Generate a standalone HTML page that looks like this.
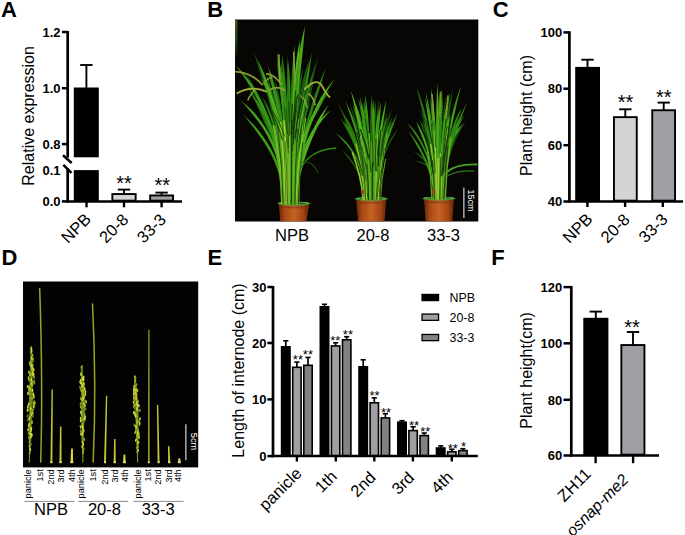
<!DOCTYPE html>
<html><head><meta charset="utf-8"><title>Figure</title>
<style>
html,body{margin:0;padding:0;background:#fff;}
body{width:685px;height:535px;overflow:hidden;font-family:"Liberation Sans", sans-serif;}
svg{display:block;font-family:"Liberation Sans", sans-serif;}
</style></head><body>
<svg width="685" height="535" viewBox="0 0 685 535">
<rect x="0" y="0" width="685" height="535" fill="#ffffff"/>
<defs><clipPath id="clipB"><rect x="235" y="19.5" width="243.3" height="202.0"/></clipPath><filter id="soft" x="-5%" y="-5%" width="110%" height="110%"><feGaussianBlur stdDeviation="0.45"/></filter><filter id="soft2" x="-5%" y="-5%" width="110%" height="110%"><feGaussianBlur stdDeviation="0.35"/></filter></defs>
<rect x="235" y="19.5" width="243.3" height="202.0" fill="#070605"/>
<g clip-path="url(#clipB)"><g filter="url(#soft)">
<defs><linearGradient id="lstrip" x1="0" x2="0" y1="0" y2="1"><stop offset="0" stop-color="#4c5a14"/><stop offset="0.55" stop-color="#1c4410"/><stop offset="1" stop-color="#070605"/></linearGradient></defs>
<rect x="235" y="19.5" width="2.4" height="40" fill="url(#lstrip)"/>
<defs><linearGradient id="pot1" x1="0" x2="1" y1="0" y2="0"><stop offset="0" stop-color="#5e240a"/><stop offset="0.2" stop-color="#a84a16"/><stop offset="0.5" stop-color="#c66222"/><stop offset="0.8" stop-color="#a44614"/><stop offset="1" stop-color="#5a220a"/></linearGradient></defs>
<path d="M278.59999999999997,203.8 L309.2,203.8 L308.79999999999995,206.3 L306.5,221.5 L280.2,221.5 L279.0,206.3 Z" fill="url(#pot1)"/>
<path d="M279.0,207.5 L308.79999999999995,207.5" stroke="#7a300e" stroke-width="1.6" stroke-opacity="0.55"/>
<ellipse cx="293.9" cy="203.5" rx="16.5" ry="2.0" fill="#3f9a38"/>
<ellipse cx="293.9" cy="203.0" rx="15.0" ry="1.0" fill="#6cbc48"/>
<ellipse cx="293.9" cy="203.20000000000002" rx="12.5" ry="0.7" fill="#1c3c18"/>
<defs><linearGradient id="pot2" x1="0" x2="1" y1="0" y2="0"><stop offset="0" stop-color="#5e240a"/><stop offset="0.2" stop-color="#a84a16"/><stop offset="0.5" stop-color="#c66222"/><stop offset="0.8" stop-color="#a44614"/><stop offset="1" stop-color="#5a220a"/></linearGradient></defs>
<path d="M355.9,199.1 L386.6,199.1 L386.2,201.6 L384.5,221.5 L358.1,221.5 L356.3,201.6 Z" fill="url(#pot2)"/>
<path d="M356.3,202.79999999999998 L386.2,202.79999999999998" stroke="#7a300e" stroke-width="1.6" stroke-opacity="0.55"/>
<ellipse cx="371.25" cy="198.79999999999998" rx="16.55000000000001" ry="2.0" fill="#3f9a38"/>
<ellipse cx="371.25" cy="198.29999999999998" rx="15.050000000000011" ry="1.0" fill="#6cbc48"/>
<ellipse cx="371.25" cy="198.5" rx="12.550000000000011" ry="0.7" fill="#1c3c18"/>
<defs><linearGradient id="pot3" x1="0" x2="1" y1="0" y2="0"><stop offset="0" stop-color="#5e240a"/><stop offset="0.2" stop-color="#a84a16"/><stop offset="0.5" stop-color="#c66222"/><stop offset="0.8" stop-color="#a44614"/><stop offset="1" stop-color="#5a220a"/></linearGradient></defs>
<path d="M423.8,198.7 L454.2,198.7 L453.79999999999995,201.2 L452.2,221.5 L425.6,221.5 L424.20000000000005,201.2 Z" fill="url(#pot3)"/>
<path d="M424.20000000000005,202.39999999999998 L453.79999999999995,202.39999999999998" stroke="#7a300e" stroke-width="1.6" stroke-opacity="0.55"/>
<ellipse cx="439.0" cy="198.39999999999998" rx="16.399999999999977" ry="2.0" fill="#3f9a38"/>
<ellipse cx="439.0" cy="197.89999999999998" rx="14.899999999999977" ry="1.0" fill="#6cbc48"/>
<ellipse cx="439.0" cy="198.1" rx="12.399999999999977" ry="0.7" fill="#1c3c18"/>
<path d="M291.5,190.9 L291.7,180.4 L292.0,170.1 L292.3,160.1 L292.4,150.3 L292.5,140.9 L292.6,131.6 L292.8,122.7 L293.0,114.0 L293.2,105.6 L293.4,97.4 L293.7,89.5 L293.6,81.9 L293.5,74.5 L293.3,67.4 L293.3,67.4 L292.4,74.5 L291.7,81.8 L291.2,89.4 L290.9,97.3 L290.7,105.5 L290.5,113.9 L290.3,122.6 L290.1,131.6 L290.0,140.8 L289.9,150.3 L289.8,160.1 L289.9,170.1 L290.0,180.4 L290.2,190.9Z" fill="#1a540b"/>
<path d="M292.3,189.8 L292.5,181.4 L292.7,173.0 L292.9,164.6 L293.0,156.1 L293.1,147.6 L293.2,139.1 L293.3,130.6 L293.5,122.0 L293.6,113.3 L293.8,104.7 L294.0,96.0 L294.0,87.2 L293.9,78.4 L293.7,69.6 L293.7,69.6 L293.1,78.4 L292.6,87.2 L292.2,95.9 L292.0,104.6 L291.8,113.3 L291.7,121.9 L291.5,130.5 L291.4,139.1 L291.3,147.6 L291.2,156.1 L291.1,164.6 L291.2,173.0 L291.3,181.4 L291.4,189.8Z" fill="#1c5a0c"/>
<path d="M279.9,171.8 L279.5,165.4 L278.9,159.1 L277.9,152.7 L276.5,146.3 L274.8,140.0 L272.8,133.6 L270.6,127.3 L268.0,121.0 L265.2,114.7 L262.1,108.4 L258.8,102.1 L254.9,96.0 L250.6,89.9 L246.0,84.0 L246.0,84.0 L249.7,90.5 L253.3,97.0 L256.6,103.3 L259.9,109.5 L263.0,115.7 L265.7,122.0 L268.2,128.2 L270.5,134.4 L272.4,140.7 L274.1,146.9 L275.5,153.2 L276.8,159.4 L277.9,165.6 L278.7,171.9Z" fill="#1a540b"/>
<path d="M283.3,161.0 L283.1,156.2 L282.8,151.5 L282.2,146.8 L281.3,142.1 L280.2,137.4 L278.9,132.7 L277.4,128.1 L275.7,123.5 L273.9,118.8 L271.8,114.2 L269.5,109.6 L266.9,105.2 L264.0,100.8 L260.9,96.4 L260.9,96.4 L263.4,101.1 L265.9,105.7 L268.1,110.4 L270.4,114.9 L272.4,119.4 L274.3,124.0 L276.0,128.6 L277.4,133.2 L278.7,137.8 L279.8,142.4 L280.7,147.0 L281.5,151.7 L282.1,156.3 L282.5,161.0Z" fill="#143f08"/>
<path d="M291.0,189.5 L291.3,181.1 L291.5,172.7 L291.7,164.6 L291.8,156.6 L291.9,148.8 L292.0,141.1 L292.1,133.6 L292.2,126.3 L292.3,119.1 L292.4,112.1 L292.6,105.3 L292.4,98.6 L292.2,92.0 L291.9,85.7 L291.9,85.7 L291.2,92.0 L290.7,98.5 L290.2,105.2 L290.1,112.1 L290.0,119.1 L289.9,126.2 L289.8,133.6 L289.7,141.1 L289.6,148.8 L289.5,156.6 L289.4,164.6 L289.5,172.7 L289.7,181.0 L289.9,189.5Z" fill="#20660e"/>
<path d="M287.7,196.7 L287.7,187.3 L287.6,178.1 L287.3,169.0 L286.8,160.0 L286.2,151.1 L285.5,142.4 L284.6,133.8 L283.6,125.4 L282.6,117.0 L281.4,108.8 L280.1,100.7 L278.4,92.8 L276.6,85.1 L274.5,77.5 L274.5,77.5 L275.7,85.3 L276.9,93.1 L278.0,101.1 L279.3,109.1 L280.5,117.3 L281.6,125.6 L282.5,134.0 L283.4,142.6 L284.1,151.3 L284.7,160.1 L285.3,169.1 L285.8,178.1 L286.3,187.4 L286.7,196.7Z" fill="#1c5a0c"/>
<path d="M285.2,163.5 L285.0,156.8 L284.8,150.1 L284.3,143.4 L283.6,136.7 L282.8,130.1 L281.8,123.6 L280.7,117.0 L279.5,110.5 L278.1,104.1 L276.6,97.7 L274.9,91.3 L272.9,85.0 L270.7,78.8 L268.3,72.6 L268.3,72.6 L270.0,79.0 L271.7,85.4 L273.2,91.7 L274.9,98.1 L276.4,104.5 L277.8,110.9 L279.0,117.3 L280.1,123.8 L281.1,130.4 L281.9,136.9 L282.6,143.5 L283.3,150.2 L283.9,156.8 L284.3,163.5Z" fill="#174e0a"/>
<path d="M284.0,169.2 L283.8,163.3 L283.4,157.3 L282.9,151.3 L282.0,145.3 L281.1,139.3 L280.0,133.3 L278.8,127.3 L277.5,121.3 L276.0,115.3 L274.4,109.2 L272.7,103.2 L270.6,97.2 L268.3,91.2 L265.7,85.3 L265.7,85.3 L267.3,91.6 L269.0,97.7 L270.5,103.8 L272.2,109.8 L273.8,115.8 L275.3,121.8 L276.6,127.8 L277.8,133.8 L278.9,139.7 L279.8,145.7 L280.6,151.6 L281.5,157.5 L282.2,163.4 L282.9,169.3Z" fill="#174e0a"/>
<path d="M292.1,187.4 L292.4,180.3 L292.8,173.2 L293.1,166.1 L293.4,159.1 L293.7,152.1 L294.0,145.2 L294.4,138.3 L294.8,131.5 L295.3,124.7 L295.9,118.0 L296.5,111.3 L296.8,104.6 L297.1,98.0 L297.4,91.3 L297.4,91.3 L296.1,97.9 L295.1,104.4 L294.2,111.1 L293.6,117.8 L293.0,124.6 L292.5,131.4 L292.1,138.2 L291.7,145.1 L291.4,152.0 L291.1,159.0 L290.8,166.0 L290.8,173.1 L290.8,180.2 L291.0,187.4Z" fill="#1c5a0c"/>
<path d="M295.7,200.3 L296.3,190.7 L297.1,181.1 L298.0,171.5 L298.9,162.0 L299.9,152.4 L301.2,142.8 L302.6,133.2 L304.2,123.7 L305.9,114.1 L307.9,104.6 L310.0,95.0 L311.9,85.4 L314.0,75.7 L316.0,66.0 L316.0,66.0 L312.7,75.4 L309.8,84.9 L307.2,94.4 L305.1,104.0 L303.1,113.6 L301.3,123.2 L299.8,132.8 L298.3,142.4 L297.1,152.0 L296.0,161.7 L295.1,171.3 L294.6,180.9 L294.3,190.6 L294.2,200.2Z" fill="#143f08"/>
<path d="M286.5,200.3 L286.5,190.6 L286.3,180.9 L285.9,171.3 L285.1,161.8 L284.2,152.4 L283.0,143.1 L281.6,133.8 L280.1,124.7 L278.3,115.6 L276.4,106.6 L274.3,97.7 L271.7,88.9 L268.8,80.3 L265.6,71.8 L265.6,71.8 L267.9,80.6 L270.0,89.4 L272.1,98.2 L274.2,107.1 L276.1,116.0 L277.9,125.1 L279.4,134.2 L280.8,143.4 L281.9,152.7 L282.9,162.0 L283.6,171.5 L284.4,181.0 L285.0,190.6 L285.4,200.3Z" fill="#1c5a0c"/>
<path d="M284.4,183.7 L284.0,178.3 L283.4,172.8 L282.5,167.3 L281.2,161.7 L279.7,156.0 L278.0,150.3 L276.1,144.5 L274.0,138.6 L271.6,132.6 L269.1,126.5 L266.3,120.4 L263.1,114.4 L259.5,108.3 L255.6,102.3 L255.6,102.3 L258.4,108.9 L261.1,115.3 L263.8,121.6 L266.5,127.7 L269.0,133.7 L271.3,139.6 L273.4,145.4 L275.3,151.1 L277.0,156.8 L278.4,162.4 L279.7,167.9 L281.0,173.3 L282.1,178.6 L283.0,183.9Z" fill="#1a540b"/>
<path d="M292.0,188.6 L292.3,176.6 L292.7,165.0 L293.1,153.8 L293.4,143.0 L293.8,132.6 L294.2,122.5 L294.7,112.9 L295.2,103.7 L295.8,94.8 L296.4,86.4 L297.1,78.3 L297.6,70.7 L298.1,63.4 L298.4,56.4 L298.4,56.4 L297.1,63.2 L295.9,70.5 L294.9,78.1 L294.2,86.2 L293.6,94.7 L293.0,103.5 L292.5,112.8 L292.0,122.4 L291.6,132.5 L291.2,142.9 L290.9,153.7 L290.8,164.9 L290.8,176.5 L290.9,188.5Z" fill="#1a540b"/>
<path d="M284.5,169.2 L284.3,163.0 L284.0,156.7 L283.4,150.3 L282.5,143.8 L281.4,137.3 L280.1,130.7 L278.6,124.0 L276.9,117.3 L275.1,110.5 L273.1,103.7 L270.9,96.7 L268.2,89.8 L265.3,82.9 L262.0,76.0 L262.0,76.0 L264.2,83.3 L266.3,90.5 L268.4,97.6 L270.5,104.4 L272.5,111.2 L274.4,118.0 L276.0,124.6 L277.5,131.2 L278.7,137.8 L279.8,144.2 L280.8,150.6 L281.7,156.9 L282.5,163.1 L283.2,169.3Z" fill="#174e0a"/>
<path d="M295.1,188.0 L295.5,177.0 L296.0,166.3 L296.6,156.0 L297.2,145.9 L297.9,136.0 L298.7,126.5 L299.7,117.3 L300.8,108.3 L302.0,99.6 L303.4,91.2 L304.9,83.0 L306.3,75.1 L307.6,67.5 L309.0,60.0 L309.0,60.0 L306.5,67.2 L304.3,74.7 L302.3,82.5 L300.8,90.7 L299.4,99.2 L298.1,107.9 L297.0,117.0 L296.1,126.3 L295.2,135.8 L294.5,145.7 L294.0,155.8 L293.8,166.3 L293.7,177.0 L293.8,187.9Z" fill="#1c5a0c"/>
<path d="M293.7,189.4 L294.0,179.7 L294.5,170.1 L295.0,160.7 L295.4,151.4 L295.8,142.4 L296.4,133.4 L297.1,124.7 L297.8,116.1 L298.6,107.7 L299.5,99.4 L300.5,91.3 L301.3,83.4 L302.1,75.5 L302.8,67.8 L302.8,67.8 L301.0,75.4 L299.5,83.1 L298.1,91.0 L297.1,99.1 L296.2,107.4 L295.3,115.9 L294.6,124.5 L293.9,133.3 L293.4,142.2 L292.9,151.3 L292.5,160.6 L292.3,170.0 L292.4,179.6 L292.4,189.4Z" fill="#20660e"/>
<path d="M295.2,198.4 L295.9,189.7 L296.7,181.1 L297.6,172.5 L298.5,164.0 L299.5,155.5 L300.6,147.1 L301.9,138.6 L303.4,130.3 L304.9,121.9 L306.6,113.7 L308.5,105.4 L310.2,97.2 L312.0,88.9 L313.8,80.6 L313.8,80.6 L311.0,88.6 L308.6,96.7 L306.3,104.9 L304.5,113.2 L302.8,121.5 L301.2,129.9 L299.8,138.3 L298.5,146.7 L297.3,155.2 L296.3,163.8 L295.4,172.3 L294.8,181.0 L294.4,189.6 L294.1,198.3Z" fill="#20660e"/>
<path d="M292.5,184.6 L292.7,175.7 L293.0,167.1 L293.4,158.8 L293.7,150.7 L294.0,142.9 L294.4,135.3 L294.8,127.9 L295.3,120.8 L295.9,114.0 L296.6,107.4 L297.3,101.0 L297.8,94.9 L298.3,89.0 L298.7,83.3 L298.7,83.3 L297.4,88.9 L296.2,94.7 L295.2,100.8 L294.5,107.2 L293.9,113.8 L293.3,120.7 L292.8,127.8 L292.3,135.2 L291.9,142.8 L291.6,150.6 L291.3,158.8 L291.3,167.1 L291.3,175.7 L291.4,184.6Z" fill="#1a540b"/>
<path d="M284.3,181.8 L283.9,172.6 L283.4,163.3 L282.5,154.0 L281.2,144.8 L279.7,135.5 L277.9,126.2 L275.9,116.9 L273.6,107.6 L271.1,98.3 L268.4,88.9 L265.4,79.6 L261.8,70.3 L257.9,61.1 L253.6,52.0 L253.6,52.0 L256.7,61.6 L259.6,71.1 L262.5,80.5 L265.5,89.8 L268.2,99.1 L270.7,108.3 L272.9,117.6 L274.9,126.8 L276.7,136.0 L278.2,145.2 L279.5,154.4 L280.8,163.6 L281.9,172.7 L282.7,181.9Z" fill="#1c5a0c"/>
<path d="M294.6,197.5 L295.3,186.9 L296.3,176.3 L297.4,165.9 L298.5,155.6 L299.7,145.4 L301.2,135.3 L302.8,125.3 L304.6,115.4 L306.6,105.6 L308.8,96.0 L311.1,86.4 L313.4,76.9 L315.7,67.4 L318.0,58.0 L318.0,58.0 L314.5,67.1 L311.3,76.3 L308.4,85.7 L306.0,95.3 L303.8,105.0 L301.8,114.9 L300.0,124.8 L298.4,134.9 L296.9,145.0 L295.7,155.3 L294.6,165.7 L293.9,176.2 L293.4,186.8 L293.2,197.5Z" fill="#1a540b"/>
<path d="M296.9,189.9 L297.6,182.0 L298.5,174.1 L299.6,166.1 L300.7,158.2 L302.1,150.3 L303.7,142.3 L305.5,134.3 L307.6,126.3 L309.9,118.3 L312.4,110.3 L315.1,102.3 L317.8,94.1 L320.6,85.9 L323.5,77.6 L323.5,77.6 L319.6,85.5 L316.0,93.4 L312.8,101.4 L310.0,109.5 L307.5,117.6 L305.2,125.7 L303.1,133.7 L301.3,141.8 L299.7,149.8 L298.3,157.8 L297.1,165.8 L296.4,173.8 L295.9,181.8 L295.6,189.8Z" fill="#1a540b"/>
<path d="M281.5,165.6 L281.4,160.9 L281.0,156.2 L280.4,151.5 L279.4,146.8 L278.3,142.1 L276.9,137.4 L275.3,132.7 L273.6,128.0 L271.6,123.2 L269.4,118.5 L267.0,113.8 L264.2,109.1 L261.2,104.5 L257.9,100.0 L257.9,100.0 L260.6,104.9 L263.1,109.8 L265.5,114.6 L267.9,119.2 L270.1,123.9 L272.0,128.6 L273.8,133.2 L275.3,137.9 L276.6,142.5 L277.8,147.2 L278.7,151.8 L279.6,156.4 L280.2,161.0 L280.7,165.6Z" fill="#1c5a0c"/>
<path d="M292.7,190.9 L293.0,182.2 L293.4,173.6 L293.8,165.0 L294.1,156.5 L294.5,148.0 L295.0,139.6 L295.5,131.3 L296.2,123.0 L296.8,114.8 L297.6,106.7 L298.4,98.6 L299.0,90.6 L299.6,82.6 L300.2,74.7 L300.2,74.7 L298.7,82.5 L297.4,90.4 L296.3,98.4 L295.5,106.5 L294.7,114.6 L294.0,122.8 L293.4,131.1 L292.9,139.5 L292.4,147.9 L292.0,156.4 L291.7,164.9 L291.6,173.5 L291.5,182.2 L291.6,190.9Z" fill="#174e0a"/>
<path d="M292.3,191.4 L292.6,182.1 L293.0,173.0 L293.4,163.9 L293.7,154.9 L294.1,146.0 L294.5,137.3 L295.0,128.6 L295.6,120.1 L296.3,111.6 L297.0,103.3 L297.7,95.1 L298.3,86.9 L298.9,78.9 L299.5,70.9 L299.5,70.9 L298.2,78.8 L297.0,86.8 L295.9,94.9 L295.2,103.1 L294.4,111.5 L293.8,119.9 L293.2,128.5 L292.7,137.2 L292.3,146.0 L291.9,154.8 L291.6,163.8 L291.4,172.9 L291.4,182.1 L291.4,191.4Z" fill="#2a7c10"/>
<path d="M296.1,184.5 L296.8,175.7 L297.5,166.9 L298.4,157.9 L299.2,148.8 L300.0,139.6 L301.0,130.4 L302.2,121.0 L303.4,111.5 L304.8,101.9 L306.3,92.2 L307.9,82.3 L309.3,72.4 L310.6,62.3 L312.0,52.0 L312.0,52.0 L309.4,62.0 L307.1,72.0 L305.0,81.9 L303.4,91.7 L302.0,101.4 L300.6,111.1 L299.3,120.6 L298.2,130.0 L297.2,139.4 L296.3,148.6 L295.6,157.7 L295.1,166.7 L294.8,175.6 L294.7,184.5Z" fill="#2e8812"/>
<path d="M287.0,193.1 L286.7,182.4 L286.3,172.0 L285.7,161.9 L284.9,152.1 L283.9,142.6 L282.7,133.4 L281.5,124.5 L280.0,115.9 L278.5,107.6 L276.8,99.7 L275.0,92.0 L272.8,84.7 L270.4,77.7 L267.8,71.1 L267.8,71.1 L269.6,77.9 L271.5,85.0 L273.2,92.4 L275.0,100.1 L276.7,108.0 L278.3,116.2 L279.7,124.8 L280.9,133.6 L282.1,142.8 L283.1,152.3 L283.9,162.0 L284.8,172.1 L285.5,182.5 L286.1,193.2Z" fill="#328e14"/>
<path d="M290.0,201.9 L290.1,192.4 L290.2,183.1 L290.2,174.0 L290.1,165.0 L289.9,156.2 L289.8,147.5 L289.6,139.0 L289.4,130.6 L289.1,122.4 L288.9,114.4 L288.6,106.5 L288.1,98.7 L287.5,91.1 L286.8,83.7 L286.8,83.7 L286.8,91.2 L286.9,98.8 L287.0,106.5 L287.2,114.4 L287.5,122.5 L287.7,130.7 L288.0,139.0 L288.1,147.5 L288.3,156.2 L288.5,165.0 L288.6,174.0 L288.8,183.1 L289.0,192.4 L289.2,201.9Z" fill="#2c8412"/>
<path d="M288.9,198.6 L289.0,186.6 L288.9,174.8 L288.8,163.4 L288.4,152.3 L288.0,141.6 L287.5,131.2 L287.0,121.2 L286.4,111.4 L285.8,102.0 L285.1,93.0 L284.4,84.3 L283.3,75.9 L282.1,67.9 L280.8,60.3 L280.8,60.3 L281.2,68.0 L281.7,76.1 L282.2,84.5 L283.0,93.2 L283.7,102.2 L284.3,111.6 L284.9,121.3 L285.4,131.3 L285.8,141.7 L286.3,152.4 L286.6,163.5 L287.1,174.9 L287.5,186.6 L287.9,198.7Z" fill="#2c8412"/>
<path d="M290.9,192.6 L291.1,181.0 L291.3,169.7 L291.5,158.7 L291.4,148.1 L291.3,137.8 L291.1,127.8 L291.0,118.2 L290.8,108.8 L290.6,99.9 L290.4,91.2 L290.2,82.9 L289.6,74.9 L288.9,67.3 L288.0,60.0 L288.0,60.0 L287.7,67.3 L287.5,75.0 L287.4,83.0 L287.6,91.3 L287.8,99.9 L288.0,108.9 L288.1,118.2 L288.3,127.8 L288.4,137.8 L288.5,148.1 L288.6,158.7 L288.9,169.7 L289.2,181.0 L289.5,192.6Z" fill="#328e14"/>
<path d="M292.8,193.3 L293.1,182.7 L293.5,172.2 L293.9,161.9 L294.2,151.8 L294.5,141.7 L294.8,131.9 L295.2,122.1 L295.7,112.6 L296.2,103.1 L296.7,93.8 L297.3,84.7 L297.6,75.7 L297.9,66.8 L298.0,58.0 L298.0,58.0 L296.6,66.7 L295.5,75.5 L294.5,84.5 L293.9,93.7 L293.3,103.0 L292.8,112.4 L292.4,122.0 L292.0,131.8 L291.6,141.6 L291.3,151.7 L291.1,161.9 L291.1,172.2 L291.2,182.7 L291.3,193.3Z" fill="#2c8412"/>
<path d="M280.7,160.9 L280.2,156.4 L279.6,151.7 L278.6,147.0 L277.3,142.3 L275.7,137.5 L273.9,132.6 L271.8,127.7 L269.5,122.7 L267.0,117.6 L264.3,112.5 L261.3,107.3 L257.9,102.2 L254.1,97.1 L250.0,92.0 L250.0,92.0 L253.2,97.7 L256.3,103.2 L259.2,108.5 L262.2,113.7 L264.9,118.7 L267.4,123.7 L269.6,128.7 L271.6,133.5 L273.4,138.3 L275.0,143.0 L276.3,147.6 L277.6,152.2 L278.6,156.6 L279.5,161.1Z" fill="#328e14"/>
<path d="M290.0,197.2 L290.1,186.9 L290.2,176.7 L290.3,166.4 L290.2,156.2 L290.0,146.0 L289.9,135.8 L289.7,125.6 L289.6,115.5 L289.4,105.3 L289.2,95.2 L288.9,85.1 L288.5,75.0 L287.9,64.9 L287.3,54.9 L287.3,54.9 L287.2,64.9 L287.3,75.0 L287.3,85.1 L287.6,95.2 L287.8,105.4 L288.0,115.5 L288.2,125.7 L288.3,135.8 L288.5,146.0 L288.6,156.2 L288.7,166.4 L288.9,176.7 L289.1,186.9 L289.2,197.2Z" fill="#2a7c10"/>
<path d="M289.2,203.4 L289.2,192.7 L289.1,182.1 L288.9,171.7 L288.4,161.5 L287.8,151.6 L287.2,141.8 L286.5,132.2 L285.7,122.8 L284.8,113.6 L283.9,104.6 L282.8,95.8 L281.4,87.3 L279.9,78.9 L278.1,70.8 L278.1,70.8 L278.9,79.1 L279.8,87.5 L280.7,96.1 L281.7,104.9 L282.7,113.8 L283.5,123.0 L284.3,132.4 L285.0,141.9 L285.7,151.7 L286.2,161.6 L286.7,171.8 L287.2,182.2 L287.7,192.7 L288.1,203.5Z" fill="#389616"/>
<path d="M284.5,181.5 L284.4,175.7 L284.1,169.9 L283.6,163.9 L282.8,158.0 L281.7,151.9 L280.4,145.9 L279.0,139.7 L277.3,133.5 L275.4,127.3 L273.3,120.9 L271.0,114.6 L268.3,108.2 L265.3,101.9 L262.0,95.5 L262.0,95.5 L264.6,102.2 L267.0,108.8 L269.3,115.2 L271.5,121.6 L273.6,127.8 L275.5,134.0 L277.1,140.2 L278.6,146.3 L279.9,152.3 L280.9,158.3 L281.8,164.2 L282.6,170.0 L283.2,175.8 L283.6,181.5Z" fill="#2c8412"/>
<path d="M292.0,200.2 L292.3,188.6 L292.5,177.5 L292.7,166.6 L292.8,156.2 L292.9,146.2 L293.0,136.5 L293.1,127.1 L293.2,118.2 L293.4,109.6 L293.5,101.4 L293.7,93.6 L293.6,86.1 L293.4,79.0 L293.1,72.2 L293.1,72.2 L292.4,79.0 L291.8,86.0 L291.3,93.5 L291.2,101.4 L291.0,109.6 L290.9,118.2 L290.7,127.1 L290.6,136.4 L290.5,146.1 L290.4,156.2 L290.4,166.6 L290.5,177.4 L290.6,188.6 L290.8,200.2Z" fill="#2c8412"/>
<path d="M280.0,170.1 L279.5,163.6 L278.7,157.0 L277.7,150.3 L276.2,143.7 L274.5,137.0 L272.5,130.3 L270.3,123.6 L267.9,116.8 L265.2,110.0 L262.2,103.1 L259.1,96.2 L255.4,89.5 L251.4,82.7 L247.0,76.0 L247.0,76.0 L250.4,83.2 L253.6,90.4 L256.7,97.4 L259.9,104.2 L262.8,111.0 L265.4,117.7 L267.8,124.4 L270.0,131.1 L272.0,137.7 L273.7,144.3 L275.1,150.9 L276.5,157.3 L277.7,163.8 L278.7,170.2Z" fill="#328e14"/>
<path d="M286.9,176.0 L286.9,168.6 L286.8,161.1 L286.5,153.5 L285.7,145.9 L284.9,138.2 L283.8,130.5 L282.6,122.6 L281.2,114.7 L279.7,106.7 L277.9,98.6 L276.0,90.5 L273.7,82.3 L271.0,74.2 L268.0,66.0 L268.0,66.0 L269.8,74.5 L271.5,82.9 L273.3,91.2 L275.1,99.2 L276.9,107.3 L278.4,115.2 L279.8,123.1 L281.0,130.9 L282.0,138.6 L282.9,146.2 L283.6,153.8 L284.4,161.2 L285.0,168.6 L285.5,176.0Z" fill="#389616"/>
<path d="M286.5,180.6 L286.4,173.8 L286.1,167.1 L285.6,160.3 L284.9,153.4 L284.1,146.6 L283.0,139.7 L281.8,132.8 L280.5,126.0 L279.0,119.0 L277.3,112.1 L275.5,105.1 L273.4,98.2 L271.0,91.3 L268.4,84.4 L268.4,84.4 L270.3,91.5 L272.2,98.5 L274.0,105.5 L275.8,112.5 L277.5,119.4 L279.0,126.3 L280.3,133.1 L281.5,140.0 L282.5,146.8 L283.4,153.6 L284.1,160.4 L284.8,167.2 L285.3,173.9 L285.7,180.6Z" fill="#2c8412"/>
<path d="M297.4,196.1 L298.4,186.6 L299.6,177.1 L300.9,167.8 L302.3,158.4 L303.8,149.2 L305.6,140.0 L307.6,130.8 L309.8,121.7 L312.2,112.7 L314.7,103.7 L317.6,94.8 L320.3,85.9 L323.1,77.0 L326.0,68.0 L326.0,68.0 L322.0,76.6 L318.4,85.2 L315.1,94.0 L312.3,103.0 L309.6,112.0 L307.2,121.1 L305.0,130.2 L303.1,139.5 L301.3,148.7 L299.7,158.0 L298.3,167.4 L297.4,176.9 L296.6,186.4 L296.1,196.0Z" fill="#2a7c10"/>
<path d="M293.7,175.8 L294.0,169.8 L294.4,163.8 L295.0,157.7 L295.5,151.5 L296.2,145.4 L297.0,139.1 L298.0,132.9 L299.1,126.6 L300.3,120.2 L301.6,113.9 L303.1,107.4 L304.5,100.9 L306.0,94.3 L307.5,87.7 L307.5,87.7 L305.3,94.1 L303.2,100.6 L301.4,107.0 L299.9,113.5 L298.6,119.9 L297.3,126.3 L296.3,132.6 L295.3,138.9 L294.5,145.2 L293.8,151.4 L293.2,157.5 L293.0,163.7 L292.8,169.8 L292.8,175.8Z" fill="#328e14"/>
<path d="M285.7,184.4 L285.6,177.2 L285.3,169.9 L284.8,162.6 L284.0,155.2 L283.1,147.7 L282.0,140.2 L280.8,132.6 L279.3,124.9 L277.8,117.2 L276.0,109.3 L274.1,101.4 L271.9,93.5 L269.4,85.6 L266.6,77.6 L266.6,77.6 L268.6,85.8 L270.5,93.9 L272.3,101.9 L274.2,109.8 L275.9,117.5 L277.5,125.3 L278.9,132.9 L280.1,140.5 L281.2,148.0 L282.2,155.4 L282.9,162.8 L283.7,170.0 L284.3,177.3 L284.8,184.4Z" fill="#2e8812"/>
<path d="M294.9,177.5 L295.5,170.6 L296.3,163.5 L297.2,156.4 L298.1,149.2 L299.1,141.8 L300.3,134.4 L301.6,126.9 L303.0,119.3 L304.6,111.6 L306.3,103.8 L308.1,95.9 L309.8,87.8 L311.6,79.6 L313.4,71.3 L313.4,71.3 L310.8,79.4 L308.4,87.4 L306.2,95.4 L304.3,103.3 L302.6,111.2 L301.1,118.9 L299.6,126.6 L298.4,134.1 L297.2,141.6 L296.2,148.9 L295.3,156.2 L294.7,163.4 L294.2,170.4 L293.9,177.4Z" fill="#328e14"/>
<path d="M291.0,199.1 L291.3,187.1 L291.7,175.2 L292.1,163.5 L292.3,151.9 L292.5,140.5 L292.8,129.2 L293.1,118.0 L293.4,107.0 L293.8,96.1 L294.2,85.4 L294.6,74.8 L294.7,64.3 L294.8,53.9 L294.7,43.7 L294.7,43.7 L293.5,53.9 L292.6,64.2 L291.8,74.6 L291.3,85.3 L290.9,96.0 L290.5,106.9 L290.2,118.0 L289.9,129.1 L289.7,140.4 L289.4,151.9 L289.2,163.5 L289.3,175.2 L289.4,187.1 L289.6,199.1Z" fill="#2a7c10"/>
<path d="M291.6,199.6 L291.9,190.3 L292.2,181.1 L292.5,171.8 L292.8,162.5 L293.1,153.1 L293.4,143.7 L293.8,134.3 L294.2,124.9 L294.7,115.4 L295.2,105.9 L295.8,96.4 L296.2,86.8 L296.6,77.2 L296.9,67.5 L296.9,67.5 L295.7,77.1 L294.6,86.7 L293.8,96.2 L293.2,105.8 L292.6,115.3 L292.2,124.8 L291.7,134.2 L291.3,143.6 L291.0,153.0 L290.7,162.4 L290.5,171.7 L290.5,181.0 L290.5,190.3 L290.6,199.6Z" fill="#328e14"/>
<path d="M300.7,160.9 L301.6,155.5 L302.7,150.2 L304.0,145.0 L305.3,139.8 L306.8,134.6 L308.6,129.5 L310.6,124.5 L312.8,119.5 L315.3,114.6 L318.0,109.7 L320.9,104.9 L323.8,100.0 L326.8,95.0 L330.0,90.0 L330.0,90.0 L325.9,94.3 L322.2,98.9 L318.7,103.5 L315.7,108.4 L313.0,113.4 L310.5,118.4 L308.2,123.5 L306.2,128.6 L304.4,133.8 L302.8,139.1 L301.4,144.4 L300.5,149.8 L299.8,155.2 L299.4,160.7Z" fill="#2c8412"/>
<path d="M289.8,199.9 L290.0,191.2 L290.1,182.4 L290.1,173.7 L289.9,164.8 L289.6,156.0 L289.3,147.1 L288.9,138.1 L288.5,129.2 L288.0,120.2 L287.5,111.1 L286.9,102.0 L286.0,93.0 L284.9,83.8 L283.6,74.7 L283.6,74.7 L283.8,83.9 L284.1,93.1 L284.5,102.2 L285.0,111.3 L285.6,120.3 L286.1,129.3 L286.5,138.2 L286.8,147.2 L287.2,156.0 L287.4,164.9 L287.7,173.7 L288.0,182.5 L288.3,191.2 L288.6,199.9Z" fill="#389616"/>
<path d="M287.9,189.2 L287.7,180.4 L287.5,171.8 L287.1,163.4 L286.5,155.2 L285.8,147.1 L285.0,139.3 L284.0,131.6 L283.0,124.2 L281.9,116.9 L280.7,109.8 L279.4,102.9 L277.7,96.2 L275.9,89.8 L273.8,83.6 L273.8,83.6 L274.8,90.1 L275.9,96.6 L277.0,103.4 L278.3,110.2 L279.5,117.3 L280.6,124.5 L281.6,131.9 L282.5,139.6 L283.3,147.4 L284.1,155.4 L284.7,163.6 L285.4,171.9 L286.1,180.5 L286.6,189.3Z" fill="#328e14"/>
<path d="M296.7,194.7 L297.8,188.2 L299.0,181.8 L300.4,175.3 L301.9,168.9 L303.6,162.4 L305.6,156.0 L307.8,149.6 L310.2,143.2 L312.9,136.8 L315.8,130.5 L318.9,124.1 L322.0,117.6 L325.2,111.1 L328.6,104.4 L328.6,104.4 L324.2,110.4 L320.1,116.6 L316.4,122.8 L313.2,129.3 L310.3,135.7 L307.6,142.2 L305.1,148.7 L302.9,155.2 L300.9,161.7 L299.1,168.2 L297.7,174.8 L296.6,181.4 L295.8,188.0 L295.3,194.6Z" fill="#56b422"/>
<path d="M283.8,176.3 L283.3,171.8 L282.7,167.2 L281.9,162.6 L280.8,158.0 L279.5,153.4 L278.1,148.8 L276.5,144.1 L274.7,139.5 L272.8,134.8 L270.7,130.1 L268.4,125.3 L265.8,120.6 L263.0,116.0 L259.9,111.4 L259.9,111.4 L262.3,116.4 L264.6,121.3 L266.8,126.1 L269.1,130.8 L271.1,135.5 L273.0,140.1 L274.8,144.8 L276.4,149.4 L277.8,153.9 L279.0,158.5 L280.1,163.0 L281.2,167.5 L282.1,172.0 L282.9,176.4Z" fill="#2c8412"/>
<path d="M293.4,203.6 L293.9,187.6 L294.5,172.2 L295.2,157.2 L295.7,142.8 L296.3,128.9 L297.1,115.5 L297.9,102.6 L298.8,90.2 L299.9,78.2 L301.0,66.8 L302.3,55.9 L303.3,45.5 L304.2,35.5 L305.0,26.0 L305.0,26.0 L302.7,35.3 L300.7,45.1 L298.9,55.5 L297.6,66.5 L296.5,77.9 L295.4,89.9 L294.5,102.3 L293.6,115.3 L292.9,128.7 L292.3,142.7 L291.7,157.1 L291.6,172.1 L291.6,187.6 L291.7,203.5Z" fill="#48a81c"/>
<path d="M280.7,175.0 L280.1,165.7 L279.1,156.6 L277.6,147.7 L275.7,139.1 L273.3,130.6 L270.6,122.4 L267.6,114.4 L264.2,106.5 L260.5,98.9 L256.4,91.5 L252.0,84.3 L246.9,77.6 L241.4,71.1 L235.5,65.0 L235.5,65.0 L240.5,71.9 L245.2,78.8 L249.6,85.9 L254.0,93.0 L258.0,100.2 L261.6,107.7 L265.0,115.4 L268.0,123.3 L270.6,131.5 L272.9,139.8 L274.8,148.3 L276.6,157.0 L278.2,166.0 L279.3,175.2Z" fill="#389616"/>
<path d="M294.1,193.9 L294.5,184.1 L295.1,174.6 L295.8,165.3 L296.6,156.3 L297.5,147.5 L298.6,138.9 L299.9,130.5 L301.4,122.4 L303.0,114.5 L304.8,106.8 L306.8,99.4 L308.7,92.1 L310.7,85.0 L312.9,78.0 L312.9,78.0 L310.0,84.7 L307.3,91.6 L304.9,98.8 L302.9,106.4 L301.1,114.1 L299.5,122.0 L298.0,130.2 L296.7,138.6 L295.6,147.3 L294.7,156.1 L293.9,165.2 L293.5,174.5 L293.2,184.1 L293.1,193.8Z" fill="#2a7c10"/>
<path d="M293.1,203.9 L293.7,193.6 L294.4,183.4 L295.2,173.4 L296.0,163.4 L296.9,153.6 L297.9,143.8 L299.0,134.2 L300.3,124.7 L301.6,115.3 L303.1,106.0 L304.7,96.8 L306.2,87.7 L307.7,78.7 L309.2,69.7 L309.2,69.7 L306.8,78.5 L304.6,87.4 L302.7,96.5 L301.1,105.7 L299.6,115.0 L298.2,124.4 L297.0,134.0 L295.8,143.6 L294.8,153.4 L293.9,163.2 L293.2,173.2 L292.6,183.3 L292.3,193.5 L292.0,203.8Z" fill="#2c8412"/>
<path d="M284.3,193.4 L284.0,185.2 L283.2,177.3 L282.0,169.6 L280.3,162.1 L278.1,154.8 L275.6,147.7 L272.6,140.9 L269.2,134.3 L265.5,127.8 L261.3,121.7 L256.8,115.7 L251.7,110.1 L246.1,104.9 L240.0,100.0 L240.0,100.0 L245.3,105.6 L250.3,111.4 L254.9,117.2 L259.4,123.1 L263.5,129.1 L267.1,135.4 L270.4,141.9 L273.3,148.6 L275.8,155.5 L277.9,162.7 L279.7,170.0 L281.2,177.6 L282.3,185.4 L283.1,193.4Z" fill="#48a81c"/>
<path d="M298.0,189.5 L298.9,180.0 L300.1,170.7 L301.6,161.8 L303.2,153.0 L305.1,144.6 L307.3,136.3 L309.8,128.3 L312.6,120.6 L315.7,113.1 L319.2,105.9 L322.9,98.9 L326.7,92.0 L330.7,85.2 L335.0,78.6 L335.0,78.6 L329.9,84.6 L325.1,90.9 L320.8,97.6 L317.0,104.7 L313.5,112.1 L310.3,119.7 L307.4,127.5 L304.9,135.6 L302.7,144.0 L300.7,152.6 L299.1,161.4 L298.0,170.5 L297.3,179.8 L296.8,189.4Z" fill="#48a81c"/>
<path d="M296.5,182.1 L297.4,175.2 L298.5,168.5 L299.7,162.0 L300.9,155.6 L302.3,149.5 L303.8,143.5 L305.6,137.8 L307.6,132.3 L309.8,126.9 L312.1,121.8 L314.7,116.8 L317.2,111.9 L319.7,107.1 L322.4,102.3 L322.4,102.3 L318.7,106.4 L315.3,110.8 L312.2,115.5 L309.6,120.5 L307.2,125.8 L304.9,131.2 L302.9,136.9 L301.1,142.8 L299.5,148.8 L298.1,155.0 L296.9,161.5 L296.0,168.1 L295.5,175.0 L295.1,182.0Z" fill="#48a81c"/>
<path d="M299.4,178.5 L300.0,172.7 L300.9,167.1 L302.1,161.7 L303.4,156.3 L305.0,151.1 L306.8,146.1 L309.0,141.2 L311.4,136.4 L314.1,131.8 L317.0,127.3 L320.3,123.0 L323.6,118.6 L327.2,114.3 L331.0,110.0 L331.0,110.0 L326.5,113.6 L322.4,117.5 L318.6,121.6 L315.2,126.0 L312.2,130.6 L309.4,135.4 L307.0,140.2 L304.8,145.3 L302.9,150.4 L301.3,155.7 L300.0,161.2 L299.1,166.8 L298.5,172.6 L298.3,178.5Z" fill="#48a81c"/>
<path d="M288.2,186.2 L288.1,176.8 L288.0,167.5 L287.7,158.2 L287.2,149.0 L286.7,139.7 L286.0,130.5 L285.2,121.3 L284.4,112.1 L283.5,102.9 L282.5,93.8 L281.4,84.6 L280.0,75.5 L278.4,66.5 L276.6,57.5 L276.6,57.5 L277.6,66.6 L278.5,75.7 L279.5,84.9 L280.6,94.0 L281.6,103.1 L282.5,112.3 L283.3,121.5 L284.1,130.6 L284.7,139.9 L285.3,149.1 L285.8,158.3 L286.3,167.6 L286.8,176.9 L287.2,186.2Z" fill="#3e9c16"/>
<path d="M289.0,183.3 L289.1,173.1 L289.1,163.2 L289.1,153.3 L288.8,143.6 L288.4,134.0 L288.1,124.6 L287.6,115.3 L287.1,106.1 L286.6,97.1 L286.0,88.2 L285.4,79.4 L284.4,70.8 L283.3,62.3 L282.0,54.0 L282.0,54.0 L282.2,62.4 L282.6,70.9 L282.9,79.6 L283.6,88.3 L284.1,97.2 L284.7,106.2 L285.1,115.4 L285.6,124.7 L286.0,134.1 L286.3,143.7 L286.6,153.4 L287.0,163.2 L287.4,173.2 L287.8,183.3Z" fill="#2c8412"/>
<path d="M283.4,191.6 L283.2,186.2 L282.7,180.8 L281.7,175.3 L280.2,169.8 L278.3,164.3 L276.0,158.8 L273.3,153.2 L270.3,147.6 L266.9,142.1 L263.1,136.4 L258.9,130.8 L254.2,125.3 L249.0,119.9 L243.3,114.6 L243.3,114.6 L248.1,120.6 L252.7,126.5 L257.0,132.3 L261.1,137.9 L264.8,143.4 L268.1,148.9 L271.1,154.3 L273.7,159.8 L275.9,165.2 L277.8,170.5 L279.3,175.9 L280.6,181.2 L281.6,186.4 L282.2,191.7Z" fill="#3e9c16"/>
<path d="M288.3,177.3 L288.4,167.6 L288.5,158.0 L288.4,148.5 L288.0,139.1 L287.4,129.8 L286.8,120.7 L286.1,111.7 L285.3,102.8 L284.4,94.0 L283.4,85.3 L282.3,76.7 L280.8,68.3 L279.0,60.1 L277.0,52.0 L277.0,52.0 L277.8,60.3 L278.6,68.7 L279.5,77.1 L280.6,85.7 L281.6,94.3 L282.5,103.0 L283.3,111.9 L284.0,120.9 L284.6,130.0 L285.1,139.2 L285.5,148.6 L286.0,158.0 L286.5,167.6 L286.9,177.3Z" fill="#389616"/>
<path d="M285.0,182.0 L284.7,172.8 L284.1,163.5 L283.3,154.4 L282.1,145.3 L280.7,136.4 L279.1,127.5 L277.3,118.7 L275.3,110.0 L273.1,101.4 L270.8,92.8 L268.2,84.4 L265.1,76.1 L261.7,68.0 L258.0,60.0 L258.0,60.0 L260.6,68.4 L263.1,76.8 L265.5,85.2 L268.1,93.6 L270.4,102.1 L272.6,110.7 L274.6,119.3 L276.4,128.0 L277.9,136.9 L279.3,145.8 L280.5,154.7 L281.7,163.8 L282.8,172.9 L283.6,182.1Z" fill="#44a41a"/>
<path d="M283.6,165.2 L283.5,157.4 L283.2,149.8 L282.7,142.5 L281.9,135.4 L280.8,128.5 L279.5,122.0 L278.1,115.6 L276.4,109.5 L274.5,103.7 L272.4,98.1 L270.1,92.8 L267.4,87.8 L264.5,83.1 L261.3,78.7 L261.3,78.7 L263.8,83.5 L266.3,88.4 L268.6,93.5 L270.8,98.7 L272.9,104.3 L274.8,110.0 L276.4,116.0 L277.9,122.3 L279.1,128.8 L280.2,135.6 L281.0,142.6 L281.8,149.9 L282.4,157.4 L282.8,165.2Z" fill="#56b422"/>
<path d="M290.5,189.8 L290.5,181.9 L290.5,174.1 L290.5,166.4 L290.1,158.8 L289.8,151.2 L289.4,143.8 L288.9,136.4 L288.4,129.1 L287.8,121.8 L287.2,114.7 L286.5,107.6 L285.5,100.7 L284.4,93.8 L283.0,87.0 L283.0,87.0 L283.3,93.9 L283.7,100.9 L284.1,107.9 L284.7,114.9 L285.4,122.0 L285.9,129.2 L286.4,136.5 L286.9,143.9 L287.3,151.4 L287.7,158.9 L288.0,166.5 L288.4,174.2 L288.9,182.0 L289.2,189.8Z" fill="#328e14"/>
<path d="M293.0,188.0 L293.4,174.5 L293.9,161.5 L294.3,148.9 L294.7,136.7 L295.0,125.0 L295.5,113.8 L296.0,103.0 L296.6,92.7 L297.2,82.8 L297.9,73.4 L298.7,64.4 L299.2,55.8 L299.7,47.7 L300.0,40.0 L300.0,40.0 L298.4,47.6 L297.1,55.6 L295.9,64.1 L295.1,73.1 L294.4,82.6 L293.8,92.5 L293.2,102.9 L292.7,113.7 L292.2,124.9 L291.8,136.6 L291.5,148.8 L291.4,161.4 L291.5,174.5 L291.6,188.0Z" fill="#56b422"/>
<path d="M293.1,184.5 L293.5,173.1 L293.9,162.1 L294.4,151.4 L294.7,141.1 L295.0,131.1 L295.4,121.5 L295.9,112.2 L296.4,103.2 L296.9,94.6 L297.5,86.3 L298.2,78.4 L298.6,70.8 L299.0,63.5 L299.2,56.6 L299.2,56.6 L297.9,63.4 L296.8,70.6 L295.8,78.2 L295.1,86.1 L294.5,94.4 L294.0,103.1 L293.5,112.0 L293.0,121.3 L292.6,131.0 L292.3,141.0 L292.0,151.3 L291.9,162.0 L291.9,173.1 L291.9,184.4Z" fill="#389616"/>
<path d="M295.4,183.2 L295.8,175.9 L296.3,168.8 L297.0,161.9 L297.6,155.3 L298.4,148.8 L299.3,142.7 L300.4,136.7 L301.6,131.0 L303.0,125.5 L304.5,120.2 L306.1,115.1 L307.7,110.2 L309.3,105.5 L311.0,100.9 L311.0,100.9 L308.5,105.2 L306.3,109.7 L304.2,114.5 L302.6,119.6 L301.1,125.0 L299.7,130.5 L298.5,136.3 L297.4,142.3 L296.4,148.6 L295.6,155.1 L295.0,161.7 L294.6,168.7 L294.4,175.8 L294.4,183.2Z" fill="#2a7c10"/>
<path d="M293.9,195.0 L294.3,187.5 L294.8,180.0 L295.4,172.6 L295.9,165.2 L296.5,157.9 L297.3,150.5 L298.2,143.3 L299.2,136.0 L300.3,128.9 L301.5,121.7 L302.8,114.6 L304.0,107.5 L305.3,100.4 L306.5,93.3 L306.5,93.3 L304.3,100.1 L302.3,107.1 L300.6,114.2 L299.2,121.3 L298.0,128.5 L296.9,135.7 L295.9,143.0 L295.0,150.3 L294.3,157.6 L293.6,165.0 L293.1,172.5 L292.8,179.9 L292.8,187.5 L292.8,195.0Z" fill="#56b422"/>
<path d="M292.1,195.7 L292.3,186.8 L292.5,178.0 L292.8,169.2 L292.9,160.4 L293.0,151.7 L293.2,143.0 L293.3,134.3 L293.5,125.7 L293.8,117.1 L294.0,108.5 L294.3,100.0 L294.3,91.5 L294.3,83.0 L294.2,74.6 L294.2,74.6 L293.5,83.0 L292.8,91.4 L292.3,99.9 L292.1,108.5 L291.8,117.0 L291.6,125.7 L291.4,134.3 L291.2,143.0 L291.1,151.7 L290.9,160.4 L290.8,169.2 L290.9,178.0 L291.0,186.8 L291.1,195.7Z" fill="#4eae1e"/>
<path d="M281.8,204.0 Q280.5,164.8 273.3,125.5" fill="none" stroke="#72bc26" stroke-width="1.4197936907648858" stroke-linecap="round" stroke-opacity="0.95"/>
<path d="M282.7,204.0 Q281.5,165.3 274.8,126.5" fill="none" stroke="#84c62c" stroke-width="1.0087284493274575" stroke-linecap="round" stroke-opacity="0.95"/>
<path d="M283.7,204.0 Q282.7,159.5 277.0,115.1" fill="none" stroke="#56a81c" stroke-width="1.472995359768942" stroke-linecap="round" stroke-opacity="0.95"/>
<path d="M285.1,204.0 Q284.5,163.2 280.7,122.5" fill="none" stroke="#a2d02c" stroke-width="1.5370188316922784" stroke-linecap="round" stroke-opacity="0.95"/>
<path d="M286.9,204.0 Q286.6,163.7 284.5,123.5" fill="none" stroke="#72bc26" stroke-width="1.6553780386676014" stroke-linecap="round" stroke-opacity="0.95"/>
<path d="M287.4,204.0 Q286.9,162.4 284.1,120.8" fill="none" stroke="#a2d02c" stroke-width="1.6957768729929632" stroke-linecap="round" stroke-opacity="0.95"/>
<path d="M288.9,204.0 Q288.7,169.2 287.3,134.5" fill="none" stroke="#72bc26" stroke-width="1.4070306574047518" stroke-linecap="round" stroke-opacity="0.95"/>
<path d="M290.0,204.0 Q289.9,163.4 289.6,122.7" fill="none" stroke="#84c62c" stroke-width="1.4223560182314507" stroke-linecap="round" stroke-opacity="0.95"/>
<path d="M291.6,204.0 Q291.7,159.7 292.4,115.4" fill="none" stroke="#4a9c18" stroke-width="1.1619685221353289" stroke-linecap="round" stroke-opacity="0.95"/>
<path d="M293.0,204.0 Q293.3,162.8 294.5,121.6" fill="none" stroke="#62b020" stroke-width="1.6649717006399278" stroke-linecap="round" stroke-opacity="0.95"/>
<path d="M294.1,204.0 Q294.7,161.6 298.3,119.2" fill="none" stroke="#6ab422" stroke-width="1.2407721024995617" stroke-linecap="round" stroke-opacity="0.95"/>
<path d="M295.0,204.0 Q295.4,168.1 297.4,132.2" fill="none" stroke="#4a9c18" stroke-width="1.5873775562553232" stroke-linecap="round" stroke-opacity="0.95"/>
<path d="M296.1,204.0 Q297.1,169.4 302.4,134.8" fill="none" stroke="#96cc30" stroke-width="1.1772485514026536" stroke-linecap="round" stroke-opacity="0.95"/>
<path d="M297.3,204.0 Q298.6,161.4 305.7,118.7" fill="none" stroke="#72bc26" stroke-width="1.2524965267463837" stroke-linecap="round" stroke-opacity="0.95"/>
<path d="M298.8,204.0 Q299.5,159.6 303.4,115.3" fill="none" stroke="#72bc26" stroke-width="1.03613226178492" stroke-linecap="round" stroke-opacity="0.95"/>
<path d="M293.2,144.0 Q294.2,127.1 296.5,110.2" fill="none" stroke="#123a0a" stroke-width="0.9554814939037015" stroke-linecap="round" stroke-opacity="0.8"/>
<path d="M284.6,136.2 Q280.9,123.4 272.3,110.6" fill="none" stroke="#0a2205" stroke-width="0.9000208307557698" stroke-linecap="round" stroke-opacity="0.8"/>
<path d="M297.1,141.6 Q299.6,116.2 305.4,90.9" fill="none" stroke="#0a2205" stroke-width="0.9054430076884493" stroke-linecap="round" stroke-opacity="0.8"/>
<path d="M292.4,129.2 Q293.6,112.9 296.4,96.7" fill="none" stroke="#0a2205" stroke-width="0.7636556601925297" stroke-linecap="round" stroke-opacity="0.8"/>
<path d="M289.7,135.3 Q289.5,118.5 288.8,101.7" fill="none" stroke="#0a2205" stroke-width="0.8300845273070382" stroke-linecap="round" stroke-opacity="0.8"/>
<path d="M293.1,134.0 Q294.5,114.5 297.6,95.1" fill="none" stroke="#0c2806" stroke-width="1.0216025164785123" stroke-linecap="round" stroke-opacity="0.8"/>
<path d="M282.5,140.0 Q277.8,122.0 267.0,104.0" fill="none" stroke="#123a0a" stroke-width="1.1531296951056802" stroke-linecap="round" stroke-opacity="0.8"/>
<path d="M299.3,138.5 Q302.5,117.2 309.7,95.9" fill="none" stroke="#0c2806" stroke-width="0.7873475460035921" stroke-linecap="round" stroke-opacity="0.8"/>
<path d="M291.3,134.6 Q291.6,119.3 292.5,104.0" fill="none" stroke="#0c2806" stroke-width="1.1436257296058598" stroke-linecap="round" stroke-opacity="0.8"/>
<path d="M294.8,137.4 Q296.8,118.8 301.4,100.1" fill="none" stroke="#123a0a" stroke-width="0.8351199237190301" stroke-linecap="round" stroke-opacity="0.8"/>
<path d="M294.9,139.9 Q297.1,117.9 302.4,95.9" fill="none" stroke="#0a2205" stroke-width="0.951697873805559" stroke-linecap="round" stroke-opacity="0.8"/>
<path d="M292.6,150.9 Q293.4,121.1 295.4,91.4" fill="none" stroke="#0c2806" stroke-width="0.8922803796818746" stroke-linecap="round" stroke-opacity="0.8"/>
<path d="M292.9,138.0 Q293.9,121.9 296.3,105.8" fill="none" stroke="#0c2806" stroke-width="0.7636235104212294" stroke-linecap="round" stroke-opacity="0.8"/>
<path d="M288.9,147.9 Q288.0,128.2 286.0,108.5" fill="none" stroke="#123a0a" stroke-width="0.7000893439096878" stroke-linecap="round" stroke-opacity="0.8"/>
<path d="M288.3,152.8 Q287.0,129.5 284.1,106.2" fill="none" stroke="#123a0a" stroke-width="0.8242326415445922" stroke-linecap="round" stroke-opacity="0.8"/>
<path d="M283.2,204.0 Q282.3,164.3 277.5,124.6" fill="none" stroke="#0f3008" stroke-width="0.8544452069010233" stroke-linecap="round" stroke-opacity="0.85"/>
<path d="M287.6,204.0 Q287.2,172.5 285.0,141.0" fill="none" stroke="#184a0e" stroke-width="0.8425016900580411" stroke-linecap="round" stroke-opacity="0.85"/>
<path d="M291.3,204.0 Q291.4,162.0 291.9,120.0" fill="none" stroke="#0f3008" stroke-width="1.2599600547462395" stroke-linecap="round" stroke-opacity="0.85"/>
<path d="M294.8,204.0 Q295.2,166.6 297.5,129.1" fill="none" stroke="#184a0e" stroke-width="1.0641265714030381" stroke-linecap="round" stroke-opacity="0.85"/>
<path d="M298.3,204.0 Q299.0,173.5 302.8,142.9" fill="none" stroke="#184a0e" stroke-width="1.062218341021018" stroke-linecap="round" stroke-opacity="0.85"/>
<path d="M301,168 Q310,150 335.8,148" fill="none" stroke="#2c8412" stroke-width="1.4" stroke-linecap="round" />
<path d="M303,162 Q312,160 318,172.6" fill="none" stroke="#1a540b" stroke-width="1.1" stroke-linecap="round" />
<path d="M262,84.5 Q252,73 236.2,71.7" fill="none" stroke="#5e8024" stroke-width="0.924" stroke-linecap="round" />
<path d="M262,84.5 Q252,73 236.2,71.7" fill="none" stroke="#94a636" stroke-width="1.87" stroke-linecap="round" stroke-dasharray="0.8 1.6" stroke-opacity="0.9"/>
<path d="M266,91.5 Q251,85 237,93.4" fill="none" stroke="#6c8a26" stroke-width="1.008" stroke-linecap="round" />
<path d="M266,91.5 Q251,85 237,93.4" fill="none" stroke="#a2b03c" stroke-width="2.04" stroke-linecap="round" stroke-dasharray="0.8 1.6" stroke-opacity="0.9"/>
<path d="M254,91 Q250,95 248,100" fill="none" stroke="#5e8024" stroke-width="0.84" stroke-linecap="round" />
<path d="M254,91 Q250,95 248,100" fill="none" stroke="#94a636" stroke-width="1.7" stroke-linecap="round" stroke-dasharray="0.8 1.6" stroke-opacity="0.9"/>
<path d="M281,84 Q274,74 266.5,74" fill="none" stroke="#5e8024" stroke-width="0.924" stroke-linecap="round" />
<path d="M281,84 Q274,74 266.5,74" fill="none" stroke="#94a636" stroke-width="1.87" stroke-linecap="round" stroke-dasharray="0.8 1.6" stroke-opacity="0.9"/>
<path d="M272,77 Q266,79 263.5,84" fill="none" stroke="#5e8024" stroke-width="0.756" stroke-linecap="round" />
<path d="M272,77 Q266,79 263.5,84" fill="none" stroke="#94a636" stroke-width="1.53" stroke-linecap="round" stroke-dasharray="0.8 1.6" stroke-opacity="0.9"/>
<path d="M284.5,90 Q276,85 269,90.5" fill="none" stroke="#5e8024" stroke-width="0.924" stroke-linecap="round" />
<path d="M284.5,90 Q276,85 269,90.5" fill="none" stroke="#94a636" stroke-width="1.87" stroke-linecap="round" stroke-dasharray="0.8 1.6" stroke-opacity="0.9"/>
<path d="M279.8,80 Q279.5,66 278.8,55" fill="none" stroke="#5e8024" stroke-width="0.84" stroke-linecap="round" />
<path d="M279.8,80 Q279.5,66 278.8,55" fill="none" stroke="#94a636" stroke-width="1.7" stroke-linecap="round" stroke-dasharray="0.8 1.6" stroke-opacity="0.9"/>
<path d="M294.8,84 Q294.3,66 293.7,52.6" fill="none" stroke="#5e8024" stroke-width="0.84" stroke-linecap="round" />
<path d="M294.8,84 Q294.3,66 293.7,52.6" fill="none" stroke="#94a636" stroke-width="1.7" stroke-linecap="round" stroke-dasharray="0.8 1.6" stroke-opacity="0.9"/>
<path d="M305,89 Q317,77 322,86 T329.4,96.8" fill="none" stroke="#6c8a26" stroke-width="1.008" stroke-linecap="round" />
<path d="M305,89 Q317,77 322,86 T329.4,96.8" fill="none" stroke="#a2b03c" stroke-width="2.04" stroke-linecap="round" stroke-dasharray="0.8 1.6" stroke-opacity="0.9"/>
<path d="M308.5,94 Q313,96 315,104.8" fill="none" stroke="#5e8024" stroke-width="0.924" stroke-linecap="round" />
<path d="M308.5,94 Q313,96 315,104.8" fill="none" stroke="#94a636" stroke-width="1.87" stroke-linecap="round" stroke-dasharray="0.8 1.6" stroke-opacity="0.9"/>
<path d="M301,96 Q306,100 307,108" fill="none" stroke="#5e8024" stroke-width="0.756" stroke-linecap="round" />
<path d="M301,96 Q306,100 307,108" fill="none" stroke="#94a636" stroke-width="1.53" stroke-linecap="round" stroke-dasharray="0.8 1.6" stroke-opacity="0.9"/>
<path d="M370.9,196.9 L370.9,190.1 L371.0,183.4 L370.9,176.9 L370.6,170.5 L370.2,164.3 L369.9,158.3 L369.4,152.4 L369.0,146.7 L368.5,141.2 L367.9,135.8 L367.3,130.6 L366.4,125.5 L365.3,120.7 L364.1,116.0 L364.1,116.0 L364.3,120.8 L364.6,125.8 L364.9,130.8 L365.5,136.0 L366.1,141.4 L366.6,146.9 L367.1,152.6 L367.5,158.5 L367.9,164.5 L368.2,170.7 L368.5,177.0 L368.9,183.5 L369.3,190.1 L369.7,196.9Z" fill="#174e0a"/>
<path d="M374.7,197.5 L375.2,191.5 L375.9,185.5 L376.6,179.5 L377.2,173.3 L378.0,167.1 L378.8,160.7 L379.8,154.3 L380.8,147.8 L382.0,141.2 L383.2,134.6 L384.6,127.8 L385.8,120.9 L387.0,114.0 L388.2,106.9 L388.2,106.9 L386.2,113.8 L384.3,120.6 L382.7,127.4 L381.3,134.2 L380.1,140.9 L378.9,147.5 L377.9,154.0 L376.9,160.5 L376.1,166.8 L375.3,173.1 L374.6,179.3 L374.2,185.4 L373.9,191.5 L373.7,197.4Z" fill="#143f08"/>
<path d="M375.3,195.0 L375.8,189.0 L376.3,183.0 L377.0,177.0 L377.6,171.0 L378.4,165.1 L379.3,159.2 L380.3,153.3 L381.4,147.5 L382.6,141.6 L384.0,135.8 L385.5,130.0 L386.8,124.2 L388.2,118.4 L389.7,112.6 L389.7,112.6 L387.5,118.2 L385.5,123.8 L383.6,129.6 L382.2,135.4 L380.8,141.2 L379.6,147.1 L378.4,153.0 L377.4,158.9 L376.6,164.8 L375.8,170.8 L375.1,176.8 L374.7,182.8 L374.5,188.9 L374.4,195.0Z" fill="#143f08"/>
<path d="M373.7,191.2 L373.9,185.0 L374.1,179.0 L374.3,173.2 L374.4,167.4 L374.5,161.8 L374.6,156.4 L374.7,151.1 L374.8,145.9 L374.9,140.8 L375.1,135.9 L375.2,131.1 L375.2,126.5 L375.1,122.0 L374.9,117.6 L374.9,117.6 L374.3,122.0 L373.9,126.4 L373.5,131.1 L373.3,135.9 L373.2,140.8 L373.1,145.8 L372.9,151.0 L372.8,156.3 L372.7,161.8 L372.7,167.4 L372.6,173.1 L372.7,179.0 L372.8,185.0 L372.9,191.2Z" fill="#174e0a"/>
<path d="M372.8,196.2 L373.1,187.9 L373.4,179.9 L373.7,172.1 L373.8,164.6 L374.0,157.2 L374.2,150.0 L374.4,143.1 L374.7,136.4 L375.0,129.9 L375.3,123.6 L375.6,117.5 L375.7,111.6 L375.7,106.0 L375.7,100.5 L375.7,100.5 L374.7,105.9 L374.0,111.5 L373.3,117.4 L373.0,123.5 L372.7,129.8 L372.4,136.3 L372.1,143.0 L371.9,150.0 L371.7,157.1 L371.5,164.5 L371.4,172.1 L371.4,179.9 L371.5,187.9 L371.6,196.2Z" fill="#20660e"/>
<path d="M369.8,194.7 L369.9,188.3 L369.9,181.9 L369.8,175.4 L369.5,168.8 L369.1,162.2 L368.6,155.5 L368.1,148.7 L367.4,141.9 L366.7,135.0 L366.0,128.1 L365.1,121.1 L363.9,114.1 L362.5,107.0 L361.0,99.9 L361.0,99.9 L361.5,107.2 L362.1,114.3 L362.7,121.4 L363.5,128.4 L364.3,135.3 L365.0,142.1 L365.6,148.9 L366.2,155.7 L366.7,162.3 L367.1,168.9 L367.4,175.5 L367.8,182.0 L368.2,188.4 L368.6,194.7Z" fill="#1c5a0c"/>
<path d="M376.0,194.4 L376.7,188.7 L377.5,183.0 L378.3,177.4 L379.2,171.8 L380.1,166.4 L381.2,161.0 L382.4,155.6 L383.7,150.4 L385.1,145.2 L386.6,140.1 L388.3,135.1 L389.8,130.0 L391.4,125.0 L393.0,120.0 L393.0,120.0 L390.5,124.6 L388.2,129.4 L386.1,134.3 L384.4,139.4 L382.9,144.6 L381.4,149.8 L380.1,155.1 L378.9,160.5 L377.8,165.9 L376.9,171.5 L376.0,177.1 L375.5,182.7 L375.1,188.5 L374.9,194.3Z" fill="#20660e"/>
<path d="M370.0,194.1 L369.9,187.1 L369.7,180.3 L369.4,173.8 L368.8,167.4 L368.2,161.2 L367.4,155.3 L366.5,149.5 L365.6,144.0 L364.6,138.7 L363.5,133.5 L362.3,128.6 L360.7,124.0 L359.0,119.6 L357.0,115.5 L357.0,115.5 L358.0,119.9 L359.0,124.5 L360.0,129.2 L361.1,134.1 L362.2,139.1 L363.3,144.4 L364.2,149.9 L365.0,155.6 L365.8,161.5 L366.4,167.6 L367.0,174.0 L367.7,180.5 L368.3,187.2 L368.9,194.2Z" fill="#143f08"/>
<path d="M374.7,192.2 L375.0,183.7 L375.4,175.6 L375.7,167.6 L376.0,160.0 L376.2,152.6 L376.5,145.5 L376.9,138.7 L377.2,132.2 L377.7,125.9 L378.1,119.9 L378.6,114.1 L378.8,108.7 L379.0,103.4 L379.1,98.4 L379.1,98.4 L378.1,103.3 L377.2,108.5 L376.4,114.0 L375.9,119.7 L375.5,125.7 L375.1,132.0 L374.7,138.6 L374.4,145.4 L374.1,152.6 L373.8,159.9 L373.6,167.6 L373.5,175.5 L373.6,183.7 L373.6,192.2Z" fill="#143f08"/>
<path d="M364.0,191.5 L363.7,185.3 L363.2,179.1 L362.4,172.8 L361.3,166.6 L360.0,160.3 L358.4,154.0 L356.7,147.7 L354.8,141.3 L352.6,134.9 L350.3,128.5 L347.7,122.0 L344.7,115.7 L341.5,109.3 L337.9,103.0 L337.9,103.0 L340.6,109.7 L343.3,116.3 L345.8,122.8 L348.3,129.2 L350.7,135.6 L352.8,141.9 L354.7,148.2 L356.4,154.5 L358.0,160.8 L359.3,167.0 L360.4,173.2 L361.4,179.3 L362.3,185.4 L363.0,191.5Z" fill="#1c5a0c"/>
<path d="M365.2,194.2 L364.8,190.6 L364.2,187.1 L363.4,183.6 L362.4,180.2 L361.1,176.9 L359.7,173.6 L358.1,170.4 L356.4,167.2 L354.5,164.1 L352.4,161.1 L350.1,158.1 L347.6,155.3 L344.8,152.6 L341.8,150.0 L341.8,150.0 L344.3,153.1 L346.6,156.1 L348.9,159.1 L351.1,162.0 L353.1,165.0 L355.0,168.1 L356.7,171.2 L358.2,174.3 L359.6,177.5 L360.8,180.8 L361.9,184.1 L362.9,187.4 L363.7,190.8 L364.4,194.3Z" fill="#1a540b"/>
<path d="M368.5,192.4 L368.5,185.6 L368.3,178.7 L368.0,172.0 L367.4,165.3 L366.6,158.6 L365.6,152.1 L364.6,145.5 L363.3,139.1 L361.9,132.7 L360.4,126.3 L358.7,120.0 L356.7,113.8 L354.4,107.7 L351.9,101.8 L351.9,101.8 L353.7,108.0 L355.4,114.2 L357.0,120.5 L358.7,126.7 L360.2,133.1 L361.6,139.4 L362.8,145.9 L363.9,152.3 L364.8,158.9 L365.6,165.5 L366.2,172.1 L366.8,178.8 L367.3,185.6 L367.6,192.4Z" fill="#174e0a"/>
<path d="M363.8,182.6 L363.6,177.0 L363.3,171.5 L362.8,166.1 L362.0,161.0 L361.0,156.1 L359.8,151.3 L358.5,146.7 L356.9,142.3 L355.2,138.1 L353.3,134.0 L351.3,130.1 L348.8,126.6 L346.2,123.3 L343.3,120.2 L343.3,120.2 L345.5,123.8 L347.6,127.4 L349.6,131.1 L351.6,134.9 L353.5,138.8 L355.1,143.0 L356.6,147.3 L358.0,151.8 L359.1,156.5 L360.1,161.4 L360.9,166.4 L361.7,171.6 L362.3,177.0 L362.8,182.6Z" fill="#20660e"/>
<path d="M363.8,172.3 L363.7,167.5 L363.4,162.8 L363.0,158.0 L362.4,153.2 L361.7,148.4 L360.9,143.6 L360.0,138.8 L359.0,133.9 L357.9,129.0 L356.7,124.1 L355.4,119.2 L353.9,114.3 L352.1,109.5 L350.2,104.6 L350.2,104.6 L351.5,109.7 L352.7,114.7 L353.9,119.6 L355.2,124.5 L356.4,129.4 L357.5,134.2 L358.5,139.1 L359.4,143.9 L360.2,148.7 L360.9,153.4 L361.5,158.2 L362.1,162.9 L362.6,167.6 L363.1,172.3Z" fill="#1c5a0c"/>
<path d="M378.8,188.4 L379.2,183.2 L379.8,178.2 L380.6,173.3 L381.4,168.6 L382.4,164.0 L383.6,159.5 L385.0,155.1 L386.6,150.9 L388.3,146.9 L390.2,142.9 L392.3,139.1 L394.4,135.4 L396.6,131.6 L399.0,128.0 L399.0,128.0 L396.1,131.2 L393.4,134.7 L390.9,138.3 L388.7,142.2 L386.8,146.2 L385.0,150.3 L383.5,154.6 L382.1,159.0 L380.9,163.6 L379.8,168.3 L379.0,173.1 L378.4,178.0 L378.1,183.1 L377.9,188.3Z" fill="#1a540b"/>
<path d="M378.8,177.9 L379.2,173.0 L379.7,168.1 L380.3,163.2 L380.9,158.3 L381.5,153.3 L382.3,148.4 L383.3,143.4 L384.3,138.5 L385.4,133.5 L386.7,128.5 L388.1,123.4 L389.4,118.4 L390.7,113.2 L392.0,108.0 L392.0,108.0 L389.9,112.9 L387.9,117.9 L386.2,122.9 L384.8,128.0 L383.6,133.0 L382.4,138.0 L381.4,143.1 L380.4,148.1 L379.6,153.1 L378.9,158.0 L378.4,163.0 L378.1,168.0 L377.9,172.9 L377.8,177.8Z" fill="#174e0a"/>
<path d="M369.6,188.3 L369.7,181.0 L369.8,173.8 L369.7,166.8 L369.5,160.0 L369.2,153.5 L368.9,147.1 L368.5,140.9 L368.1,135.0 L367.6,129.2 L367.0,123.7 L366.4,118.3 L365.6,113.2 L364.6,108.3 L363.4,103.6 L363.4,103.6 L363.8,108.4 L364.2,113.4 L364.6,118.5 L365.2,123.9 L365.8,129.4 L366.2,135.1 L366.7,141.1 L367.1,147.2 L367.4,153.6 L367.7,160.1 L367.9,166.9 L368.2,173.8 L368.5,181.0 L368.7,188.4Z" fill="#2e8812"/>
<path d="M368.0,183.0 L368.0,178.0 L367.8,173.0 L367.6,168.2 L367.1,163.5 L366.5,158.8 L365.9,154.2 L365.1,149.7 L364.3,145.3 L363.4,141.0 L362.4,136.7 L361.3,132.6 L359.9,128.6 L358.3,124.7 L356.5,121.0 L356.5,121.0 L357.4,125.0 L358.3,129.1 L359.2,133.2 L360.3,137.3 L361.2,141.5 L362.2,145.8 L363.0,150.1 L363.7,154.6 L364.4,159.1 L364.9,163.7 L365.4,168.4 L366.0,173.2 L366.5,178.0 L366.9,183.0Z" fill="#2a7c10"/>
<path d="M370.4,198.4 L370.4,189.2 L370.3,180.4 L370.0,171.9 L369.6,163.6 L369.0,155.7 L368.3,148.1 L367.5,140.7 L366.5,133.7 L365.5,126.9 L364.4,120.5 L363.2,114.3 L361.7,108.6 L359.9,103.1 L358.0,98.0 L358.0,98.0 L359.1,103.3 L360.1,108.9 L361.2,114.8 L362.4,120.9 L363.5,127.3 L364.5,134.0 L365.4,141.0 L366.2,148.3 L366.9,155.9 L367.5,163.8 L368.0,172.0 L368.5,180.5 L369.0,189.3 L369.4,198.4Z" fill="#2a7c10"/>
<path d="M362.2,178.6 L361.9,174.9 L361.4,171.2 L360.7,167.6 L359.6,164.0 L358.2,160.5 L356.7,157.1 L354.9,153.8 L352.9,150.5 L350.6,147.3 L348.2,144.2 L345.5,141.1 L342.4,138.3 L339.1,135.5 L335.5,133.0 L335.5,133.0 L338.6,136.1 L341.5,139.2 L344.2,142.3 L346.8,145.3 L349.2,148.4 L351.4,151.5 L353.4,154.7 L355.1,157.9 L356.6,161.2 L357.9,164.6 L359.0,168.0 L359.9,171.5 L360.7,175.0 L361.3,178.7Z" fill="#328e14"/>
<path d="M362.9,173.8 L362.8,170.2 L362.5,166.5 L362.0,162.8 L361.3,159.1 L360.3,155.4 L359.3,151.7 L358.0,148.0 L356.6,144.3 L355.1,140.5 L353.4,136.7 L351.6,133.0 L349.4,129.3 L346.9,125.6 L344.3,122.0 L344.3,122.0 L346.2,126.0 L348.1,130.0 L349.9,133.8 L351.7,137.5 L353.4,141.2 L354.9,144.9 L356.3,148.6 L357.5,152.3 L358.5,155.9 L359.4,159.6 L360.2,163.2 L360.9,166.7 L361.5,170.3 L362.0,173.9Z" fill="#328e14"/>
<path d="M368.5,188.4 L368.4,181.2 L368.1,174.1 L367.7,167.3 L367.0,160.6 L366.2,154.2 L365.3,148.0 L364.3,142.0 L363.1,136.2 L361.9,130.6 L360.5,125.2 L359.0,120.0 L357.2,115.1 L355.2,110.4 L353.0,106.0 L353.0,106.0 L354.4,110.7 L355.8,115.5 L357.2,120.5 L358.6,125.7 L360.0,131.0 L361.2,136.5 L362.4,142.3 L363.4,148.3 L364.3,154.4 L365.1,160.8 L365.8,167.4 L366.5,174.2 L367.1,181.2 L367.6,188.5Z" fill="#389616"/>
<path d="M366.8,198.1 L366.8,190.7 L366.5,183.4 L366.0,176.1 L365.2,168.9 L364.2,161.7 L363.0,154.6 L361.5,147.6 L359.9,140.6 L358.1,133.6 L356.0,126.7 L353.8,119.8 L351.2,113.1 L348.2,106.5 L345.0,100.0 L345.0,100.0 L347.4,106.8 L349.7,113.7 L351.9,120.5 L354.1,127.3 L356.1,134.2 L357.9,141.1 L359.5,148.0 L360.9,155.0 L362.1,162.1 L363.2,169.2 L364.0,176.3 L364.7,183.5 L365.3,190.8 L365.8,198.1Z" fill="#389616"/>
<path d="M375.0,192.1 L375.3,186.0 L375.7,179.9 L376.1,174.1 L376.5,168.4 L377.0,162.9 L377.5,157.6 L378.1,152.4 L378.8,147.5 L379.5,142.6 L380.4,138.0 L381.3,133.5 L382.0,129.2 L382.8,125.0 L383.6,120.9 L383.6,120.9 L382.0,124.8 L380.6,128.8 L379.4,133.1 L378.5,137.6 L377.6,142.3 L376.9,147.2 L376.2,152.2 L375.6,157.4 L375.0,162.8 L374.6,168.3 L374.2,174.0 L374.1,179.9 L374.0,185.9 L374.0,192.1Z" fill="#328e14"/>
<path d="M376.8,194.8 L377.4,189.2 L378.1,183.5 L379.0,177.8 L379.9,172.1 L380.9,166.4 L382.2,160.6 L383.6,154.8 L385.2,149.0 L387.0,143.2 L388.9,137.4 L391.0,131.5 L393.1,125.5 L395.3,119.5 L397.5,113.4 L397.5,113.4 L394.4,119.2 L391.6,125.0 L389.1,130.8 L387.0,136.7 L385.0,142.6 L383.2,148.4 L381.6,154.3 L380.2,160.1 L378.9,165.9 L377.8,171.7 L376.9,177.5 L376.4,183.3 L376.0,189.1 L375.8,194.8Z" fill="#389616"/>
<path d="M367.9,179.1 L367.9,173.7 L367.8,168.4 L367.7,163.3 L367.3,158.4 L366.8,153.7 L366.3,149.2 L365.8,144.8 L365.2,140.6 L364.5,136.5 L363.7,132.6 L362.9,128.9 L361.8,125.5 L360.5,122.2 L359.1,119.2 L359.1,119.2 L359.7,122.5 L360.3,125.9 L361.0,129.4 L361.8,133.0 L362.5,136.9 L363.2,140.9 L363.8,145.0 L364.4,149.4 L364.9,153.9 L365.3,158.6 L365.7,163.5 L366.1,168.5 L366.6,173.7 L366.9,179.1Z" fill="#328e14"/>
<path d="M369.2,182.4 L369.3,175.8 L369.2,169.4 L369.1,163.1 L368.8,156.9 L368.4,150.8 L368.0,144.9 L367.5,139.1 L367.0,133.4 L366.4,127.8 L365.7,122.3 L365.0,116.9 L364.0,111.7 L362.8,106.7 L361.5,101.8 L361.5,101.8 L361.8,106.9 L362.2,112.0 L362.6,117.3 L363.3,122.6 L363.9,128.0 L364.5,133.6 L365.1,139.3 L365.5,145.1 L366.0,151.0 L366.4,157.1 L366.7,163.2 L367.1,169.5 L367.6,175.9 L368.0,182.4Z" fill="#2e8812"/>
<path d="M372.6,191.8 L372.7,185.2 L372.9,178.5 L373.0,171.7 L373.0,164.9 L372.9,158.1 L372.9,151.2 L372.9,144.3 L372.8,137.3 L372.8,130.3 L372.8,123.3 L372.7,116.2 L372.5,109.0 L372.1,101.9 L371.7,94.6 L371.7,94.6 L371.3,101.9 L371.1,109.0 L370.9,116.2 L371.0,123.3 L371.0,130.3 L371.0,137.3 L371.1,144.3 L371.1,151.2 L371.1,158.1 L371.2,164.9 L371.2,171.7 L371.3,178.5 L371.5,185.2 L371.7,191.9Z" fill="#328e14"/>
<path d="M368.3,184.1 L368.2,177.2 L368.0,170.4 L367.7,163.8 L367.2,157.4 L366.5,151.2 L365.8,145.2 L364.9,139.3 L364.0,133.7 L363.0,128.2 L361.9,122.9 L360.7,117.8 L359.2,112.9 L357.5,108.3 L355.5,103.9 L355.5,103.9 L356.5,108.6 L357.5,113.4 L358.5,118.3 L359.7,123.4 L360.8,128.6 L361.8,134.0 L362.7,139.7 L363.5,145.5 L364.3,151.4 L364.9,157.6 L365.5,164.0 L366.1,170.5 L366.7,177.3 L367.1,184.2Z" fill="#328e14"/>
<path d="M365.4,193.5 L365.3,187.3 L364.9,181.2 L364.3,175.3 L363.3,169.4 L362.1,163.7 L360.6,158.0 L358.9,152.5 L357.0,147.2 L354.9,141.9 L352.5,136.8 L349.9,131.8 L346.9,127.0 L343.6,122.4 L340.0,118.0 L340.0,118.0 L342.9,122.8 L345.7,127.7 L348.3,132.6 L350.9,137.6 L353.2,142.6 L355.4,147.8 L357.2,153.1 L358.9,158.5 L360.3,164.1 L361.5,169.7 L362.5,175.5 L363.4,181.4 L364.1,187.4 L364.5,193.6Z" fill="#2e8812"/>
<path d="M374.7,197.3 L375.0,191.5 L375.3,185.7 L375.6,180.1 L375.7,174.4 L375.9,168.8 L376.2,163.3 L376.5,157.9 L376.8,152.5 L377.2,147.1 L377.6,141.8 L378.0,136.6 L378.2,131.4 L378.3,126.3 L378.4,121.1 L378.4,121.1 L377.3,126.1 L376.4,131.2 L375.6,136.4 L375.1,141.6 L374.7,146.9 L374.4,152.3 L374.0,157.7 L373.8,163.2 L373.5,168.7 L373.3,174.3 L373.1,180.0 L373.2,185.7 L373.3,191.5 L373.5,197.3Z" fill="#328e14"/>
<path d="M362.9,178.9 L362.9,173.9 L362.7,169.0 L362.3,164.1 L361.6,159.2 L360.6,154.4 L359.5,149.6 L358.3,144.9 L356.8,140.2 L355.2,135.5 L353.4,130.9 L351.4,126.4 L349.0,122.0 L346.3,117.7 L343.3,113.5 L343.3,113.5 L345.4,118.2 L347.3,122.8 L349.2,127.4 L351.1,131.9 L352.9,136.4 L354.5,141.0 L355.9,145.6 L357.2,150.2 L358.3,154.9 L359.2,159.6 L359.9,164.4 L360.6,169.2 L361.2,174.0 L361.7,178.9Z" fill="#2a7c10"/>
<path d="M374.2,191.2 L374.4,184.5 L374.7,177.8 L375.0,171.3 L375.2,165.0 L375.5,158.8 L375.8,152.7 L376.1,146.8 L376.5,141.1 L376.9,135.5 L377.4,130.0 L377.9,124.7 L378.2,119.5 L378.5,114.5 L378.7,109.5 L378.7,109.5 L377.8,114.4 L376.9,119.4 L376.2,124.5 L375.7,129.9 L375.2,135.3 L374.8,141.0 L374.4,146.7 L374.1,152.6 L373.8,158.7 L373.5,164.9 L373.3,171.3 L373.3,177.8 L373.3,184.4 L373.3,191.2Z" fill="#48a81c"/>
<path d="M372.7,196.8 L372.9,190.5 L373.1,184.3 L373.3,178.3 L373.4,172.3 L373.5,166.4 L373.7,160.7 L373.8,155.0 L374.0,149.5 L374.2,144.0 L374.5,138.6 L374.7,133.4 L374.8,128.2 L374.8,123.1 L374.8,118.1 L374.8,118.1 L374.1,123.1 L373.5,128.1 L373.1,133.3 L372.8,138.6 L372.6,143.9 L372.4,149.4 L372.2,155.0 L372.0,160.6 L371.9,166.4 L371.7,172.3 L371.6,178.2 L371.7,184.3 L371.8,190.5 L371.9,196.8Z" fill="#2c8412"/>
<path d="M371.4,199.1 L371.5,191.2 L371.6,183.4 L371.5,175.7 L371.2,168.2 L370.9,160.7 L370.5,153.4 L370.0,146.2 L369.5,139.2 L369.0,132.2 L368.4,125.4 L367.7,118.7 L366.7,112.2 L365.5,105.8 L364.1,99.6 L364.1,99.6 L364.4,105.9 L364.8,112.4 L365.2,119.0 L365.9,125.7 L366.5,132.5 L367.1,139.4 L367.6,146.4 L368.0,153.6 L368.4,160.9 L368.8,168.3 L369.0,175.8 L369.4,183.4 L369.8,191.2 L370.2,199.1Z" fill="#2a7c10"/>
<path d="M375.3,188.8 L375.7,181.8 L376.1,174.9 L376.5,168.1 L376.7,161.5 L377.1,154.9 L377.4,148.5 L377.9,142.2 L378.3,136.1 L378.8,130.0 L379.4,124.1 L380.0,118.4 L380.4,112.7 L380.7,107.1 L381.0,101.6 L381.0,101.6 L379.8,107.0 L378.7,112.5 L377.8,118.1 L377.2,123.9 L376.6,129.8 L376.1,135.9 L375.7,142.1 L375.2,148.4 L374.9,154.8 L374.5,161.3 L374.2,168.0 L374.2,174.8 L374.2,181.7 L374.2,188.8Z" fill="#3e9c16"/>
<path d="M371.9,198.9 L372.0,191.3 L372.2,183.8 L372.3,176.5 L372.3,169.2 L372.2,162.1 L372.2,155.1 L372.2,148.3 L372.1,141.5 L372.1,134.9 L372.0,128.4 L371.9,122.0 L371.7,115.7 L371.3,109.6 L370.9,103.6 L370.9,103.6 L370.6,109.6 L370.4,115.7 L370.2,122.0 L370.3,128.4 L370.3,134.9 L370.4,141.5 L370.4,148.3 L370.5,155.2 L370.5,162.1 L370.5,169.2 L370.6,176.5 L370.7,183.8 L370.9,191.3 L371.0,198.9Z" fill="#2c8412"/>
<path d="M370.1,191.9 L370.3,184.9 L370.4,177.8 L370.4,170.8 L370.2,163.7 L370.0,156.7 L369.8,149.7 L369.5,142.6 L369.2,135.6 L368.8,128.6 L368.4,121.6 L368.0,114.6 L367.2,107.7 L366.3,100.7 L365.3,93.8 L365.3,93.8 L365.4,100.8 L365.5,107.8 L365.8,114.8 L366.2,121.8 L366.6,128.8 L367.0,135.7 L367.3,142.7 L367.6,149.7 L367.8,156.8 L368.0,163.8 L368.2,170.8 L368.5,177.8 L368.7,184.9 L369.0,191.9Z" fill="#3e9c16"/>
<path d="M376.6,181.9 L377.1,176.4 L377.6,170.9 L378.1,165.3 L378.6,159.6 L379.1,154.0 L379.7,148.2 L380.4,142.4 L381.2,136.6 L382.0,130.7 L382.9,124.8 L383.9,118.8 L384.7,112.7 L385.5,106.5 L386.3,100.3 L386.3,100.3 L384.6,106.3 L383.1,112.4 L381.7,118.4 L380.7,124.4 L379.8,130.4 L379.0,136.3 L378.2,142.1 L377.5,148.0 L376.9,153.7 L376.4,159.5 L375.9,165.1 L375.7,170.8 L375.6,176.3 L375.5,181.9Z" fill="#44a41a"/>
<path d="M370.5,187.7 L370.4,183.1 L370.3,178.5 L370.1,173.8 L369.7,169.1 L369.3,164.3 L368.8,159.4 L368.3,154.4 L367.7,149.4 L367.0,144.3 L366.3,139.2 L365.6,133.9 L364.5,128.7 L363.4,123.3 L362.1,118.0 L362.1,118.0 L362.7,123.5 L363.3,128.9 L363.9,134.2 L364.7,139.4 L365.4,144.5 L366.1,149.6 L366.7,154.6 L367.2,159.6 L367.7,164.4 L368.1,169.2 L368.5,173.9 L368.9,178.6 L369.3,183.2 L369.6,187.7Z" fill="#44a41a"/>
<path d="M366.8,179.6 L366.8,173.5 L366.7,167.4 L366.4,161.3 L365.8,155.1 L365.1,148.9 L364.2,142.6 L363.2,136.3 L362.0,129.9 L360.7,123.5 L359.3,117.0 L357.7,110.5 L355.7,104.0 L353.5,97.5 L351.0,91.0 L351.0,91.0 L352.5,97.8 L354.1,104.5 L355.5,111.1 L357.1,117.5 L358.5,124.0 L359.8,130.3 L361.0,136.7 L362.0,143.0 L362.9,149.2 L363.6,155.4 L364.2,161.5 L364.8,167.6 L365.3,173.6 L365.7,179.6Z" fill="#56b422"/>
<path d="M370.5,193.6 L370.5,186.6 L370.3,179.6 L370.1,172.6 L369.7,165.6 L369.1,158.6 L368.5,151.6 L367.8,144.7 L367.1,137.7 L366.2,130.8 L365.3,123.9 L364.3,117.0 L363.0,110.1 L361.5,103.3 L359.8,96.5 L359.8,96.5 L360.6,103.4 L361.5,110.4 L362.3,117.3 L363.3,124.2 L364.2,131.1 L365.1,138.0 L365.8,144.9 L366.5,151.8 L367.1,158.8 L367.7,165.7 L368.1,172.7 L368.6,179.7 L369.1,186.6 L369.5,193.6Z" fill="#3e9c16"/>
<path d="M376.3,194.3 L376.7,187.5 L377.2,180.9 L377.7,174.6 L378.2,168.4 L378.9,162.4 L379.5,156.6 L380.3,150.9 L381.2,145.5 L382.1,140.2 L383.2,135.2 L384.3,130.3 L385.3,125.6 L386.4,121.0 L387.4,116.6 L387.4,116.6 L385.6,120.8 L384.1,125.2 L382.6,129.9 L381.5,134.8 L380.4,139.9 L379.5,145.2 L378.6,150.7 L377.8,156.3 L377.1,162.2 L376.5,168.2 L376.0,174.4 L375.7,180.9 L375.5,187.5 L375.4,194.2Z" fill="#2e8812"/>
<path d="M372.7,189.2 L372.9,182.7 L373.1,176.3 L373.4,169.9 L373.5,163.7 L373.6,157.5 L373.8,151.4 L374.0,145.4 L374.2,139.5 L374.5,133.6 L374.7,127.9 L375.0,122.2 L375.2,116.6 L375.2,111.1 L375.2,105.6 L375.2,105.6 L374.5,111.0 L373.8,116.5 L373.3,122.1 L373.0,127.8 L372.7,133.5 L372.4,139.4 L372.2,145.3 L372.0,151.3 L371.9,157.4 L371.7,163.6 L371.6,169.9 L371.6,176.2 L371.7,182.7 L371.9,189.2Z" fill="#2a7c10"/>
<path d="M374.9,181.8 L375.2,176.5 L375.6,171.3 L376.0,166.2 L376.4,161.3 L376.8,156.5 L377.3,151.8 L377.9,147.3 L378.5,142.9 L379.2,138.6 L380.0,134.5 L380.8,130.5 L381.5,126.6 L382.3,122.8 L383.0,119.0 L383.0,119.0 L381.6,122.6 L380.4,126.3 L379.3,130.1 L378.5,134.2 L377.7,138.4 L377.0,142.7 L376.3,147.1 L375.8,151.6 L375.3,156.3 L374.8,161.2 L374.5,166.1 L374.3,171.2 L374.2,176.4 L374.2,181.8Z" fill="#48a81c"/>
<path d="M370.8,194.6 L371.0,189.4 L371.1,184.2 L371.2,178.9 L371.0,173.6 L370.9,168.2 L370.7,162.7 L370.4,157.2 L370.2,151.6 L369.9,146.0 L369.6,140.3 L369.2,134.6 L368.6,128.8 L367.8,122.9 L366.9,117.1 L366.9,117.1 L366.9,123.0 L366.9,128.9 L367.1,134.7 L367.4,140.4 L367.7,146.1 L368.0,151.7 L368.3,157.3 L368.5,162.8 L368.7,168.2 L368.9,173.6 L369.0,178.9 L369.3,184.2 L369.5,189.4 L369.8,194.6Z" fill="#328e14"/>
<path d="M373.6,193.1 L373.8,185.2 L374.0,177.4 L374.1,169.9 L374.1,162.5 L374.2,155.3 L374.2,148.3 L374.2,141.5 L374.2,134.9 L374.2,128.4 L374.2,122.2 L374.2,116.1 L374.0,110.2 L373.7,104.5 L373.2,99.0 L373.2,99.0 L372.7,104.5 L372.3,110.2 L372.0,116.1 L372.0,122.1 L372.0,128.4 L372.0,134.8 L372.0,141.5 L371.9,148.3 L371.9,155.3 L371.9,162.5 L371.9,169.9 L372.1,177.4 L372.3,185.2 L372.5,193.1Z" fill="#3e9c16"/>
<path d="M377.9,178.6 L378.4,173.8 L379.1,169.0 L379.8,164.3 L380.5,159.6 L381.3,155.1 L382.3,150.6 L383.3,146.1 L384.4,141.8 L385.7,137.5 L387.0,133.3 L388.5,129.2 L389.8,125.1 L391.2,121.0 L392.6,116.9 L392.6,116.9 L390.5,120.7 L388.5,124.6 L386.7,128.6 L385.3,132.7 L383.9,137.0 L382.6,141.3 L381.5,145.7 L380.5,150.2 L379.5,154.7 L378.7,159.3 L378.0,164.0 L377.5,168.8 L377.2,173.6 L376.9,178.6Z" fill="#2c8412"/>
<path d="M363.1,199.5 Q361.5,176.1 352.4,152.7" fill="none" stroke="#96cc30" stroke-width="1.6950682258232748" stroke-linecap="round" stroke-opacity="0.95"/>
<path d="M364.5,199.5 Q363.2,171.7 356.0,143.8" fill="none" stroke="#96cc30" stroke-width="1.2630178480844854" stroke-linecap="round" stroke-opacity="0.95"/>
<path d="M365.5,199.5 Q364.8,167.9 360.6,136.4" fill="none" stroke="#72bc26" stroke-width="1.3095971395152293" stroke-linecap="round" stroke-opacity="0.95"/>
<path d="M366.7,199.5 Q366.2,176.9 363.8,154.3" fill="none" stroke="#96cc30" stroke-width="1.2170507091840095" stroke-linecap="round" stroke-opacity="0.95"/>
<path d="M368.5,199.5 Q367.9,178.8 364.3,158.1" fill="none" stroke="#4a9c18" stroke-width="1.513127142945332" stroke-linecap="round" stroke-opacity="0.95"/>
<path d="M369.6,199.5 Q369.4,169.1 367.9,138.6" fill="none" stroke="#6ab422" stroke-width="1.2923808757876947" stroke-linecap="round" stroke-opacity="0.95"/>
<path d="M370.6,199.5 Q370.4,166.5 369.4,133.4" fill="none" stroke="#62b020" stroke-width="1.0156026656782262" stroke-linecap="round" stroke-opacity="0.95"/>
<path d="M371.6,199.5 Q371.5,171.1 371.3,142.6" fill="none" stroke="#4a9c18" stroke-width="1.3738791775478516" stroke-linecap="round" stroke-opacity="0.95"/>
<path d="M373.1,199.5 Q373.2,170.3 373.9,141.0" fill="none" stroke="#4a9c18" stroke-width="1.4367506912345451" stroke-linecap="round" stroke-opacity="0.95"/>
<path d="M374.4,199.5 Q374.9,167.8 377.6,136.0" fill="none" stroke="#56a81c" stroke-width="1.4952308312395153" stroke-linecap="round" stroke-opacity="0.95"/>
<path d="M375.7,199.5 Q376.0,166.7 378.0,133.9" fill="none" stroke="#96cc30" stroke-width="1.2813670237965835" stroke-linecap="round" stroke-opacity="0.95"/>
<path d="M376.8,199.5 Q377.5,165.9 381.7,132.3" fill="none" stroke="#4a9c18" stroke-width="1.4163069855565045" stroke-linecap="round" stroke-opacity="0.95"/>
<path d="M378.3,199.5 Q379.2,174.8 384.1,150.1" fill="none" stroke="#a2d02c" stroke-width="1.1739479125706063" stroke-linecap="round" stroke-opacity="0.95"/>
<path d="M379.8,199.5 Q380.9,166.4 387.1,133.3" fill="none" stroke="#6ab422" stroke-width="1.129960518079759" stroke-linecap="round" stroke-opacity="0.95"/>
<path d="M380.5,199.5 Q381.2,179.4 385.5,159.4" fill="none" stroke="#56a81c" stroke-width="1.0995865813584982" stroke-linecap="round" stroke-opacity="0.95"/>
<path d="M366.3,168.2 Q363.4,150.2 356.6,132.1" fill="none" stroke="#0a2205" stroke-width="0.7873197373322248" stroke-linecap="round" stroke-opacity="0.8"/>
<path d="M368.4,159.0 Q366.6,147.8 362.3,136.6" fill="none" stroke="#123a0a" stroke-width="1.0576993068248268" stroke-linecap="round" stroke-opacity="0.8"/>
<path d="M362.7,175.3 Q358.1,153.2 347.3,131.0" fill="none" stroke="#0a2205" stroke-width="1.0277656303811342" stroke-linecap="round" stroke-opacity="0.8"/>
<path d="M365.9,179.9 Q363.2,156.2 357.1,132.6" fill="none" stroke="#0c2806" stroke-width="0.8677580285492312" stroke-linecap="round" stroke-opacity="0.8"/>
<path d="M376.6,170.9 Q377.3,151.9 378.9,133.0" fill="none" stroke="#123a0a" stroke-width="1.0179329691595873" stroke-linecap="round" stroke-opacity="0.8"/>
<path d="M375.3,170.6 Q375.5,154.5 376.0,138.5" fill="none" stroke="#123a0a" stroke-width="1.0210015927574436" stroke-linecap="round" stroke-opacity="0.8"/>
<path d="M380.7,156.5 Q383.0,137.6 388.5,118.8" fill="none" stroke="#123a0a" stroke-width="1.1523512618098755" stroke-linecap="round" stroke-opacity="0.8"/>
<path d="M378.3,156.1 Q378.5,148.0 378.9,139.9" fill="none" stroke="#0c2806" stroke-width="1.1400823987599729" stroke-linecap="round" stroke-opacity="0.8"/>
<path d="M368.7,157.2 Q366.2,143.3 360.4,129.5" fill="none" stroke="#0a2205" stroke-width="1.190830338244275" stroke-linecap="round" stroke-opacity="0.8"/>
<path d="M378.3,166.1 Q379.0,148.0 380.7,129.9" fill="none" stroke="#0c2806" stroke-width="1.1287613780294237" stroke-linecap="round" stroke-opacity="0.8"/>
<path d="M370.8,171.7 Q369.2,145.4 365.6,119.1" fill="none" stroke="#0c2806" stroke-width="0.8957815275438952" stroke-linecap="round" stroke-opacity="0.8"/>
<path d="M373.5,167.0 Q372.7,139.7 370.7,112.4" fill="none" stroke="#0c2806" stroke-width="0.7533391893728418" stroke-linecap="round" stroke-opacity="0.8"/>
<path d="M365.6,199.5 Q365.0,177.4 361.8,155.3" fill="none" stroke="#123c0a" stroke-width="0.8154349321188384" stroke-linecap="round" stroke-opacity="0.85"/>
<path d="M368.6,199.5 Q368.3,181.9 366.8,164.3" fill="none" stroke="#123c0a" stroke-width="1.168392631585483" stroke-linecap="round" stroke-opacity="0.85"/>
<path d="M372.3,199.5 Q372.3,181.1 372.5,162.7" fill="none" stroke="#0f3008" stroke-width="1.2456401082283388" stroke-linecap="round" stroke-opacity="0.85"/>
<path d="M376.1,199.5 Q376.7,185.3 380.4,171.0" fill="none" stroke="#184a0e" stroke-width="0.8535579444713048" stroke-linecap="round" stroke-opacity="0.85"/>
<path d="M380.0,199.5 Q380.6,173.9 384.1,148.4" fill="none" stroke="#0f3008" stroke-width="0.8437348590234677" stroke-linecap="round" stroke-opacity="0.85"/>
<path d="M437.2,189.5 L437.2,183.0 L437.2,176.4 L437.0,169.9 L436.6,163.4 L436.1,157.0 L435.5,150.6 L434.9,144.2 L434.1,137.9 L433.3,131.6 L432.4,125.3 L431.5,119.0 L430.2,112.9 L428.7,106.8 L427.0,100.7 L427.0,100.7 L427.8,106.9 L428.5,113.1 L429.3,119.4 L430.3,125.6 L431.2,131.8 L432.0,138.1 L432.7,144.4 L433.4,150.8 L433.9,157.2 L434.4,163.6 L434.9,170.0 L435.3,176.5 L435.8,183.0 L436.1,189.5Z" fill="#143f08"/>
<path d="M434.9,174.5 L434.8,169.2 L434.4,164.0 L434.0,158.8 L433.3,153.8 L432.5,148.9 L431.6,144.0 L430.6,139.3 L429.5,134.7 L428.2,130.1 L426.9,125.7 L425.4,121.3 L423.7,117.1 L421.7,113.1 L419.6,109.2 L419.6,109.2 L421.1,113.3 L422.5,117.6 L423.9,121.8 L425.4,126.2 L426.7,130.6 L427.9,135.1 L429.1,139.7 L430.1,144.3 L431.0,149.1 L431.7,154.0 L432.4,159.0 L433.1,164.1 L433.7,169.3 L434.1,174.5Z" fill="#20660e"/>
<path d="M445.4,185.3 L445.9,179.8 L446.5,174.5 L447.3,169.3 L448.2,164.3 L449.2,159.4 L450.4,154.6 L451.8,150.0 L453.4,145.5 L455.1,141.2 L457.1,137.0 L459.2,132.9 L461.4,128.9 L463.6,124.9 L466.0,121.0 L466.0,121.0 L462.9,124.4 L460.1,128.1 L457.5,132.0 L455.4,136.1 L453.4,140.4 L451.6,144.8 L450.0,149.4 L448.5,154.1 L447.3,159.0 L446.3,163.9 L445.4,169.0 L444.9,174.3 L444.6,179.7 L444.5,185.2Z" fill="#174e0a"/>
<path d="M436.7,181.4 L436.7,176.2 L436.5,171.1 L436.2,166.1 L435.7,161.3 L435.0,156.7 L434.3,152.2 L433.4,147.8 L432.5,143.7 L431.4,139.6 L430.3,135.8 L429.0,132.1 L427.4,128.6 L425.6,125.4 L423.6,122.4 L423.6,122.4 L424.7,125.8 L425.9,129.2 L427.0,132.8 L428.2,136.4 L429.4,140.2 L430.4,144.2 L431.4,148.3 L432.2,152.6 L432.9,157.0 L433.6,161.6 L434.1,166.3 L434.7,171.2 L435.2,176.3 L435.6,181.5Z" fill="#1c5a0c"/>
<path d="M438.7,192.9 L438.9,186.3 L439.0,179.8 L439.0,173.2 L439.0,166.8 L438.9,160.3 L438.8,154.0 L438.6,147.6 L438.5,141.3 L438.4,135.0 L438.2,128.8 L438.0,122.6 L437.6,116.5 L437.1,110.4 L436.5,104.3 L436.5,104.3 L436.3,110.4 L436.2,116.5 L436.1,122.7 L436.3,128.9 L436.5,135.1 L436.6,141.3 L436.8,147.6 L436.9,154.0 L437.0,160.4 L437.1,166.8 L437.2,173.3 L437.4,179.8 L437.6,186.3 L437.8,192.9Z" fill="#143f08"/>
<path d="M440.7,184.9 L441.0,177.7 L441.4,170.6 L441.8,163.6 L442.1,156.7 L442.4,150.0 L442.8,143.3 L443.3,136.7 L443.7,130.3 L444.3,124.0 L444.8,117.7 L445.4,111.6 L445.9,105.6 L446.2,99.7 L446.5,93.8 L446.5,93.8 L445.2,99.5 L444.2,105.4 L443.2,111.4 L442.6,117.5 L442.0,123.8 L441.5,130.1 L441.0,136.6 L440.6,143.2 L440.2,149.8 L439.9,156.6 L439.6,163.5 L439.5,170.5 L439.5,177.6 L439.6,184.9Z" fill="#143f08"/>
<path d="M433.3,171.2 L433.2,166.7 L433.0,162.3 L432.6,158.0 L432.0,153.9 L431.3,149.9 L430.5,146.0 L429.5,142.3 L428.5,138.6 L427.3,135.2 L426.1,131.8 L424.7,128.6 L423.0,125.6 L421.2,122.8 L419.1,120.3 L419.1,120.3 L420.3,123.3 L421.5,126.4 L422.6,129.5 L423.9,132.7 L425.2,135.9 L426.3,139.3 L427.3,142.9 L428.2,146.5 L429.0,150.3 L429.7,154.2 L430.3,158.3 L431.0,162.5 L431.6,166.8 L432.1,171.3Z" fill="#1a540b"/>
<path d="M432.3,171.3 L432.2,170.3 L431.9,169.3 L431.4,168.4 L430.7,167.4 L429.8,166.6 L428.8,165.7 L427.6,164.9 L426.3,164.1 L424.8,163.4 L423.2,162.6 L421.4,161.9 L419.4,161.3 L417.3,160.9 L415.0,160.5 L415.0,160.5 L417.1,161.5 L419.1,162.4 L420.9,163.3 L422.6,164.0 L424.1,164.7 L425.5,165.4 L426.8,166.2 L427.9,166.9 L428.8,167.7 L429.6,168.4 L430.2,169.2 L430.8,169.9 L431.3,170.7 L431.6,171.4Z" fill="#174e0a"/>
<path d="M441.3,197.3 L441.9,192.3 L442.7,187.3 L443.5,182.3 L444.4,177.3 L445.4,172.3 L446.6,167.4 L447.9,162.5 L449.3,157.6 L451.0,152.7 L452.8,147.8 L454.7,143.0 L456.5,138.1 L458.5,133.1 L460.4,128.1 L460.4,128.1 L457.6,132.7 L455.0,137.4 L452.6,142.1 L450.7,147.0 L448.9,152.0 L447.2,156.9 L445.7,161.9 L444.4,166.8 L443.2,171.9 L442.2,176.9 L441.3,181.9 L440.8,187.0 L440.4,192.1 L440.2,197.2Z" fill="#143f08"/>
<path d="M441.2,184.7 L441.6,180.4 L442.2,176.1 L442.8,171.8 L443.3,167.4 L444.0,162.9 L444.8,158.4 L445.6,153.8 L446.6,149.2 L447.7,144.6 L448.8,139.8 L450.1,135.1 L451.2,130.2 L452.4,125.3 L453.6,120.2 L453.6,120.2 L451.7,125.0 L450.0,129.8 L448.4,134.6 L447.1,139.4 L446.0,144.2 L444.9,148.9 L443.9,153.5 L443.1,158.1 L442.3,162.6 L441.6,167.1 L441.1,171.6 L440.7,176.0 L440.5,180.3 L440.3,184.6Z" fill="#20660e"/>
<path d="M443.4,184.2 L444.0,177.6 L444.6,171.2 L445.4,165.0 L446.3,158.9 L447.3,153.1 L448.5,147.4 L449.8,141.9 L451.3,136.6 L453.0,131.4 L454.8,126.5 L456.8,121.7 L458.8,117.0 L460.8,112.5 L463.0,108.0 L463.0,108.0 L460.1,112.1 L457.5,116.4 L455.1,120.9 L453.0,125.8 L451.2,130.8 L449.5,136.0 L447.9,141.4 L446.6,147.0 L445.4,152.7 L444.4,158.6 L443.5,164.8 L443.0,171.1 L442.6,177.5 L442.5,184.2Z" fill="#143f08"/>
<path d="M438.0,190.7 L438.2,184.2 L438.3,177.7 L438.5,171.3 L438.5,165.0 L438.5,158.7 L438.5,152.5 L438.6,146.4 L438.6,140.3 L438.6,134.3 L438.7,128.4 L438.7,122.5 L438.6,116.7 L438.3,111.0 L438.0,105.3 L438.0,105.3 L437.6,111.0 L437.2,116.7 L437.0,122.5 L436.9,128.4 L436.9,134.3 L436.8,140.3 L436.8,146.4 L436.8,152.5 L436.7,158.7 L436.7,165.0 L436.7,171.3 L436.8,177.7 L437.0,184.2 L437.1,190.7Z" fill="#1c5a0c"/>
<path d="M441.7,194.3 L442.1,188.4 L442.5,182.4 L443.0,176.4 L443.4,170.3 L443.8,164.3 L444.3,158.2 L444.9,152.1 L445.6,145.9 L446.3,139.7 L447.1,133.5 L448.0,127.3 L448.7,121.0 L449.4,114.6 L450.0,108.2 L450.0,108.2 L448.5,114.5 L447.2,120.7 L446.0,127.0 L445.1,133.2 L444.3,139.5 L443.6,145.7 L443.0,151.9 L442.4,158.0 L441.8,164.1 L441.4,170.2 L441.0,176.3 L440.8,182.3 L440.7,188.3 L440.7,194.3Z" fill="#20660e"/>
<path d="M433.6,176.7 L433.4,170.0 L433.1,163.4 L432.6,156.8 L431.9,150.2 L431.0,143.7 L430.0,137.2 L428.9,130.7 L427.6,124.3 L426.2,118.0 L424.7,111.6 L423.1,105.3 L421.1,99.1 L418.9,93.0 L416.4,87.0 L416.4,87.0 L417.9,93.3 L419.5,99.6 L421.0,105.9 L422.6,112.2 L424.1,118.5 L425.5,124.8 L426.7,131.1 L427.8,137.6 L428.8,144.0 L429.7,150.5 L430.4,157.0 L431.2,163.5 L431.9,170.1 L432.5,176.7Z" fill="#20660e"/>
<path d="M433.0,177.1 L432.8,174.9 L432.5,172.8 L432.1,170.7 L431.3,168.7 L430.3,166.7 L429.2,164.7 L427.9,162.8 L426.5,161.0 L424.8,159.1 L423.0,157.4 L421.1,155.6 L418.9,154.1 L416.4,152.7 L413.8,151.4 L413.8,151.4 L416.0,153.3 L418.1,155.1 L420.0,156.9 L421.9,158.6 L423.6,160.3 L425.2,162.0 L426.6,163.8 L427.8,165.6 L428.9,167.4 L429.8,169.3 L430.5,171.2 L431.2,173.1 L431.7,175.1 L432.1,177.2Z" fill="#1c5a0c"/>
<path d="M441.3,192.9 L441.7,185.6 L442.2,178.3 L442.8,171.0 L443.3,163.6 L443.9,156.2 L444.6,148.8 L445.5,141.4 L446.4,134.0 L447.4,126.5 L448.5,119.0 L449.8,111.4 L450.9,103.9 L451.9,96.2 L453.0,88.5 L453.0,88.5 L451.0,96.0 L449.2,103.5 L447.6,111.1 L446.4,118.6 L445.2,126.2 L444.2,133.7 L443.3,141.1 L442.4,148.6 L441.7,156.0 L441.1,163.5 L440.6,170.8 L440.3,178.2 L440.2,185.6 L440.2,192.9Z" fill="#1c5a0c"/>
<path d="M438.5,191.5 L438.7,184.4 L438.8,177.4 L438.9,170.6 L438.9,163.8 L438.9,157.2 L438.9,150.6 L438.8,144.1 L438.8,137.8 L438.7,131.5 L438.7,125.3 L438.6,119.2 L438.4,113.2 L438.0,107.4 L437.5,101.6 L437.5,101.6 L437.2,107.4 L437.0,113.3 L436.8,119.2 L436.9,125.3 L436.9,131.5 L437.0,137.8 L437.0,144.1 L437.0,150.6 L437.1,157.2 L437.1,163.8 L437.1,170.6 L437.3,177.5 L437.4,184.4 L437.6,191.5Z" fill="#20660e"/>
<path d="M440.2,186.2 L440.5,180.1 L440.8,174.1 L441.2,168.2 L441.6,162.5 L442.1,156.9 L442.7,151.4 L443.3,146.1 L444.1,140.9 L444.9,135.8 L445.8,130.9 L446.8,126.1 L447.8,121.4 L448.7,116.8 L449.7,112.4 L449.7,112.4 L448.1,116.7 L446.6,121.2 L445.3,125.8 L444.3,130.6 L443.4,135.6 L442.6,140.7 L441.8,145.9 L441.1,151.2 L440.6,156.7 L440.1,162.4 L439.7,168.1 L439.5,174.0 L439.5,180.1 L439.5,186.2Z" fill="#20660e"/>
<path d="M438.8,194.1 L439.0,187.4 L439.3,180.8 L439.6,174.1 L439.8,167.4 L440.0,160.7 L440.3,154.0 L440.6,147.3 L440.9,140.6 L441.3,133.8 L441.6,127.1 L442.0,120.3 L442.3,113.5 L442.5,106.7 L442.6,99.8 L442.6,99.8 L441.7,106.6 L440.9,113.4 L440.3,120.2 L439.8,126.9 L439.5,133.7 L439.1,140.5 L438.8,147.2 L438.5,153.9 L438.3,160.7 L438.0,167.4 L437.8,174.1 L437.8,180.7 L437.8,187.4 L437.9,194.1Z" fill="#2e8812"/>
<path d="M441.5,196.0 L441.8,188.8 L442.2,181.8 L442.6,175.0 L443.0,168.5 L443.4,162.3 L444.0,156.2 L444.6,150.5 L445.3,144.9 L446.1,139.6 L447.0,134.6 L448.0,129.7 L448.9,125.1 L449.7,120.7 L450.5,116.4 L450.5,116.4 L448.7,120.4 L447.2,124.7 L445.8,129.3 L444.8,134.1 L443.9,139.2 L443.1,144.6 L442.4,150.2 L441.7,156.0 L441.2,162.1 L440.7,168.4 L440.4,174.9 L440.2,181.7 L440.3,188.7 L440.4,196.0Z" fill="#2e8812"/>
<path d="M439.4,190.7 L439.6,184.8 L439.7,179.0 L439.9,173.3 L439.9,167.6 L439.9,162.0 L439.9,156.4 L439.9,150.9 L439.9,145.4 L439.9,140.0 L439.9,134.7 L439.9,129.3 L439.6,124.1 L439.3,118.9 L438.8,113.8 L438.8,113.8 L438.4,118.9 L438.0,124.1 L437.8,129.3 L437.8,134.7 L437.8,140.0 L437.8,145.4 L437.8,150.9 L437.8,156.4 L437.8,162.0 L437.8,167.6 L437.8,173.3 L438.0,179.0 L438.2,184.8 L438.4,190.7Z" fill="#2a7c10"/>
<path d="M439.0,188.9 L439.3,181.2 L439.6,173.7 L439.9,166.5 L440.0,159.5 L440.2,152.6 L440.4,146.0 L440.6,139.7 L440.8,133.5 L441.1,127.5 L441.4,121.8 L441.7,116.3 L441.8,110.9 L441.8,105.8 L441.7,100.9 L441.7,100.9 L440.8,105.7 L440.0,110.8 L439.4,116.1 L439.0,121.7 L438.7,127.4 L438.4,133.4 L438.2,139.6 L438.0,146.0 L437.8,152.6 L437.6,159.4 L437.5,166.5 L437.6,173.7 L437.7,181.2 L437.9,188.9Z" fill="#389616"/>
<path d="M431.5,173.6 L431.2,169.8 L430.7,166.0 L430.0,162.3 L428.9,158.5 L427.7,154.8 L426.3,151.1 L424.6,147.4 L422.8,143.8 L420.8,140.1 L418.6,136.4 L416.2,132.8 L413.4,129.3 L410.5,125.9 L407.2,122.6 L407.2,122.6 L409.8,126.4 L412.4,130.1 L414.7,133.8 L417.1,137.4 L419.3,141.0 L421.2,144.6 L423.0,148.2 L424.6,151.8 L426.0,155.4 L427.2,159.1 L428.3,162.7 L429.2,166.3 L430.0,170.0 L430.7,173.7Z" fill="#328e14"/>
<path d="M437.9,189.2 L438.0,183.1 L438.2,177.0 L438.3,170.8 L438.3,164.6 L438.2,158.4 L438.2,152.1 L438.2,145.8 L438.1,139.5 L438.1,133.1 L438.1,126.7 L438.0,120.3 L437.8,113.8 L437.5,107.3 L437.0,100.8 L437.0,100.8 L436.7,107.3 L436.4,113.8 L436.3,120.3 L436.3,126.7 L436.3,133.1 L436.4,139.5 L436.4,145.8 L436.4,152.1 L436.4,158.4 L436.5,164.6 L436.5,170.8 L436.6,177.0 L436.8,183.1 L437.0,189.2Z" fill="#2e8812"/>
<path d="M439.4,197.2 L439.6,190.6 L439.7,184.0 L439.9,177.4 L439.9,170.7 L439.9,164.0 L439.9,157.3 L439.9,150.5 L439.9,143.7 L440.0,136.9 L440.0,130.0 L440.0,123.1 L439.9,116.2 L439.6,109.2 L439.3,102.2 L439.3,102.2 L438.9,109.2 L438.6,116.2 L438.4,123.1 L438.3,130.0 L438.3,136.9 L438.3,143.7 L438.3,150.5 L438.2,157.3 L438.2,164.0 L438.2,170.7 L438.2,177.4 L438.3,184.0 L438.4,190.6 L438.6,197.2Z" fill="#2e8812"/>
<path d="M444.1,180.2 L444.6,174.7 L445.3,169.3 L446.1,164.1 L446.9,159.1 L448.0,154.1 L449.2,149.3 L450.6,144.7 L452.2,140.1 L453.9,135.7 L455.9,131.5 L458.0,127.4 L460.1,123.3 L462.3,119.2 L464.7,115.2 L464.7,115.2 L461.6,118.7 L458.7,122.4 L456.1,126.3 L453.9,130.5 L451.9,134.9 L450.1,139.4 L448.5,144.0 L447.1,148.7 L445.9,153.6 L444.8,158.7 L444.0,163.8 L443.4,169.1 L443.2,174.6 L443.1,180.2Z" fill="#2c8412"/>
<path d="M439.1,197.7 L439.3,190.4 L439.5,183.0 L439.7,175.5 L439.7,168.0 L439.7,160.3 L439.8,152.7 L439.8,144.9 L439.9,137.1 L440.0,129.2 L440.0,121.3 L440.1,113.3 L440.0,105.2 L439.8,97.0 L439.4,88.8 L439.4,88.8 L438.9,97.0 L438.5,105.1 L438.2,113.2 L438.1,121.3 L438.0,129.2 L437.9,137.1 L437.9,144.9 L437.8,152.7 L437.8,160.3 L437.7,167.9 L437.7,175.5 L437.8,183.0 L438.0,190.4 L438.1,197.7Z" fill="#2c8412"/>
<path d="M444.0,179.4 L444.6,174.9 L445.3,170.4 L446.1,165.9 L446.9,161.3 L447.8,156.7 L448.9,152.0 L450.2,147.4 L451.6,142.7 L453.2,137.9 L454.9,133.2 L456.7,128.4 L458.5,123.4 L460.3,118.4 L462.2,113.2 L462.2,113.2 L459.3,117.9 L456.8,122.7 L454.5,127.4 L452.6,132.3 L450.8,137.1 L449.3,141.9 L447.8,146.7 L446.6,151.4 L445.4,156.2 L444.5,160.8 L443.7,165.5 L443.2,170.1 L442.9,174.8 L442.8,179.3Z" fill="#328e14"/>
<path d="M435.6,198.8 L435.2,193.5 L434.5,188.3 L433.7,183.1 L432.5,178.0 L431.1,173.0 L429.5,168.1 L427.7,163.2 L425.7,158.4 L423.4,153.7 L421.0,149.1 L418.4,144.5 L415.3,140.1 L412.1,135.8 L408.5,131.7 L408.5,131.7 L411.4,136.3 L414.2,140.8 L416.8,145.4 L419.4,149.9 L421.8,154.5 L424.0,159.2 L426.0,163.9 L427.8,168.7 L429.4,173.5 L430.8,178.5 L431.9,183.5 L433.0,188.5 L434.0,193.6 L434.7,198.9Z" fill="#389616"/>
<path d="M442.9,190.7 L443.4,183.8 L444.1,176.9 L444.9,169.8 L445.7,162.7 L446.6,155.5 L447.7,148.2 L448.9,140.7 L450.3,133.2 L451.9,125.7 L453.6,118.0 L455.5,110.2 L457.2,102.3 L459.1,94.2 L460.9,86.0 L460.9,86.0 L458.0,93.9 L455.5,101.8 L453.2,109.6 L451.3,117.4 L449.6,125.2 L448.0,132.8 L446.6,140.3 L445.3,147.8 L444.2,155.2 L443.3,162.4 L442.5,169.6 L442.1,176.7 L441.8,183.7 L441.7,190.7Z" fill="#389616"/>
<path d="M438.2,197.7 L438.3,189.0 L438.4,180.5 L438.3,172.3 L438.1,164.3 L437.8,156.7 L437.4,149.3 L436.9,142.2 L436.4,135.3 L435.8,128.8 L435.2,122.5 L434.4,116.5 L433.4,110.9 L432.2,105.5 L430.9,100.4 L430.9,100.4 L431.4,105.6 L431.9,111.1 L432.4,116.8 L433.1,122.8 L433.8,129.0 L434.4,135.5 L434.9,142.3 L435.3,149.4 L435.7,156.7 L436.0,164.4 L436.3,172.3 L436.6,180.5 L436.9,189.0 L437.2,197.7Z" fill="#2c8412"/>
<path d="M445.4,178.4 L445.8,172.9 L446.5,167.5 L447.2,162.2 L447.9,157.0 L448.7,151.8 L449.7,146.7 L450.8,141.7 L452.0,136.7 L453.4,131.9 L454.9,127.1 L456.6,122.4 L458.1,117.7 L459.8,113.0 L461.4,108.3 L461.4,108.3 L458.9,112.6 L456.7,117.1 L454.6,121.7 L452.9,126.4 L451.4,131.3 L450.0,136.2 L448.8,141.2 L447.6,146.3 L446.6,151.4 L445.8,156.6 L445.1,161.9 L444.7,167.3 L444.4,172.8 L444.3,178.3Z" fill="#2c8412"/>
<path d="M436.3,183.6 L436.4,176.6 L436.4,169.7 L436.3,162.9 L436.1,156.3 L435.8,149.8 L435.5,143.5 L435.1,137.3 L434.7,131.3 L434.2,125.4 L433.7,119.6 L433.2,114.0 L432.4,108.6 L431.5,103.3 L430.4,98.2 L430.4,98.2 L430.7,103.4 L431.1,108.7 L431.4,114.2 L432.0,119.8 L432.5,125.5 L432.9,131.4 L433.3,137.4 L433.7,143.6 L434.0,149.9 L434.3,156.4 L434.6,163.0 L434.9,169.7 L435.2,176.6 L435.5,183.6Z" fill="#389616"/>
<path d="M435.2,177.6 L435.1,173.3 L435.0,169.0 L434.7,164.7 L434.2,160.5 L433.6,156.4 L432.9,152.3 L432.2,148.2 L431.3,144.2 L430.4,140.2 L429.3,136.3 L428.2,132.4 L426.8,128.7 L425.1,125.0 L423.3,121.5 L423.3,121.5 L424.2,125.4 L425.1,129.2 L426.0,133.1 L427.1,136.9 L428.2,140.8 L429.1,144.7 L429.9,148.7 L430.7,152.7 L431.4,156.7 L432.0,160.8 L432.5,165.0 L433.1,169.1 L433.6,173.4 L434.1,177.6Z" fill="#389616"/>
<path d="M433.8,173.4 L433.8,167.8 L433.6,162.2 L433.3,156.6 L432.7,151.2 L432.1,145.7 L431.3,140.4 L430.4,135.1 L429.4,129.9 L428.2,124.7 L427.0,119.6 L425.6,114.5 L424.0,109.6 L422.1,104.7 L420.0,100.0 L420.0,100.0 L421.3,105.0 L422.6,110.0 L423.8,115.0 L425.1,120.0 L426.4,125.1 L427.5,130.2 L428.5,135.4 L429.4,140.7 L430.2,146.0 L430.8,151.4 L431.4,156.8 L432.0,162.3 L432.5,167.8 L432.8,173.4Z" fill="#2a7c10"/>
<path d="M439.3,188.4 L439.5,181.2 L439.7,174.1 L440.0,167.1 L440.1,160.2 L440.3,153.4 L440.6,146.7 L440.8,140.1 L441.1,133.6 L441.4,127.1 L441.8,120.8 L442.1,114.5 L442.3,108.3 L442.5,102.3 L442.6,96.2 L442.6,96.2 L441.7,102.2 L441.0,108.3 L440.4,114.4 L440.0,120.7 L439.7,127.0 L439.4,133.5 L439.1,140.0 L438.8,146.6 L438.6,153.4 L438.4,160.2 L438.3,167.1 L438.3,174.1 L438.3,181.2 L438.4,188.4Z" fill="#2a7c10"/>
<path d="M441.6,192.1 L442.0,186.4 L442.6,180.7 L443.2,175.0 L443.7,169.2 L444.4,163.5 L445.2,157.7 L446.1,151.9 L447.1,146.2 L448.2,140.3 L449.4,134.5 L450.7,128.7 L451.9,122.8 L453.1,116.9 L454.3,110.9 L454.3,110.9 L452.3,116.6 L450.6,122.5 L448.9,128.3 L447.6,134.2 L446.4,140.0 L445.3,145.8 L444.3,151.7 L443.4,157.5 L442.7,163.3 L442.0,169.0 L441.4,174.8 L441.0,180.6 L440.8,186.3 L440.7,192.1Z" fill="#56b422"/>
<path d="M438.5,195.8 L438.8,188.4 L439.0,180.9 L439.1,173.4 L439.1,165.7 L439.0,157.9 L439.0,150.0 L439.0,142.0 L438.9,134.0 L438.9,125.8 L438.8,117.5 L438.7,109.1 L438.4,100.6 L437.9,92.0 L437.3,83.3 L437.3,83.3 L436.9,92.0 L436.6,100.6 L436.4,109.1 L436.4,117.5 L436.5,125.8 L436.5,134.0 L436.6,142.1 L436.6,150.0 L436.7,157.9 L436.7,165.7 L436.7,173.4 L436.9,180.9 L437.1,188.4 L437.4,195.8Z" fill="#48a81c"/>
<path d="M438.2,197.0 L438.1,189.8 L438.0,182.5 L437.7,175.2 L437.1,167.8 L436.5,160.4 L435.8,152.9 L434.9,145.3 L434.0,137.7 L433.0,130.0 L431.9,122.3 L430.7,114.5 L429.2,106.7 L427.4,98.9 L425.5,91.0 L425.5,91.0 L426.5,99.0 L427.5,107.0 L428.5,114.9 L429.7,122.6 L430.8,130.3 L431.8,138.0 L432.7,145.6 L433.6,153.1 L434.3,160.6 L434.9,168.0 L435.5,175.4 L436.1,182.6 L436.6,189.9 L437.1,197.1Z" fill="#328e14"/>
<path d="M443.3,183.7 L443.7,178.4 L444.3,173.2 L445.1,168.2 L445.9,163.4 L446.8,158.7 L448.0,154.3 L449.3,150.0 L450.8,145.8 L452.5,141.9 L454.4,138.1 L456.5,134.5 L458.5,130.9 L460.6,127.3 L462.9,123.9 L462.9,123.9 L459.8,126.7 L457.0,129.8 L454.4,133.2 L452.3,136.9 L450.3,140.8 L448.6,144.9 L447.0,149.2 L445.6,153.6 L444.4,158.2 L443.5,162.9 L442.7,167.9 L442.2,173.0 L442.0,178.3 L442.0,183.7Z" fill="#48a81c"/>
<path d="M433.5,175.9 L433.3,172.2 L433.0,168.4 L432.5,164.6 L431.8,160.8 L430.9,157.0 L429.8,153.1 L428.7,149.2 L427.4,145.3 L426.0,141.3 L424.5,137.3 L422.8,133.3 L420.8,129.3 L418.6,125.3 L416.1,121.4 L416.1,121.4 L417.7,125.8 L419.3,130.0 L420.8,134.1 L422.4,138.1 L423.9,142.1 L425.3,146.0 L426.6,149.9 L427.7,153.7 L428.7,157.5 L429.6,161.3 L430.4,165.0 L431.1,168.7 L431.8,172.4 L432.4,176.0Z" fill="#44a41a"/>
<path d="M439.9,191.5 L440.1,182.5 L440.4,173.7 L440.7,165.2 L440.8,157.0 L441.0,149.1 L441.1,141.4 L441.3,134.0 L441.5,126.9 L441.7,120.1 L442.0,113.5 L442.2,107.2 L442.2,101.2 L442.2,95.5 L442.0,90.0 L442.0,90.0 L441.2,95.4 L440.5,101.1 L440.0,107.1 L439.7,113.4 L439.5,120.0 L439.3,126.9 L439.1,134.0 L438.9,141.4 L438.7,149.0 L438.6,157.0 L438.5,165.2 L438.5,173.7 L438.6,182.5 L438.8,191.5Z" fill="#2e8812"/>
<path d="M440.7,198.2 L441.0,191.2 L441.4,184.3 L441.8,177.7 L442.1,171.2 L442.5,164.9 L443.0,158.8 L443.5,152.9 L444.2,147.2 L444.9,141.7 L445.7,136.4 L446.5,131.2 L447.2,126.2 L447.9,121.4 L448.5,116.7 L448.5,116.7 L446.9,121.1 L445.5,125.9 L444.3,130.8 L443.5,136.0 L442.7,141.4 L441.9,146.9 L441.3,152.7 L440.8,158.6 L440.3,164.8 L439.9,171.1 L439.5,177.6 L439.5,184.3 L439.5,191.2 L439.6,198.2Z" fill="#3e9c16"/>
<path d="M440.7,198.4 L440.9,191.7 L441.3,185.0 L441.6,178.3 L441.9,171.6 L442.2,164.9 L442.6,158.1 L443.1,151.3 L443.6,144.4 L444.2,137.5 L444.8,130.6 L445.5,123.7 L446.1,116.7 L446.6,109.7 L447.1,102.7 L447.1,102.7 L445.8,109.6 L444.7,116.6 L443.8,123.5 L443.1,130.5 L442.4,137.4 L441.9,144.3 L441.3,151.1 L440.9,158.0 L440.5,164.8 L440.1,171.5 L439.8,178.3 L439.7,185.0 L439.7,191.7 L439.8,198.3Z" fill="#44a41a"/>
<path d="M440.6,185.4 L440.9,178.5 L441.3,171.7 L441.6,165.2 L441.9,158.8 L442.3,152.6 L442.7,146.6 L443.1,140.8 L443.6,135.2 L444.1,129.7 L444.7,124.5 L445.3,119.4 L445.8,114.5 L446.3,109.8 L446.7,105.2 L446.7,105.2 L445.6,109.6 L444.6,114.3 L443.8,119.2 L443.2,124.3 L442.6,129.6 L442.1,135.0 L441.6,140.7 L441.1,146.5 L440.7,152.5 L440.4,158.7 L440.1,165.1 L440.0,171.7 L439.9,178.5 L439.9,185.4Z" fill="#48a81c"/>
<path d="M442.1,198.1 L442.8,191.7 L443.7,185.2 L444.8,178.7 L445.9,172.1 L447.2,165.4 L448.8,158.7 L450.5,151.9 L452.4,145.0 L454.6,138.0 L456.9,130.9 L459.5,123.8 L462.0,116.5 L464.6,109.1 L467.4,101.6 L467.4,101.6 L463.8,108.8 L460.5,116.0 L457.5,123.1 L455.0,130.3 L452.6,137.4 L450.4,144.4 L448.5,151.3 L446.7,158.2 L445.2,165.0 L443.9,171.7 L442.7,178.4 L441.9,185.0 L441.4,191.6 L441.0,198.0Z" fill="#2e8812"/>
<path d="M438.1,198.1 L438.2,190.3 L438.2,182.5 L438.1,174.6 L437.8,166.8 L437.4,159.0 L437.0,151.1 L436.6,143.2 L436.1,135.4 L435.6,127.5 L435.0,119.6 L434.3,111.7 L433.4,103.8 L432.3,95.9 L431.0,88.0 L431.0,88.0 L431.3,96.0 L431.7,103.9 L432.1,111.9 L432.8,119.8 L433.3,127.6 L433.9,135.5 L434.4,143.4 L434.8,151.2 L435.2,159.1 L435.6,166.9 L435.9,174.7 L436.3,182.5 L436.7,190.3 L437.0,198.1Z" fill="#44a41a"/>
<path d="M436.2,187.6 L436.1,181.4 L436.0,175.5 L435.6,169.7 L435.0,164.1 L434.3,158.7 L433.5,153.5 L432.5,148.5 L431.4,143.8 L430.2,139.2 L428.8,134.8 L427.4,130.6 L425.6,126.8 L423.5,123.1 L421.3,119.8 L421.3,119.8 L422.7,123.6 L424.1,127.4 L425.4,131.4 L426.8,135.5 L428.1,139.8 L429.3,144.3 L430.4,149.0 L431.3,153.9 L432.2,159.0 L432.9,164.3 L433.5,169.9 L434.1,175.6 L434.7,181.5 L435.1,187.7Z" fill="#328e14"/>
<path d="M441.1,191.0 L441.5,183.0 L441.9,175.2 L442.3,167.5 L442.7,160.0 L443.2,152.6 L443.7,145.3 L444.3,138.2 L445.0,131.2 L445.8,124.4 L446.7,117.7 L447.6,111.1 L448.4,104.6 L449.2,98.2 L450.0,92.0 L450.0,92.0 L448.4,98.1 L447.0,104.4 L445.8,110.8 L444.8,117.4 L444.0,124.2 L443.2,131.0 L442.5,138.0 L441.9,145.2 L441.3,152.5 L440.8,159.9 L440.5,167.5 L440.3,175.2 L440.2,183.0 L440.2,190.9Z" fill="#3e9c16"/>
<path d="M437.2,196.6 L437.1,189.2 L436.9,181.9 L436.5,174.5 L436.0,167.3 L435.3,160.1 L434.6,152.9 L433.8,145.8 L432.9,138.7 L432.0,131.7 L430.9,124.7 L429.8,117.8 L428.3,111.0 L426.8,104.2 L425.0,97.5 L425.0,97.5 L426.1,104.4 L427.1,111.2 L428.1,118.1 L429.3,125.0 L430.3,131.9 L431.3,138.9 L432.2,146.0 L433.0,153.1 L433.7,160.2 L434.3,167.4 L434.9,174.6 L435.5,181.9 L436.0,189.3 L436.4,196.7Z" fill="#56b422"/>
<path d="M440.1,190.0 L440.6,184.8 L441.1,179.6 L441.7,174.3 L442.2,169.0 L442.8,163.7 L443.4,158.3 L444.1,152.9 L444.9,147.4 L445.8,142.0 L446.7,136.4 L447.7,130.9 L448.6,125.3 L449.4,119.6 L450.2,113.8 L450.2,113.8 L448.5,119.4 L447.0,124.9 L445.7,130.5 L444.6,136.1 L443.7,141.6 L442.8,147.1 L442.0,152.6 L441.3,158.0 L440.7,163.4 L440.1,168.8 L439.6,174.2 L439.3,179.5 L439.2,184.8 L439.1,190.0Z" fill="#4eae1e"/>
<path d="M437.3,195.9 L437.5,190.0 L437.5,184.0 L437.5,178.0 L437.4,172.1 L437.2,166.2 L437.0,160.2 L436.8,154.3 L436.5,148.4 L436.2,142.5 L435.8,136.6 L435.4,130.8 L434.8,124.9 L434.1,119.1 L433.3,113.3 L433.3,113.3 L433.4,119.1 L433.6,125.0 L433.9,130.9 L434.3,136.7 L434.6,142.6 L434.9,148.5 L435.2,154.4 L435.5,160.3 L435.7,166.2 L435.8,172.1 L436.0,178.1 L436.2,184.0 L436.4,190.0 L436.6,195.9Z" fill="#2a7c10"/>
<path d="M431.9,199.0 Q431.3,175.5 427.7,152.0" fill="none" stroke="#62b020" stroke-width="1.2561115796999347" stroke-linecap="round" stroke-opacity="0.95"/>
<path d="M433.6,199.0 Q433.2,174.9 430.6,150.8" fill="none" stroke="#72bc26" stroke-width="1.2052003148200825" stroke-linecap="round" stroke-opacity="0.95"/>
<path d="M434.7,199.0 Q434.1,172.0 430.8,144.9" fill="none" stroke="#96cc30" stroke-width="1.6394647983835697" stroke-linecap="round" stroke-opacity="0.95"/>
<path d="M435.6,199.0 Q435.4,165.0 434.0,131.0" fill="none" stroke="#72bc26" stroke-width="1.2722640821169602" stroke-linecap="round" stroke-opacity="0.95"/>
<path d="M437.1,199.0 Q436.8,173.5 435.3,148.0" fill="none" stroke="#a2d02c" stroke-width="1.4262637409705319" stroke-linecap="round" stroke-opacity="0.95"/>
<path d="M438.4,199.0 Q438.3,178.7 438.2,158.5" fill="none" stroke="#a2d02c" stroke-width="1.4738156215587943" stroke-linecap="round" stroke-opacity="0.95"/>
<path d="M439.5,199.0 Q439.6,176.5 440.3,153.9" fill="none" stroke="#84c62c" stroke-width="1.4407947172320932" stroke-linecap="round" stroke-opacity="0.95"/>
<path d="M441.0,199.0 Q441.4,170.3 443.8,141.6" fill="none" stroke="#96cc30" stroke-width="1.5492369467641325" stroke-linecap="round" stroke-opacity="0.95"/>
<path d="M442.4,199.0 Q442.7,168.9 444.5,138.8" fill="none" stroke="#4a9c18" stroke-width="1.6086907485431143" stroke-linecap="round" stroke-opacity="0.95"/>
<path d="M443.8,199.0 Q444.3,164.7 447.0,130.5" fill="none" stroke="#96cc30" stroke-width="1.4092677660285926" stroke-linecap="round" stroke-opacity="0.95"/>
<path d="M445.2,199.0 Q446.1,168.2 450.7,137.4" fill="none" stroke="#6ab422" stroke-width="1.4212474572659417" stroke-linecap="round" stroke-opacity="0.95"/>
<path d="M444.0,172.2 Q446.4,142.7 452.0,113.2" fill="none" stroke="#123a0a" stroke-width="0.8340115048829466" stroke-linecap="round" stroke-opacity="0.8"/>
<path d="M433.7,175.6 Q431.2,154.1 425.1,132.5" fill="none" stroke="#123a0a" stroke-width="1.1166154903943455" stroke-linecap="round" stroke-opacity="0.8"/>
<path d="M442.8,174.0 Q445.2,146.4 450.7,118.7" fill="none" stroke="#0a2205" stroke-width="1.0423193982878518" stroke-linecap="round" stroke-opacity="0.8"/>
<path d="M444.2,158.4 Q446.3,143.1 451.2,127.8" fill="none" stroke="#123a0a" stroke-width="0.8002152740496775" stroke-linecap="round" stroke-opacity="0.8"/>
<path d="M442.0,176.0 Q443.5,151.1 447.0,126.3" fill="none" stroke="#0a2205" stroke-width="0.8977479586948562" stroke-linecap="round" stroke-opacity="0.8"/>
<path d="M441.4,175.8 Q443.0,142.9 446.9,110.0" fill="none" stroke="#123a0a" stroke-width="0.9298587282767963" stroke-linecap="round" stroke-opacity="0.8"/>
<path d="M432.8,172.2 Q429.6,145.8 422.2,119.5" fill="none" stroke="#0a2205" stroke-width="0.9605198059116642" stroke-linecap="round" stroke-opacity="0.8"/>
<path d="M435.2,173.0 Q433.9,148.2 431.0,123.5" fill="none" stroke="#0c2806" stroke-width="0.7945757113869996" stroke-linecap="round" stroke-opacity="0.8"/>
<path d="M434.2,153.4 Q432.0,137.2 426.8,121.0" fill="none" stroke="#0a2205" stroke-width="0.8794452756736102" stroke-linecap="round" stroke-opacity="0.8"/>
<path d="M442.4,173.7 Q444.1,154.4 448.0,135.0" fill="none" stroke="#123a0a" stroke-width="0.8870202081887864" stroke-linecap="round" stroke-opacity="0.8"/>
<path d="M433.0,167.0 Q430.0,142.1 422.9,117.1" fill="none" stroke="#0a2205" stroke-width="0.7151793932353021" stroke-linecap="round" stroke-opacity="0.8"/>
<path d="M434.5,199.0 Q434.2,180.1 432.3,161.2" fill="none" stroke="#123c0a" stroke-width="1.2952023210777737" stroke-linecap="round" stroke-opacity="0.85"/>
<path d="M439.8,199.0 Q440.0,178.3 440.9,157.6" fill="none" stroke="#184a0e" stroke-width="1.2627476661622181" stroke-linecap="round" stroke-opacity="0.85"/>
<path d="M443.9,199.0 Q444.5,172.5 448.0,145.9" fill="none" stroke="#0f3008" stroke-width="1.2094153702584014" stroke-linecap="round" stroke-opacity="0.85"/>
<path d="M447,172 Q456,164 476.6,164.5" fill="none" stroke="#44a226" stroke-width="1.8" stroke-linecap="round" />
<path d="M447,176 Q458,170 474,171" fill="none" stroke="#2e7a1c" stroke-width="1.2" stroke-linecap="round" />
<path d="M434,120 Q433,104 432,94" fill="none" stroke="#5e8024" stroke-width="0.756" stroke-linecap="round" />
<path d="M434,120 Q433,104 432,94" fill="none" stroke="#94a636" stroke-width="1.53" stroke-linecap="round" stroke-dasharray="0.8 1.6" stroke-opacity="0.9"/>
<path d="M446,118 Q447,104 448,96" fill="none" stroke="#5e8024" stroke-width="0.756" stroke-linecap="round" />
<path d="M446,118 Q447,104 448,96" fill="none" stroke="#94a636" stroke-width="1.53" stroke-linecap="round" stroke-dasharray="0.8 1.6" stroke-opacity="0.9"/>
<path d="M440,116 Q440,100 441,92" fill="none" stroke="#5e8024" stroke-width="0.672" stroke-linecap="round" />
<path d="M440,116 Q440,100 441,92" fill="none" stroke="#94a636" stroke-width="1.36" stroke-linecap="round" stroke-dasharray="0.8 1.6" stroke-opacity="0.9"/>
<rect x="362" y="189.5" width="1.6" height="4.5" fill="#b82a20"/><rect x="432" y="189.5" width="1.6" height="4.5" fill="#b82a20"/>
</g>
<line x1="463.9" y1="187.6" x2="463.9" y2="218" stroke="#fff" stroke-width="1"/>
<text transform="translate(467.6,189.6) rotate(90)" font-size="9" fill="#fff">15cm</text>
</g>
<defs><clipPath id="clipD"><rect x="23" y="281.5" width="175.2" height="185.89999999999998"/></clipPath></defs>
<rect x="23" y="281.5" width="175.2" height="185.89999999999998" fill="#030303"/>
<g clip-path="url(#clipD)"><g filter="url(#soft2)">
<path d="M39.7,288.6 Q43,385 40.7,462" fill="none" stroke="#9aa424" stroke-width="1.5" stroke-linecap="round"/>
<path d="M51.55,389.6 L52.85,389.6 L52.34,462.6 L50.46,462.6 Z" fill="#c8c834"/>
<rect x="50.32" y="461.40000000000003" width="2.16" height="1.8" fill="#e4dc90"/>
<path d="M59.98,426.6 L61.42,426.6 L61.54,462.6 L59.46,462.6 Z" fill="#c8c834"/>
<rect x="59.30" y="461.40000000000003" width="2.40" height="1.8" fill="#e4dc90"/>
<path d="M71.10,448.5 L72.90,448.5 L73.10,462.6 L70.50,462.6 Z" fill="#d8d444"/>
<rect x="70.30" y="461.40000000000003" width="3.00" height="1.8" fill="#e4dc90"/>
<path d="M92.5,304 Q96.6,385 93.2,462" fill="none" stroke="#9aa424" stroke-width="1.5" stroke-linecap="round"/>
<path d="M105.95,395.8 L107.25,395.8 L105.94,462.6 L104.06,462.6 Z" fill="#c8c834"/>
<rect x="103.92" y="461.40000000000003" width="2.16" height="1.8" fill="#e4dc90"/>
<path d="M114.08,439 L115.52,439 L115.74,462.6 L113.66,462.6 Z" fill="#c8c834"/>
<rect x="113.50" y="461.40000000000003" width="2.40" height="1.8" fill="#e4dc90"/>
<path d="M123.50,454.4 L125.30,454.4 L125.70,462.6 L123.10,462.6 Z" fill="#d8d444"/>
<rect x="122.90" y="461.40000000000003" width="3.00" height="1.8" fill="#e4dc90"/>
<path d="M148.32,329.7 L149.48,329.7 L149.63,462.6 L147.97,462.6 Z" fill="#9aa424"/>
<rect x="147.84" y="461.40000000000003" width="1.92" height="1.8" fill="#e4dc90"/>
<path d="M156.95,405 L158.25,405 L159.54,462.6 L157.66,462.6 Z" fill="#c8c834"/>
<rect x="157.52" y="461.40000000000003" width="2.16" height="1.8" fill="#e4dc90"/>
<path d="M167.98,446.2 L169.42,446.2 L170.24,462.6 L168.16,462.6 Z" fill="#c8c834"/>
<rect x="168.00" y="461.40000000000003" width="2.40" height="1.8" fill="#e4dc90"/>
<path d="M178.40,458.2 L180.20,458.2 L180.60,462.6 L178.00,462.6 Z" fill="#d8d444"/>
<rect x="177.80" y="461.40000000000003" width="3.00" height="1.8" fill="#e4dc90"/>
<path d="M29.3,462.5 L31.0,398 L31.5,350" fill="none" stroke="#6e9420" stroke-width="1.2"/>
<path d="M30.9,348.0 L30.7,351.0 L30.6,354.0 L30.4,357.0 L30.3,360.0 L30.1,363.0 L30.0,366.0 L29.9,369.0 L29.8,372.0 L29.7,375.0 L29.5,378.0 L29.4,381.0 L29.3,384.0 L29.2,387.0 L29.1,390.0 L29.0,393.0 L28.9,396.0 L28.8,399.0 L28.7,402.0 L28.7,405.0 L28.7,408.0 L28.7,411.0 L28.7,414.0 L28.7,417.0 L28.7,420.0 L28.8,423.0 L28.8,426.0 L28.8,429.0 L28.8,432.0 L28.8,435.0 L28.8,438.0 L28.9,441.0 L28.9,444.0 L28.9,447.0 L28.9,450.0 L30.3,450.0 L30.5,447.0 L30.7,444.0 L30.9,441.0 L31.0,438.0 L31.2,435.0 L31.4,432.0 L31.6,429.0 L31.8,426.0 L31.9,423.0 L32.1,420.0 L32.3,417.0 L32.4,414.0 L32.6,411.0 L32.7,408.0 L32.9,405.0 L33.0,402.0 L33.2,399.0 L33.2,396.0 L33.1,393.0 L33.1,390.0 L33.0,387.0 L33.0,384.0 L32.9,381.0 L32.9,378.0 L32.8,375.0 L32.7,372.0 L32.7,369.0 L32.6,366.0 L32.6,363.0 L32.5,360.0 L32.4,357.0 L32.3,354.0 L32.2,351.0 L32.1,348.0Z" fill="#8ea626" fill-opacity="0.6"/>
<ellipse cx="31.2" cy="348.1" rx="0.85" ry="1.8" fill="#c8d034" transform="rotate(18 31.2 348.1)"/>
<ellipse cx="31.4" cy="350.1" rx="0.85" ry="1.8" fill="#c4cc2e" transform="rotate(18 31.4 350.1)"/>
<ellipse cx="31.4" cy="352.0" rx="0.85" ry="1.8" fill="#dcdc44" transform="rotate(22 31.4 352.0)"/>
<ellipse cx="31.4" cy="354.5" rx="0.85" ry="1.8" fill="#5e8a20" transform="rotate(-5 31.4 354.5)"/>
<ellipse cx="32.4" cy="355.4" rx="0.85" ry="1.8" fill="#aebc2a" transform="rotate(16 32.4 355.4)"/>
<ellipse cx="31.5" cy="358.2" rx="0.85" ry="1.8" fill="#d4d838" transform="rotate(-15 31.5 358.2)"/>
<ellipse cx="32.9" cy="359.0" rx="0.85" ry="1.8" fill="#c4cc2e" transform="rotate(14 32.9 359.0)"/>
<ellipse cx="30.5" cy="361.9" rx="0.85" ry="1.8" fill="#86a024" transform="rotate(9 30.5 361.9)"/>
<ellipse cx="32.9" cy="361.5" rx="0.85" ry="1.8" fill="#5e8a20" transform="rotate(20 32.9 361.5)"/>
<ellipse cx="29.9" cy="363.5" rx="0.85" ry="1.8" fill="#c4cc2e" transform="rotate(-16 29.9 363.5)"/>
<ellipse cx="30.2" cy="364.5" rx="0.85" ry="1.8" fill="#86a024" transform="rotate(12 30.2 364.5)"/>
<ellipse cx="32.8" cy="365.5" rx="0.85" ry="1.8" fill="#86a024" transform="rotate(3 32.8 365.5)"/>
<ellipse cx="31.5" cy="365.5" rx="0.85" ry="1.8" fill="#dcdc44" transform="rotate(18 31.5 365.5)"/>
<ellipse cx="32.1" cy="368.4" rx="0.85" ry="1.8" fill="#9cae26" transform="rotate(22 32.1 368.4)"/>
<ellipse cx="32.1" cy="367.0" rx="0.85" ry="1.8" fill="#c8d034" transform="rotate(20 32.1 367.0)"/>
<ellipse cx="33.2" cy="369.7" rx="0.85" ry="1.8" fill="#dcdc44" transform="rotate(6 33.2 369.7)"/>
<ellipse cx="33.6" cy="369.2" rx="0.85" ry="1.8" fill="#d4d838" transform="rotate(-19 33.6 369.2)"/>
<ellipse cx="33.1" cy="372.4" rx="0.85" ry="1.8" fill="#d4d838" transform="rotate(-7 33.1 372.4)"/>
<ellipse cx="29.0" cy="372.3" rx="0.85" ry="1.8" fill="#c4cc2e" transform="rotate(-9 29.0 372.3)"/>
<ellipse cx="32.7" cy="374.2" rx="0.85" ry="1.8" fill="#c4cc2e" transform="rotate(5 32.7 374.2)"/>
<ellipse cx="32.7" cy="373.3" rx="0.85" ry="1.8" fill="#c8d034" transform="rotate(2 32.7 373.3)"/>
<ellipse cx="33.6" cy="375.1" rx="0.85" ry="1.8" fill="#dcdc44" transform="rotate(22 33.6 375.1)"/>
<ellipse cx="30.1" cy="374.7" rx="0.85" ry="1.8" fill="#c4cc2e" transform="rotate(20 30.1 374.7)"/>
<ellipse cx="34.0" cy="377.1" rx="0.85" ry="1.8" fill="#9cae26" transform="rotate(-15 34.0 377.1)"/>
<ellipse cx="28.5" cy="378.1" rx="0.85" ry="1.8" fill="#c8d034" transform="rotate(-6 28.5 378.1)"/>
<ellipse cx="29.0" cy="380.0" rx="0.85" ry="1.8" fill="#86a024" transform="rotate(-2 29.0 380.0)"/>
<ellipse cx="31.3" cy="379.7" rx="0.85" ry="1.8" fill="#d4d838" transform="rotate(5 31.3 379.7)"/>
<ellipse cx="34.0" cy="381.4" rx="0.85" ry="1.8" fill="#86a024" transform="rotate(6 34.0 381.4)"/>
<ellipse cx="32.6" cy="382.1" rx="0.85" ry="1.8" fill="#86a024" transform="rotate(21 32.6 382.1)"/>
<ellipse cx="31.3" cy="383.4" rx="0.85" ry="1.8" fill="#c4cc2e" transform="rotate(13 31.3 383.4)"/>
<ellipse cx="34.4" cy="383.0" rx="0.85" ry="1.8" fill="#86a024" transform="rotate(5 34.4 383.0)"/>
<ellipse cx="32.0" cy="384.5" rx="0.85" ry="1.8" fill="#c8d034" transform="rotate(-1 32.0 384.5)"/>
<ellipse cx="32.4" cy="385.0" rx="0.85" ry="1.8" fill="#9cae26" transform="rotate(10 32.4 385.0)"/>
<ellipse cx="27.7" cy="386.5" rx="0.85" ry="1.8" fill="#c4cc2e" transform="rotate(20 27.7 386.5)"/>
<ellipse cx="29.3" cy="387.2" rx="0.85" ry="1.8" fill="#c8d034" transform="rotate(-14 29.3 387.2)"/>
<ellipse cx="28.8" cy="389.7" rx="0.85" ry="1.8" fill="#9cae26" transform="rotate(-9 28.8 389.7)"/>
<ellipse cx="30.2" cy="389.7" rx="0.85" ry="1.8" fill="#c4cc2e" transform="rotate(21 30.2 389.7)"/>
<ellipse cx="32.5" cy="390.5" rx="0.85" ry="1.8" fill="#dcdc44" transform="rotate(7 32.5 390.5)"/>
<ellipse cx="29.3" cy="390.9" rx="0.85" ry="1.8" fill="#86a024" transform="rotate(7 29.3 390.9)"/>
<ellipse cx="27.9" cy="393.3" rx="0.85" ry="1.8" fill="#c8d034" transform="rotate(8 27.9 393.3)"/>
<ellipse cx="28.9" cy="393.7" rx="0.85" ry="1.8" fill="#aebc2a" transform="rotate(-18 28.9 393.7)"/>
<ellipse cx="33.0" cy="394.6" rx="0.85" ry="1.8" fill="#5e8a20" transform="rotate(-10 33.0 394.6)"/>
<ellipse cx="33.4" cy="394.3" rx="0.85" ry="1.8" fill="#dcdc44" transform="rotate(-8 33.4 394.3)"/>
<ellipse cx="33.8" cy="397.2" rx="0.85" ry="1.8" fill="#9cae26" transform="rotate(-7 33.8 397.2)"/>
<ellipse cx="33.8" cy="396.3" rx="0.85" ry="1.8" fill="#c8d034" transform="rotate(4 33.8 396.3)"/>
<ellipse cx="30.3" cy="399.1" rx="0.85" ry="1.8" fill="#9cae26" transform="rotate(-2 30.3 399.1)"/>
<ellipse cx="32.1" cy="398.6" rx="0.85" ry="1.8" fill="#86a024" transform="rotate(-20 32.1 398.6)"/>
<ellipse cx="30.2" cy="400.4" rx="0.85" ry="1.8" fill="#5e8a20" transform="rotate(20 30.2 400.4)"/>
<ellipse cx="34.1" cy="401.9" rx="0.85" ry="1.8" fill="#86a024" transform="rotate(3 34.1 401.9)"/>
<ellipse cx="34.8" cy="403.3" rx="0.85" ry="1.8" fill="#c4cc2e" transform="rotate(11 34.8 403.3)"/>
<ellipse cx="33.6" cy="403.2" rx="0.85" ry="1.8" fill="#9cae26" transform="rotate(2 33.6 403.2)"/>
<ellipse cx="33.9" cy="405.6" rx="0.85" ry="1.8" fill="#9cae26" transform="rotate(-17 33.9 405.6)"/>
<ellipse cx="28.8" cy="404.1" rx="0.85" ry="1.8" fill="#dcdc44" transform="rotate(17 28.8 404.1)"/>
<ellipse cx="33.8" cy="407.0" rx="0.85" ry="1.8" fill="#c4cc2e" transform="rotate(-1 33.8 407.0)"/>
<ellipse cx="27.9" cy="406.9" rx="0.85" ry="1.8" fill="#dcdc44" transform="rotate(7 27.9 406.9)"/>
<ellipse cx="30.9" cy="408.7" rx="0.85" ry="1.8" fill="#d4d838" transform="rotate(-7 30.9 408.7)"/>
<ellipse cx="28.9" cy="409.5" rx="0.85" ry="1.8" fill="#5e8a20" transform="rotate(14 28.9 409.5)"/>
<ellipse cx="27.5" cy="410.3" rx="0.85" ry="1.8" fill="#d4d838" transform="rotate(2 27.5 410.3)"/>
<ellipse cx="32.9" cy="410.2" rx="0.85" ry="1.8" fill="#9cae26" transform="rotate(19 32.9 410.2)"/>
<ellipse cx="32.7" cy="413.3" rx="0.85" ry="1.8" fill="#c4cc2e" transform="rotate(-1 32.7 413.3)"/>
<ellipse cx="31.1" cy="412.6" rx="0.85" ry="1.8" fill="#9cae26" transform="rotate(-11 31.1 412.6)"/>
<ellipse cx="31.4" cy="414.8" rx="0.85" ry="1.8" fill="#c4cc2e" transform="rotate(-1 31.4 414.8)"/>
<ellipse cx="32.4" cy="413.8" rx="0.85" ry="1.8" fill="#c4cc2e" transform="rotate(12 32.4 413.8)"/>
<ellipse cx="27.6" cy="415.9" rx="0.85" ry="1.8" fill="#5e8a20" transform="rotate(21 27.6 415.9)"/>
<ellipse cx="32.8" cy="415.9" rx="0.85" ry="1.8" fill="#5e8a20" transform="rotate(-8 32.8 415.9)"/>
<ellipse cx="29.3" cy="418.4" rx="0.85" ry="1.8" fill="#86a024" transform="rotate(4 29.3 418.4)"/>
<ellipse cx="29.6" cy="418.1" rx="0.85" ry="1.8" fill="#c8d034" transform="rotate(-3 29.6 418.1)"/>
<ellipse cx="28.2" cy="419.7" rx="0.85" ry="1.8" fill="#86a024" transform="rotate(13 28.2 419.7)"/>
<ellipse cx="30.8" cy="419.8" rx="0.85" ry="1.8" fill="#5e8a20" transform="rotate(5 30.8 419.8)"/>
<ellipse cx="32.0" cy="422.4" rx="0.85" ry="1.8" fill="#c4cc2e" transform="rotate(5 32.0 422.4)"/>
<ellipse cx="30.0" cy="422.3" rx="0.85" ry="1.8" fill="#5e8a20" transform="rotate(11 30.0 422.3)"/>
<ellipse cx="29.3" cy="425.3" rx="0.85" ry="1.8" fill="#86a024" transform="rotate(-2 29.3 425.3)"/>
<ellipse cx="28.9" cy="424.6" rx="0.85" ry="1.8" fill="#d4d838" transform="rotate(13 28.9 424.6)"/>
<ellipse cx="28.8" cy="425.8" rx="0.85" ry="1.8" fill="#c4cc2e" transform="rotate(19 28.8 425.8)"/>
<ellipse cx="29.6" cy="427.2" rx="0.85" ry="1.8" fill="#9cae26" transform="rotate(-17 29.6 427.2)"/>
<ellipse cx="31.1" cy="429.2" rx="0.85" ry="1.8" fill="#86a024" transform="rotate(7 31.1 429.2)"/>
<ellipse cx="31.3" cy="428.6" rx="0.85" ry="1.8" fill="#d4d838" transform="rotate(14 31.3 428.6)"/>
<ellipse cx="31.1" cy="430.4" rx="0.85" ry="1.8" fill="#dcdc44" transform="rotate(12 31.1 430.4)"/>
<ellipse cx="28.1" cy="429.7" rx="0.85" ry="1.8" fill="#d4d838" transform="rotate(7 28.1 429.7)"/>
<ellipse cx="29.6" cy="433.0" rx="0.85" ry="1.8" fill="#c8d034" transform="rotate(15 29.6 433.0)"/>
<ellipse cx="28.5" cy="433.0" rx="0.85" ry="1.8" fill="#5e8a20" transform="rotate(15 28.5 433.0)"/>
<ellipse cx="31.8" cy="434.5" rx="0.85" ry="1.8" fill="#d4d838" transform="rotate(-20 31.8 434.5)"/>
<ellipse cx="31.1" cy="434.4" rx="0.85" ry="1.8" fill="#dcdc44" transform="rotate(-17 31.1 434.4)"/>
<ellipse cx="30.9" cy="437.1" rx="0.85" ry="1.8" fill="#c4cc2e" transform="rotate(2 30.9 437.1)"/>
<ellipse cx="31.3" cy="435.7" rx="0.85" ry="1.8" fill="#d4d838" transform="rotate(-11 31.3 435.7)"/>
<ellipse cx="28.9" cy="437.8" rx="0.85" ry="1.8" fill="#86a024" transform="rotate(-11 28.9 437.8)"/>
<ellipse cx="30.2" cy="441.0" rx="0.85" ry="1.8" fill="#86a024" transform="rotate(21 30.2 441.0)"/>
<ellipse cx="29.5" cy="441.7" rx="0.85" ry="1.8" fill="#86a024" transform="rotate(15 29.5 441.7)"/>
<ellipse cx="30.9" cy="444.0" rx="0.85" ry="1.8" fill="#5e8a20" transform="rotate(-15 30.9 444.0)"/>
<ellipse cx="29.5" cy="446.8" rx="0.85" ry="1.8" fill="#aebc2a" transform="rotate(-18 29.5 446.8)"/>
<ellipse cx="30.1" cy="448.8" rx="0.85" ry="1.8" fill="#5e8a20" transform="rotate(4 30.1 448.8)"/>
<ellipse cx="30.2" cy="449.4" rx="0.85" ry="1.8" fill="#dcdc44" transform="rotate(-16 30.2 449.4)"/>
<ellipse cx="29.6" cy="452.8" rx="0.85" ry="1.8" fill="#9cae26" transform="rotate(8 29.6 452.8)"/>
<path d="M82.8,462.5 L82.8,398 L81.6,368.5" fill="none" stroke="#6e9420" stroke-width="1.2"/>
<path d="M81.1,366.5 L80.9,369.5 L80.9,372.5 L80.9,375.5 L80.8,378.5 L80.8,381.5 L80.8,384.5 L80.8,387.5 L80.8,390.5 L80.8,393.5 L80.8,396.5 L80.8,399.5 L80.9,402.5 L80.9,405.5 L81.0,408.5 L81.1,411.5 L81.1,414.5 L81.2,417.5 L81.3,420.5 L81.4,423.5 L81.4,426.5 L81.5,429.5 L81.6,432.5 L81.7,435.5 L81.8,438.5 L81.9,441.5 L82.0,444.5 L82.1,447.5 L82.1,450.5 L83.5,450.5 L83.5,447.5 L83.6,444.5 L83.7,441.5 L83.8,438.5 L83.9,435.5 L84.0,432.5 L84.1,429.5 L84.2,426.5 L84.2,423.5 L84.3,420.5 L84.4,417.5 L84.5,414.5 L84.5,411.5 L84.6,408.5 L84.7,405.5 L84.7,402.5 L84.8,399.5 L84.7,396.5 L84.5,393.5 L84.2,390.5 L84.0,387.5 L83.8,384.5 L83.5,381.5 L83.3,378.5 L83.0,375.5 L82.8,372.5 L82.5,369.5 L82.1,366.5Z" fill="#8ea626" fill-opacity="0.6"/>
<ellipse cx="81.9" cy="366.7" rx="0.85" ry="1.8" fill="#9cae26" transform="rotate(17 81.9 366.7)"/>
<ellipse cx="81.4" cy="368.0" rx="0.85" ry="1.8" fill="#86a024" transform="rotate(-13 81.4 368.0)"/>
<ellipse cx="81.9" cy="370.0" rx="0.85" ry="1.8" fill="#5e8a20" transform="rotate(12 81.9 370.0)"/>
<ellipse cx="80.9" cy="373.3" rx="0.85" ry="1.8" fill="#5e8a20" transform="rotate(9 80.9 373.3)"/>
<ellipse cx="81.0" cy="374.5" rx="0.85" ry="1.8" fill="#c4cc2e" transform="rotate(-1 81.0 374.5)"/>
<ellipse cx="82.7" cy="377.0" rx="0.85" ry="1.8" fill="#86a024" transform="rotate(12 82.7 377.0)"/>
<ellipse cx="83.5" cy="377.5" rx="0.85" ry="1.8" fill="#dcdc44" transform="rotate(17 83.5 377.5)"/>
<ellipse cx="82.6" cy="378.8" rx="0.85" ry="1.8" fill="#d4d838" transform="rotate(20 82.6 378.8)"/>
<ellipse cx="83.6" cy="379.8" rx="0.85" ry="1.8" fill="#dcdc44" transform="rotate(12 83.6 379.8)"/>
<ellipse cx="80.6" cy="380.5" rx="0.85" ry="1.8" fill="#c4cc2e" transform="rotate(18 80.6 380.5)"/>
<ellipse cx="81.1" cy="382.9" rx="0.85" ry="1.8" fill="#c8d034" transform="rotate(-14 81.1 382.9)"/>
<ellipse cx="80.3" cy="382.8" rx="0.85" ry="1.8" fill="#d4d838" transform="rotate(-18 80.3 382.8)"/>
<ellipse cx="84.0" cy="383.8" rx="0.85" ry="1.8" fill="#c8d034" transform="rotate(-2 84.0 383.8)"/>
<ellipse cx="83.5" cy="383.9" rx="0.85" ry="1.8" fill="#c4cc2e" transform="rotate(-7 83.5 383.9)"/>
<ellipse cx="82.0" cy="386.1" rx="0.85" ry="1.8" fill="#dcdc44" transform="rotate(6 82.0 386.1)"/>
<ellipse cx="83.7" cy="386.1" rx="0.85" ry="1.8" fill="#aebc2a" transform="rotate(2 83.7 386.1)"/>
<ellipse cx="80.2" cy="387.7" rx="0.85" ry="1.8" fill="#86a024" transform="rotate(-17 80.2 387.7)"/>
<ellipse cx="84.7" cy="388.9" rx="0.85" ry="1.8" fill="#d4d838" transform="rotate(1 84.7 388.9)"/>
<ellipse cx="83.7" cy="390.4" rx="0.85" ry="1.8" fill="#c8d034" transform="rotate(11 83.7 390.4)"/>
<ellipse cx="81.2" cy="390.4" rx="0.85" ry="1.8" fill="#9cae26" transform="rotate(-17 81.2 390.4)"/>
<ellipse cx="85.5" cy="391.8" rx="0.85" ry="1.8" fill="#d4d838" transform="rotate(7 85.5 391.8)"/>
<ellipse cx="82.6" cy="391.3" rx="0.85" ry="1.8" fill="#9cae26" transform="rotate(8 82.6 391.3)"/>
<ellipse cx="83.1" cy="393.5" rx="0.85" ry="1.8" fill="#aebc2a" transform="rotate(-14 83.1 393.5)"/>
<ellipse cx="85.3" cy="394.3" rx="0.85" ry="1.8" fill="#d4d838" transform="rotate(-17 85.3 394.3)"/>
<ellipse cx="83.2" cy="396.7" rx="0.85" ry="1.8" fill="#86a024" transform="rotate(2 83.2 396.7)"/>
<ellipse cx="83.8" cy="395.9" rx="0.85" ry="1.8" fill="#9cae26" transform="rotate(12 83.8 395.9)"/>
<ellipse cx="84.3" cy="397.2" rx="0.85" ry="1.8" fill="#aebc2a" transform="rotate(11 84.3 397.2)"/>
<ellipse cx="83.1" cy="398.4" rx="0.85" ry="1.8" fill="#c8d034" transform="rotate(-18 83.1 398.4)"/>
<ellipse cx="81.1" cy="399.1" rx="0.85" ry="1.8" fill="#aebc2a" transform="rotate(-20 81.1 399.1)"/>
<ellipse cx="82.8" cy="399.5" rx="0.85" ry="1.8" fill="#c8d034" transform="rotate(17 82.8 399.5)"/>
<ellipse cx="86.0" cy="401.8" rx="0.85" ry="1.8" fill="#d4d838" transform="rotate(-6 86.0 401.8)"/>
<ellipse cx="85.3" cy="401.2" rx="0.85" ry="1.8" fill="#9cae26" transform="rotate(4 85.3 401.2)"/>
<ellipse cx="84.1" cy="404.0" rx="0.85" ry="1.8" fill="#d4d838" transform="rotate(-14 84.1 404.0)"/>
<ellipse cx="80.6" cy="403.7" rx="0.85" ry="1.8" fill="#86a024" transform="rotate(14 80.6 403.7)"/>
<ellipse cx="84.5" cy="406.0" rx="0.85" ry="1.8" fill="#aebc2a" transform="rotate(16 84.5 406.0)"/>
<ellipse cx="84.9" cy="405.9" rx="0.85" ry="1.8" fill="#aebc2a" transform="rotate(3 84.9 405.9)"/>
<ellipse cx="80.8" cy="407.3" rx="0.85" ry="1.8" fill="#9cae26" transform="rotate(-21 80.8 407.3)"/>
<ellipse cx="84.8" cy="408.5" rx="0.85" ry="1.8" fill="#86a024" transform="rotate(-8 84.8 408.5)"/>
<ellipse cx="85.4" cy="409.4" rx="0.85" ry="1.8" fill="#5e8a20" transform="rotate(21 85.4 409.4)"/>
<ellipse cx="84.0" cy="409.4" rx="0.85" ry="1.8" fill="#5e8a20" transform="rotate(-21 84.0 409.4)"/>
<ellipse cx="80.9" cy="412.0" rx="0.85" ry="1.8" fill="#d4d838" transform="rotate(12 80.9 412.0)"/>
<ellipse cx="83.8" cy="411.7" rx="0.85" ry="1.8" fill="#5e8a20" transform="rotate(-13 83.8 411.7)"/>
<ellipse cx="84.5" cy="413.2" rx="0.85" ry="1.8" fill="#5e8a20" transform="rotate(-17 84.5 413.2)"/>
<ellipse cx="81.5" cy="414.0" rx="0.85" ry="1.8" fill="#aebc2a" transform="rotate(-16 81.5 414.0)"/>
<ellipse cx="84.5" cy="415.9" rx="0.85" ry="1.8" fill="#c4cc2e" transform="rotate(-21 84.5 415.9)"/>
<ellipse cx="83.5" cy="415.7" rx="0.85" ry="1.8" fill="#5e8a20" transform="rotate(2 83.5 415.7)"/>
<ellipse cx="85.2" cy="417.3" rx="0.85" ry="1.8" fill="#c8d034" transform="rotate(9 85.2 417.3)"/>
<ellipse cx="80.7" cy="418.3" rx="0.85" ry="1.8" fill="#c4cc2e" transform="rotate(10 80.7 418.3)"/>
<ellipse cx="84.1" cy="419.3" rx="0.85" ry="1.8" fill="#dcdc44" transform="rotate(19 84.1 419.3)"/>
<ellipse cx="84.8" cy="419.5" rx="0.85" ry="1.8" fill="#dcdc44" transform="rotate(-1 84.8 419.5)"/>
<ellipse cx="80.8" cy="420.7" rx="0.85" ry="1.8" fill="#d4d838" transform="rotate(15 80.8 420.7)"/>
<ellipse cx="83.9" cy="421.4" rx="0.85" ry="1.8" fill="#5e8a20" transform="rotate(9 83.9 421.4)"/>
<ellipse cx="83.0" cy="423.4" rx="0.85" ry="1.8" fill="#5e8a20" transform="rotate(-9 83.0 423.4)"/>
<ellipse cx="82.6" cy="424.0" rx="0.85" ry="1.8" fill="#86a024" transform="rotate(-3 82.6 424.0)"/>
<ellipse cx="82.6" cy="424.6" rx="0.85" ry="1.8" fill="#9cae26" transform="rotate(-6 82.6 424.6)"/>
<ellipse cx="82.2" cy="425.5" rx="0.85" ry="1.8" fill="#86a024" transform="rotate(-12 82.2 425.5)"/>
<ellipse cx="80.6" cy="426.9" rx="0.85" ry="1.8" fill="#c8d034" transform="rotate(-16 80.6 426.9)"/>
<ellipse cx="82.6" cy="426.9" rx="0.85" ry="1.8" fill="#dcdc44" transform="rotate(-21 82.6 426.9)"/>
<ellipse cx="83.2" cy="429.4" rx="0.85" ry="1.8" fill="#c4cc2e" transform="rotate(-16 83.2 429.4)"/>
<ellipse cx="83.3" cy="429.3" rx="0.85" ry="1.8" fill="#aebc2a" transform="rotate(-19 83.3 429.3)"/>
<ellipse cx="80.9" cy="431.3" rx="0.85" ry="1.8" fill="#86a024" transform="rotate(-21 80.9 431.3)"/>
<ellipse cx="83.6" cy="430.9" rx="0.85" ry="1.8" fill="#c4cc2e" transform="rotate(-5 83.6 430.9)"/>
<ellipse cx="81.0" cy="434.2" rx="0.85" ry="1.8" fill="#dcdc44" transform="rotate(-11 81.0 434.2)"/>
<ellipse cx="82.4" cy="432.8" rx="0.85" ry="1.8" fill="#c8d034" transform="rotate(5 82.4 432.8)"/>
<ellipse cx="82.3" cy="434.6" rx="0.85" ry="1.8" fill="#c4cc2e" transform="rotate(14 82.3 434.6)"/>
<ellipse cx="82.1" cy="438.1" rx="0.85" ry="1.8" fill="#5e8a20" transform="rotate(13 82.1 438.1)"/>
<ellipse cx="84.2" cy="439.2" rx="0.85" ry="1.8" fill="#9cae26" transform="rotate(-21 84.2 439.2)"/>
<ellipse cx="82.4" cy="442.1" rx="0.85" ry="1.8" fill="#c8d034" transform="rotate(-18 82.4 442.1)"/>
<ellipse cx="83.2" cy="444.0" rx="0.85" ry="1.8" fill="#c4cc2e" transform="rotate(-17 83.2 444.0)"/>
<ellipse cx="83.2" cy="444.3" rx="0.85" ry="1.8" fill="#c4cc2e" transform="rotate(-1 83.2 444.3)"/>
<ellipse cx="82.2" cy="447.1" rx="0.85" ry="1.8" fill="#c8d034" transform="rotate(-13 82.2 447.1)"/>
<ellipse cx="83.6" cy="449.0" rx="0.85" ry="1.8" fill="#5e8a20" transform="rotate(18 83.6 449.0)"/>
<ellipse cx="83.4" cy="450.2" rx="0.85" ry="1.8" fill="#9cae26" transform="rotate(11 83.4 450.2)"/>
<ellipse cx="82.9" cy="452.8" rx="0.85" ry="1.8" fill="#9cae26" transform="rotate(-14 82.9 452.8)"/>
<path d="M137.6,462.5 L136.9,410 L135.0,379" fill="none" stroke="#6e9420" stroke-width="1.2"/>
<path d="M134.5,377.0 L134.4,380.0 L134.5,383.0 L134.5,386.0 L134.6,389.0 L134.6,392.0 L134.7,395.0 L134.7,398.0 L134.8,401.0 L134.9,404.0 L134.9,407.0 L135.0,410.0 L135.1,413.0 L135.2,416.0 L135.3,419.0 L135.5,422.0 L135.6,425.0 L135.7,428.0 L135.9,431.0 L136.0,434.0 L136.1,437.0 L136.3,440.0 L136.4,443.0 L136.6,446.0 L136.7,449.0 L136.9,452.0 L138.0,452.0 L138.1,449.0 L138.2,446.0 L138.2,443.0 L138.3,440.0 L138.4,437.0 L138.4,434.0 L138.5,431.0 L138.6,428.0 L138.6,425.0 L138.7,422.0 L138.7,419.0 L138.7,416.0 L138.8,413.0 L138.8,410.0 L138.5,407.0 L138.2,404.0 L138.0,401.0 L137.7,398.0 L137.4,395.0 L137.1,392.0 L136.8,389.0 L136.5,386.0 L136.2,383.0 L135.9,380.0 L135.5,377.0Z" fill="#8ea626" fill-opacity="0.6"/>
<ellipse cx="134.9" cy="377.0" rx="0.85" ry="1.8" fill="#c8d034" transform="rotate(2 134.9 377.0)"/>
<ellipse cx="135.5" cy="378.8" rx="0.85" ry="1.8" fill="#86a024" transform="rotate(15 135.5 378.8)"/>
<ellipse cx="135.3" cy="381.7" rx="0.85" ry="1.8" fill="#c8d034" transform="rotate(13 135.3 381.7)"/>
<ellipse cx="135.2" cy="382.8" rx="0.85" ry="1.8" fill="#5e8a20" transform="rotate(-7 135.2 382.8)"/>
<ellipse cx="136.4" cy="384.9" rx="0.85" ry="1.8" fill="#86a024" transform="rotate(20 136.4 384.9)"/>
<ellipse cx="134.1" cy="386.3" rx="0.85" ry="1.8" fill="#c4cc2e" transform="rotate(14 134.1 386.3)"/>
<ellipse cx="134.2" cy="389.2" rx="0.85" ry="1.8" fill="#d4d838" transform="rotate(-8 134.2 389.2)"/>
<ellipse cx="136.0" cy="389.4" rx="0.85" ry="1.8" fill="#c4cc2e" transform="rotate(17 136.0 389.4)"/>
<ellipse cx="137.3" cy="390.7" rx="0.85" ry="1.8" fill="#c8d034" transform="rotate(22 137.3 390.7)"/>
<ellipse cx="133.8" cy="390.3" rx="0.85" ry="1.8" fill="#d4d838" transform="rotate(-7 133.8 390.3)"/>
<ellipse cx="135.1" cy="392.7" rx="0.85" ry="1.8" fill="#dcdc44" transform="rotate(-11 135.1 392.7)"/>
<ellipse cx="134.0" cy="392.2" rx="0.85" ry="1.8" fill="#aebc2a" transform="rotate(4 134.0 392.2)"/>
<ellipse cx="133.8" cy="394.3" rx="0.85" ry="1.8" fill="#dcdc44" transform="rotate(-12 133.8 394.3)"/>
<ellipse cx="136.3" cy="394.6" rx="0.85" ry="1.8" fill="#c8d034" transform="rotate(13 136.3 394.6)"/>
<ellipse cx="136.3" cy="396.2" rx="0.85" ry="1.8" fill="#aebc2a" transform="rotate(5 136.3 396.2)"/>
<ellipse cx="133.9" cy="397.3" rx="0.85" ry="1.8" fill="#c4cc2e" transform="rotate(16 133.9 397.3)"/>
<ellipse cx="134.2" cy="399.5" rx="0.85" ry="1.8" fill="#9cae26" transform="rotate(-18 134.2 399.5)"/>
<ellipse cx="136.1" cy="398.2" rx="0.85" ry="1.8" fill="#d4d838" transform="rotate(6 136.1 398.2)"/>
<ellipse cx="137.8" cy="401.4" rx="0.85" ry="1.8" fill="#c8d034" transform="rotate(-4 137.8 401.4)"/>
<ellipse cx="137.3" cy="401.2" rx="0.85" ry="1.8" fill="#9cae26" transform="rotate(15 137.3 401.2)"/>
<ellipse cx="137.0" cy="403.2" rx="0.85" ry="1.8" fill="#dcdc44" transform="rotate(-17 137.0 403.2)"/>
<ellipse cx="133.6" cy="402.3" rx="0.85" ry="1.8" fill="#d4d838" transform="rotate(-7 133.6 402.3)"/>
<ellipse cx="134.7" cy="405.1" rx="0.85" ry="1.8" fill="#c8d034" transform="rotate(-3 134.7 405.1)"/>
<ellipse cx="137.5" cy="404.8" rx="0.85" ry="1.8" fill="#dcdc44" transform="rotate(-11 137.5 404.8)"/>
<ellipse cx="138.9" cy="405.8" rx="0.85" ry="1.8" fill="#dcdc44" transform="rotate(-3 138.9 405.8)"/>
<ellipse cx="134.0" cy="406.1" rx="0.85" ry="1.8" fill="#aebc2a" transform="rotate(11 134.0 406.1)"/>
<ellipse cx="134.8" cy="408.1" rx="0.85" ry="1.8" fill="#5e8a20" transform="rotate(19 134.8 408.1)"/>
<ellipse cx="137.1" cy="408.4" rx="0.85" ry="1.8" fill="#dcdc44" transform="rotate(18 137.1 408.4)"/>
<ellipse cx="140.0" cy="410.5" rx="0.85" ry="1.8" fill="#86a024" transform="rotate(-1 140.0 410.5)"/>
<ellipse cx="137.5" cy="409.7" rx="0.85" ry="1.8" fill="#c4cc2e" transform="rotate(-14 137.5 409.7)"/>
<ellipse cx="134.2" cy="412.9" rx="0.85" ry="1.8" fill="#9cae26" transform="rotate(0 134.2 412.9)"/>
<ellipse cx="134.0" cy="412.5" rx="0.85" ry="1.8" fill="#dcdc44" transform="rotate(11 134.0 412.5)"/>
<ellipse cx="135.5" cy="414.4" rx="0.85" ry="1.8" fill="#c8d034" transform="rotate(-1 135.5 414.4)"/>
<ellipse cx="135.0" cy="415.0" rx="0.85" ry="1.8" fill="#aebc2a" transform="rotate(-17 135.0 415.0)"/>
<ellipse cx="135.7" cy="416.3" rx="0.85" ry="1.8" fill="#d4d838" transform="rotate(-13 135.7 416.3)"/>
<ellipse cx="136.9" cy="417.0" rx="0.85" ry="1.8" fill="#9cae26" transform="rotate(21 136.9 417.0)"/>
<ellipse cx="139.9" cy="419.1" rx="0.85" ry="1.8" fill="#c8d034" transform="rotate(19 139.9 419.1)"/>
<ellipse cx="136.6" cy="419.2" rx="0.85" ry="1.8" fill="#5e8a20" transform="rotate(1 136.6 419.2)"/>
<ellipse cx="137.3" cy="420.2" rx="0.85" ry="1.8" fill="#9cae26" transform="rotate(-9 137.3 420.2)"/>
<ellipse cx="136.8" cy="421.1" rx="0.85" ry="1.8" fill="#9cae26" transform="rotate(11 136.8 421.1)"/>
<ellipse cx="139.5" cy="422.4" rx="0.85" ry="1.8" fill="#c4cc2e" transform="rotate(-16 139.5 422.4)"/>
<ellipse cx="137.2" cy="422.5" rx="0.85" ry="1.8" fill="#aebc2a" transform="rotate(20 137.2 422.5)"/>
<ellipse cx="134.4" cy="425.2" rx="0.85" ry="1.8" fill="#5e8a20" transform="rotate(-6 134.4 425.2)"/>
<ellipse cx="139.6" cy="424.1" rx="0.85" ry="1.8" fill="#c4cc2e" transform="rotate(-0 139.6 424.1)"/>
<ellipse cx="135.8" cy="425.9" rx="0.85" ry="1.8" fill="#c8d034" transform="rotate(15 135.8 425.9)"/>
<ellipse cx="137.6" cy="426.9" rx="0.85" ry="1.8" fill="#5e8a20" transform="rotate(-8 137.6 426.9)"/>
<ellipse cx="135.9" cy="428.9" rx="0.85" ry="1.8" fill="#86a024" transform="rotate(10 135.9 428.9)"/>
<ellipse cx="136.4" cy="427.5" rx="0.85" ry="1.8" fill="#c4cc2e" transform="rotate(6 136.4 427.5)"/>
<ellipse cx="138.0" cy="431.0" rx="0.85" ry="1.8" fill="#dcdc44" transform="rotate(20 138.0 431.0)"/>
<ellipse cx="138.3" cy="430.9" rx="0.85" ry="1.8" fill="#86a024" transform="rotate(0 138.3 430.9)"/>
<ellipse cx="138.6" cy="432.4" rx="0.85" ry="1.8" fill="#9cae26" transform="rotate(-21 138.6 432.4)"/>
<ellipse cx="135.3" cy="432.2" rx="0.85" ry="1.8" fill="#c4cc2e" transform="rotate(17 135.3 432.2)"/>
<ellipse cx="138.8" cy="434.2" rx="0.85" ry="1.8" fill="#86a024" transform="rotate(-6 138.8 434.2)"/>
<ellipse cx="137.7" cy="433.9" rx="0.85" ry="1.8" fill="#d4d838" transform="rotate(8 137.7 433.9)"/>
<ellipse cx="139.0" cy="436.3" rx="0.85" ry="1.8" fill="#86a024" transform="rotate(12 139.0 436.3)"/>
<ellipse cx="137.0" cy="435.8" rx="0.85" ry="1.8" fill="#9cae26" transform="rotate(-2 137.0 435.8)"/>
<ellipse cx="138.8" cy="437.6" rx="0.85" ry="1.8" fill="#c8d034" transform="rotate(-16 138.8 437.6)"/>
<ellipse cx="135.9" cy="440.1" rx="0.85" ry="1.8" fill="#dcdc44" transform="rotate(14 135.9 440.1)"/>
<ellipse cx="138.5" cy="442.3" rx="0.85" ry="1.8" fill="#c4cc2e" transform="rotate(-8 138.5 442.3)"/>
<ellipse cx="137.6" cy="443.4" rx="0.85" ry="1.8" fill="#aebc2a" transform="rotate(-10 137.6 443.4)"/>
<ellipse cx="137.8" cy="446.8" rx="0.85" ry="1.8" fill="#d4d838" transform="rotate(-3 137.8 446.8)"/>
<ellipse cx="136.7" cy="447.2" rx="0.85" ry="1.8" fill="#5e8a20" transform="rotate(17 136.7 447.2)"/>
<ellipse cx="138.0" cy="450.3" rx="0.85" ry="1.8" fill="#dcdc44" transform="rotate(-8 138.0 450.3)"/>
<ellipse cx="137.3" cy="452.3" rx="0.85" ry="1.8" fill="#86a024" transform="rotate(-8 137.3 452.3)"/>
</g>
<line x1="185.9" y1="424.3" x2="185.9" y2="460.3" stroke="#fff" stroke-width="1"/>
<text transform="translate(190.6,432.8) rotate(90)" font-size="9.2" fill="#fff">5cm</text>
</g>
<text x="1.00" y="16.60" font-size="22" font-weight="bold" text-anchor="start" fill="#000">A</text>
<text x="207.30" y="16.60" font-size="22" font-weight="bold" text-anchor="start" fill="#000">B</text>
<text x="492.80" y="16.80" font-size="22" font-weight="bold" text-anchor="start" fill="#000">C</text>
<text x="1.60" y="265.00" font-size="22" font-weight="bold" text-anchor="start" fill="#000">D</text>
<text x="207.50" y="265.00" font-size="22" font-weight="bold" text-anchor="start" fill="#000">E</text>
<text x="491.20" y="265.00" font-size="22" font-weight="bold" text-anchor="start" fill="#000">F</text>
<line x1="67.70" y1="31.00" x2="67.70" y2="157.50" stroke="#000" stroke-width="2.7" stroke-linecap="butt"/>
<line x1="67.70" y1="168.50" x2="67.70" y2="202.50" stroke="#000" stroke-width="2.7" stroke-linecap="butt"/>
<line x1="63.00" y1="155.30" x2="71.70" y2="163.00" stroke="#000" stroke-width="2.5" stroke-linecap="butt"/>
<line x1="63.30" y1="164.80" x2="71.50" y2="172.90" stroke="#000" stroke-width="2.5" stroke-linecap="butt"/>
<line x1="61.90" y1="32.00" x2="67.70" y2="32.00" stroke="#000" stroke-width="2.5" stroke-linecap="butt"/>
<text x="60.60" y="36.70" font-size="13" font-weight="bold" text-anchor="end" fill="#000">1.2</text>
<line x1="61.90" y1="88.20" x2="67.70" y2="88.20" stroke="#000" stroke-width="2.5" stroke-linecap="butt"/>
<text x="60.60" y="92.90" font-size="13" font-weight="bold" text-anchor="end" fill="#000">1.0</text>
<line x1="61.90" y1="144.10" x2="67.70" y2="144.10" stroke="#000" stroke-width="2.5" stroke-linecap="butt"/>
<text x="60.60" y="148.80" font-size="13" font-weight="bold" text-anchor="end" fill="#000">0.8</text>
<text x="60.60" y="175.30" font-size="13" font-weight="bold" text-anchor="end" fill="#000">0.1</text>
<line x1="61.90" y1="201.40" x2="67.70" y2="201.40" stroke="#000" stroke-width="2.5" stroke-linecap="butt"/>
<text x="60.60" y="206.10" font-size="13" font-weight="bold" text-anchor="end" fill="#000">0.0</text>
<line x1="66.40" y1="201.40" x2="182.00" y2="201.40" stroke="#000" stroke-width="2.5" stroke-linecap="butt"/>
<rect x="73.80" y="87.50" width="25.00" height="69.80" fill="#000"/>
<rect x="73.80" y="170.10" width="25.00" height="31.30" fill="#000"/>
<line x1="86.40" y1="65.00" x2="86.40" y2="88.50" stroke="#000" stroke-width="1.9" stroke-linecap="butt"/>
<line x1="80.20" y1="65.00" x2="92.60" y2="65.00" stroke="#000" stroke-width="1.9" stroke-linecap="butt"/>
<rect x="112.35" y="194.05" width="23.30" height="6.60" fill="#d4d4d4" stroke="#000" stroke-width="1.9"/>
<line x1="124.00" y1="189.60" x2="124.00" y2="194.10" stroke="#000" stroke-width="1.9" stroke-linecap="butt"/>
<line x1="117.80" y1="189.60" x2="130.20" y2="189.60" stroke="#000" stroke-width="1.9" stroke-linecap="butt"/>
<rect x="150.15" y="195.45" width="22.90" height="5.20" fill="#a09fa4" stroke="#000" stroke-width="1.9"/>
<line x1="161.60" y1="192.60" x2="161.60" y2="195.50" stroke="#000" stroke-width="1.9" stroke-linecap="butt"/>
<line x1="155.40" y1="192.60" x2="167.80" y2="192.60" stroke="#000" stroke-width="1.9" stroke-linecap="butt"/>
<line x1="86.50" y1="201.40" x2="86.50" y2="207.30" stroke="#000" stroke-width="2.4" stroke-linecap="butt"/>
<line x1="124.00" y1="201.40" x2="124.00" y2="207.30" stroke="#000" stroke-width="2.4" stroke-linecap="butt"/>
<line x1="161.60" y1="201.40" x2="161.60" y2="207.30" stroke="#000" stroke-width="2.4" stroke-linecap="butt"/>
<text x="124.00" y="189.90" font-size="20" font-weight="normal" text-anchor="middle" fill="#000">**</text>
<text x="162.20" y="191.50" font-size="20" font-weight="normal" text-anchor="middle" fill="#000">**</text>
<text x="0" y="0" transform="translate(92.10,220.20) rotate(-45)" font-size="16.5" font-weight="normal" text-anchor="end" fill="#000">NPB</text>
<text x="0" y="0" transform="translate(129.40,220.70) rotate(-45)" font-size="16.5" font-weight="normal" text-anchor="end" fill="#000">20-8</text>
<text x="0" y="0" transform="translate(167.00,220.70) rotate(-45)" font-size="16.5" font-weight="normal" text-anchor="end" fill="#000">33-3</text>
<text x="0" y="0" transform="translate(34.10,115.90) rotate(-90)" font-size="16" font-weight="normal" text-anchor="middle" fill="#000">Relative expression</text>
<line x1="569.40" y1="31.30" x2="569.40" y2="202.60" stroke="#000" stroke-width="2.7" stroke-linecap="butt"/>
<line x1="563.40" y1="32.40" x2="569.40" y2="32.40" stroke="#000" stroke-width="2.5" stroke-linecap="butt"/>
<text x="562.20" y="37.10" font-size="13" font-weight="bold" text-anchor="end" fill="#000">100</text>
<line x1="563.40" y1="88.70" x2="569.40" y2="88.70" stroke="#000" stroke-width="2.5" stroke-linecap="butt"/>
<text x="562.20" y="93.40" font-size="13" font-weight="bold" text-anchor="end" fill="#000">80</text>
<line x1="563.40" y1="145.20" x2="569.40" y2="145.20" stroke="#000" stroke-width="2.5" stroke-linecap="butt"/>
<text x="562.20" y="149.90" font-size="13" font-weight="bold" text-anchor="end" fill="#000">60</text>
<line x1="563.40" y1="201.50" x2="569.40" y2="201.50" stroke="#000" stroke-width="2.5" stroke-linecap="butt"/>
<text x="562.20" y="206.20" font-size="13" font-weight="bold" text-anchor="end" fill="#000">40</text>
<line x1="568.10" y1="201.60" x2="683.00" y2="201.60" stroke="#000" stroke-width="2.5" stroke-linecap="butt"/>
<rect x="575.20" y="66.90" width="24.80" height="134.60" fill="#000"/>
<line x1="587.50" y1="59.70" x2="587.50" y2="67.90" stroke="#000" stroke-width="1.9" stroke-linecap="butt"/>
<line x1="581.30" y1="59.70" x2="593.70" y2="59.70" stroke="#000" stroke-width="1.9" stroke-linecap="butt"/>
<rect x="613.95" y="117.15" width="22.80" height="83.50" fill="#d4d4d4" stroke="#000" stroke-width="1.9"/>
<line x1="625.30" y1="109.30" x2="625.30" y2="117.20" stroke="#000" stroke-width="1.9" stroke-linecap="butt"/>
<line x1="619.10" y1="109.30" x2="631.50" y2="109.30" stroke="#000" stroke-width="1.9" stroke-linecap="butt"/>
<rect x="652.25" y="110.25" width="22.80" height="90.40" fill="#a09fa4" stroke="#000" stroke-width="1.9"/>
<line x1="663.70" y1="102.60" x2="663.70" y2="110.30" stroke="#000" stroke-width="1.9" stroke-linecap="butt"/>
<line x1="657.50" y1="102.60" x2="669.90" y2="102.60" stroke="#000" stroke-width="1.9" stroke-linecap="butt"/>
<line x1="587.40" y1="201.50" x2="587.40" y2="207.00" stroke="#000" stroke-width="2.4" stroke-linecap="butt"/>
<line x1="625.10" y1="201.50" x2="625.10" y2="207.00" stroke="#000" stroke-width="2.4" stroke-linecap="butt"/>
<line x1="662.80" y1="201.50" x2="662.80" y2="207.00" stroke="#000" stroke-width="2.4" stroke-linecap="butt"/>
<text x="625.60" y="108.80" font-size="20" font-weight="normal" text-anchor="middle" fill="#000">**</text>
<text x="663.80" y="103.70" font-size="20" font-weight="normal" text-anchor="middle" fill="#000">**</text>
<text x="0" y="0" transform="translate(593.50,220.20) rotate(-45)" font-size="16.5" font-weight="normal" text-anchor="end" fill="#000">NPB</text>
<text x="0" y="0" transform="translate(630.80,220.70) rotate(-45)" font-size="16.5" font-weight="normal" text-anchor="end" fill="#000">20-8</text>
<text x="0" y="0" transform="translate(668.80,220.50) rotate(-45)" font-size="16.5" font-weight="normal" text-anchor="end" fill="#000">33-3</text>
<text x="0" y="0" transform="translate(532.20,115.50) rotate(-90)" font-size="16" font-weight="normal" text-anchor="middle" fill="#000">Plant height (cm)</text>
<line x1="571.30" y1="286.00" x2="571.30" y2="456.60" stroke="#000" stroke-width="2.7" stroke-linecap="butt"/>
<line x1="563.50" y1="287.10" x2="571.30" y2="287.10" stroke="#000" stroke-width="2.5" stroke-linecap="butt"/>
<text x="562.30" y="291.80" font-size="13" font-weight="bold" text-anchor="end" fill="#000">120</text>
<line x1="563.50" y1="343.30" x2="571.30" y2="343.30" stroke="#000" stroke-width="2.5" stroke-linecap="butt"/>
<text x="562.30" y="348.00" font-size="13" font-weight="bold" text-anchor="end" fill="#000">100</text>
<line x1="563.50" y1="399.80" x2="571.30" y2="399.80" stroke="#000" stroke-width="2.5" stroke-linecap="butt"/>
<text x="562.30" y="404.50" font-size="13" font-weight="bold" text-anchor="end" fill="#000">80</text>
<line x1="563.50" y1="455.50" x2="571.30" y2="455.50" stroke="#000" stroke-width="2.5" stroke-linecap="butt"/>
<text x="562.30" y="460.20" font-size="13" font-weight="bold" text-anchor="end" fill="#000">60</text>
<line x1="570.00" y1="455.60" x2="659.00" y2="455.60" stroke="#000" stroke-width="2.5" stroke-linecap="butt"/>
<rect x="583.30" y="317.80" width="25.10" height="137.70" fill="#000"/>
<line x1="595.80" y1="311.60" x2="595.80" y2="318.80" stroke="#000" stroke-width="1.9" stroke-linecap="butt"/>
<line x1="589.60" y1="311.60" x2="602.00" y2="311.60" stroke="#000" stroke-width="1.9" stroke-linecap="butt"/>
<rect x="621.35" y="345.05" width="23.10" height="109.60" fill="#a09fa4" stroke="#000" stroke-width="1.9"/>
<line x1="633.00" y1="332.00" x2="633.00" y2="345.10" stroke="#000" stroke-width="1.9" stroke-linecap="butt"/>
<line x1="626.80" y1="332.00" x2="639.20" y2="332.00" stroke="#000" stroke-width="1.9" stroke-linecap="butt"/>
<line x1="595.60" y1="455.50" x2="595.60" y2="463.20" stroke="#000" stroke-width="2.4" stroke-linecap="butt"/>
<line x1="633.10" y1="455.50" x2="633.10" y2="463.20" stroke="#000" stroke-width="2.4" stroke-linecap="butt"/>
<text x="632.00" y="333.60" font-size="20" font-weight="normal" text-anchor="middle" fill="#000">**</text>
<text x="0" y="0" transform="translate(592.00,475.00) rotate(-45)" font-size="16.5" font-weight="normal" text-anchor="end" fill="#000">ZH11</text>
<text x="0" y="0" transform="translate(629.40,480.70) rotate(-45)" font-size="16" font-weight="normal" text-anchor="end" fill="#000" font-style="italic">osnap-me2</text>
<text x="0" y="0" transform="translate(532.20,370.40) rotate(-90)" font-size="16" font-weight="normal" text-anchor="middle" fill="#000">Plant height(cm)</text>
<line x1="273.00" y1="286.00" x2="273.00" y2="457.20" stroke="#000" stroke-width="2.7" stroke-linecap="butt"/>
<line x1="267.40" y1="287.00" x2="273.00" y2="287.00" stroke="#000" stroke-width="2.5" stroke-linecap="butt"/>
<text x="266.40" y="291.70" font-size="13" font-weight="bold" text-anchor="end" fill="#000">30</text>
<line x1="267.40" y1="343.00" x2="273.00" y2="343.00" stroke="#000" stroke-width="2.5" stroke-linecap="butt"/>
<text x="266.40" y="347.70" font-size="13" font-weight="bold" text-anchor="end" fill="#000">20</text>
<line x1="267.40" y1="399.40" x2="273.00" y2="399.40" stroke="#000" stroke-width="2.5" stroke-linecap="butt"/>
<text x="266.40" y="404.10" font-size="13" font-weight="bold" text-anchor="end" fill="#000">10</text>
<line x1="267.40" y1="456.10" x2="273.00" y2="456.10" stroke="#000" stroke-width="2.5" stroke-linecap="butt"/>
<text x="266.40" y="460.80" font-size="13" font-weight="bold" text-anchor="end" fill="#000">0</text>
<line x1="271.70" y1="455.90" x2="477.80" y2="455.90" stroke="#000" stroke-width="2.5" stroke-linecap="butt"/>
<rect x="280.80" y="346.00" width="10.00" height="110.10" fill="#000"/>
<line x1="285.80" y1="340.50" x2="285.80" y2="347.00" stroke="#000" stroke-width="1.7" stroke-linecap="butt"/>
<line x1="283.20" y1="340.80" x2="288.40" y2="340.80" stroke="#000" stroke-width="1.6" stroke-linecap="butt"/>
<rect x="292.70" y="367.30" width="8.40" height="88.20" fill="#a09fa4" stroke="#000" stroke-width="1.6"/>
<line x1="296.90" y1="361.80" x2="296.90" y2="367.50" stroke="#000" stroke-width="1.7" stroke-linecap="butt"/>
<line x1="294.30" y1="362.10" x2="299.50" y2="362.10" stroke="#000" stroke-width="1.6" stroke-linecap="butt"/>
<rect x="303.80" y="365.30" width="8.40" height="90.20" fill="#828282" stroke="#000" stroke-width="1.6"/>
<line x1="308.00" y1="357.10" x2="308.00" y2="365.50" stroke="#000" stroke-width="1.7" stroke-linecap="butt"/>
<line x1="305.40" y1="357.40" x2="310.60" y2="357.40" stroke="#000" stroke-width="1.6" stroke-linecap="butt"/>
<text x="297.90" y="364.20" font-size="13" font-weight="normal" text-anchor="middle" fill="#000">**</text>
<text x="307.90" y="359.20" font-size="13" font-weight="normal" text-anchor="middle" fill="#000">**</text>
<rect x="319.50" y="306.00" width="10.00" height="150.10" fill="#000"/>
<line x1="324.50" y1="304.00" x2="324.50" y2="307.00" stroke="#000" stroke-width="1.7" stroke-linecap="butt"/>
<line x1="321.90" y1="304.30" x2="327.10" y2="304.30" stroke="#000" stroke-width="1.6" stroke-linecap="butt"/>
<rect x="331.40" y="345.90" width="8.40" height="109.60" fill="#a09fa4" stroke="#000" stroke-width="1.6"/>
<line x1="335.60" y1="342.50" x2="335.60" y2="346.10" stroke="#000" stroke-width="1.7" stroke-linecap="butt"/>
<line x1="333.00" y1="342.80" x2="338.20" y2="342.80" stroke="#000" stroke-width="1.6" stroke-linecap="butt"/>
<rect x="342.50" y="339.80" width="8.40" height="115.70" fill="#828282" stroke="#000" stroke-width="1.6"/>
<line x1="346.70" y1="336.40" x2="346.70" y2="340.00" stroke="#000" stroke-width="1.7" stroke-linecap="butt"/>
<line x1="344.10" y1="336.70" x2="349.30" y2="336.70" stroke="#000" stroke-width="1.6" stroke-linecap="butt"/>
<text x="335.30" y="344.90" font-size="13" font-weight="normal" text-anchor="middle" fill="#000">**</text>
<text x="347.90" y="339.00" font-size="13" font-weight="normal" text-anchor="middle" fill="#000">**</text>
<rect x="358.20" y="366.00" width="10.00" height="90.10" fill="#000"/>
<line x1="363.20" y1="359.50" x2="363.20" y2="367.00" stroke="#000" stroke-width="1.7" stroke-linecap="butt"/>
<line x1="360.60" y1="359.80" x2="365.80" y2="359.80" stroke="#000" stroke-width="1.6" stroke-linecap="butt"/>
<rect x="370.10" y="402.80" width="8.40" height="52.70" fill="#a09fa4" stroke="#000" stroke-width="1.6"/>
<line x1="374.30" y1="397.60" x2="374.30" y2="403.00" stroke="#000" stroke-width="1.7" stroke-linecap="butt"/>
<line x1="371.70" y1="397.90" x2="376.90" y2="397.90" stroke="#000" stroke-width="1.6" stroke-linecap="butt"/>
<rect x="381.20" y="417.90" width="8.40" height="37.60" fill="#828282" stroke="#000" stroke-width="1.6"/>
<line x1="385.40" y1="413.40" x2="385.40" y2="418.10" stroke="#000" stroke-width="1.7" stroke-linecap="butt"/>
<line x1="382.80" y1="413.70" x2="388.00" y2="413.70" stroke="#000" stroke-width="1.6" stroke-linecap="butt"/>
<text x="374.50" y="400.40" font-size="13" font-weight="normal" text-anchor="middle" fill="#000">**</text>
<text x="386.10" y="416.90" font-size="13" font-weight="normal" text-anchor="middle" fill="#000">**</text>
<rect x="397.00" y="421.40" width="10.00" height="34.70" fill="#000"/>
<line x1="402.00" y1="420.40" x2="402.00" y2="422.40" stroke="#000" stroke-width="1.7" stroke-linecap="butt"/>
<line x1="399.40" y1="420.70" x2="404.60" y2="420.70" stroke="#000" stroke-width="1.6" stroke-linecap="butt"/>
<rect x="408.90" y="430.60" width="8.40" height="24.90" fill="#a09fa4" stroke="#000" stroke-width="1.6"/>
<line x1="413.10" y1="426.50" x2="413.10" y2="430.80" stroke="#000" stroke-width="1.7" stroke-linecap="butt"/>
<line x1="410.50" y1="426.80" x2="415.70" y2="426.80" stroke="#000" stroke-width="1.6" stroke-linecap="butt"/>
<rect x="420.00" y="435.60" width="8.40" height="19.90" fill="#828282" stroke="#000" stroke-width="1.6"/>
<line x1="424.20" y1="432.70" x2="424.20" y2="435.80" stroke="#000" stroke-width="1.7" stroke-linecap="butt"/>
<line x1="421.60" y1="433.00" x2="426.80" y2="433.00" stroke="#000" stroke-width="1.6" stroke-linecap="butt"/>
<text x="414.10" y="430.30" font-size="13" font-weight="normal" text-anchor="middle" fill="#000">**</text>
<text x="425.20" y="435.80" font-size="13" font-weight="normal" text-anchor="middle" fill="#000">**</text>
<rect x="435.70" y="447.20" width="10.00" height="8.90" fill="#000"/>
<line x1="440.70" y1="445.60" x2="440.70" y2="448.20" stroke="#000" stroke-width="1.7" stroke-linecap="butt"/>
<line x1="438.10" y1="445.90" x2="443.30" y2="445.90" stroke="#000" stroke-width="1.6" stroke-linecap="butt"/>
<rect x="447.60" y="451.80" width="8.40" height="3.70" fill="#a09fa4" stroke="#000" stroke-width="1.6"/>
<line x1="451.80" y1="449.00" x2="451.80" y2="452.00" stroke="#000" stroke-width="1.7" stroke-linecap="butt"/>
<line x1="449.20" y1="449.30" x2="454.40" y2="449.30" stroke="#000" stroke-width="1.6" stroke-linecap="butt"/>
<rect x="458.70" y="450.60" width="8.40" height="4.90" fill="#828282" stroke="#000" stroke-width="1.6"/>
<line x1="462.90" y1="448.40" x2="462.90" y2="450.80" stroke="#000" stroke-width="1.7" stroke-linecap="butt"/>
<line x1="460.30" y1="448.70" x2="465.50" y2="448.70" stroke="#000" stroke-width="1.6" stroke-linecap="butt"/>
<text x="452.80" y="453.00" font-size="13" font-weight="normal" text-anchor="middle" fill="#000">**</text>
<text x="463.50" y="451.40" font-size="13" font-weight="normal" text-anchor="middle" fill="#000">*</text>
<line x1="296.90" y1="456.10" x2="296.90" y2="461.50" stroke="#000" stroke-width="2.4" stroke-linecap="butt"/>
<line x1="335.80" y1="456.10" x2="335.80" y2="461.50" stroke="#000" stroke-width="2.4" stroke-linecap="butt"/>
<line x1="374.30" y1="456.10" x2="374.30" y2="461.50" stroke="#000" stroke-width="2.4" stroke-linecap="butt"/>
<line x1="412.90" y1="456.10" x2="412.90" y2="461.50" stroke="#000" stroke-width="2.4" stroke-linecap="butt"/>
<line x1="451.80" y1="456.10" x2="451.80" y2="461.50" stroke="#000" stroke-width="2.4" stroke-linecap="butt"/>
<text x="0" y="0" transform="translate(302.70,474.50) rotate(-45)" font-size="16.5" font-weight="normal" text-anchor="end" fill="#000">panicle</text>
<text x="0" y="0" transform="translate(338.00,477.40) rotate(-45)" font-size="16.5" font-weight="normal" text-anchor="end" fill="#000">1th</text>
<text x="0" y="0" transform="translate(376.70,478.60) rotate(-45)" font-size="16.5" font-weight="normal" text-anchor="end" fill="#000">2nd</text>
<text x="0" y="0" transform="translate(415.30,478.70) rotate(-45)" font-size="16.5" font-weight="normal" text-anchor="end" fill="#000">3rd</text>
<text x="0" y="0" transform="translate(454.00,478.30) rotate(-45)" font-size="16.5" font-weight="normal" text-anchor="end" fill="#000">4th</text>
<text x="0" y="0" transform="translate(244.20,370.50) rotate(-90)" font-size="16" font-weight="normal" text-anchor="middle" fill="#000">Length of internode (cm)</text>
<rect x="421.40" y="293.80" width="17.80" height="7.40" fill="#000"/>
<rect x="422.05" y="314.05" width="16.50" height="6.30" fill="#a09fa4" stroke="#000" stroke-width="1.3"/>
<rect x="422.05" y="334.45" width="16.50" height="6.20" fill="#828282" stroke="#000" stroke-width="1.3"/>
<text x="449.50" y="302.00" font-size="12.4" font-weight="normal" text-anchor="start" fill="#000">NPB</text>
<text x="449.50" y="321.90" font-size="12.4" font-weight="normal" text-anchor="start" fill="#000">20-8</text>
<text x="449.50" y="342.00" font-size="12.4" font-weight="normal" text-anchor="start" fill="#000">33-3</text>
<text x="292.00" y="240.80" font-size="16.5" font-weight="normal" text-anchor="middle" fill="#000">NPB</text>
<text x="373.00" y="240.80" font-size="16.5" font-weight="normal" text-anchor="middle" fill="#000">20-8</text>
<text x="443.50" y="240.80" font-size="16.5" font-weight="normal" text-anchor="middle" fill="#000">33-3</text>
<text x="0" y="0" transform="translate(30.60,469.30) rotate(-90)" font-size="9.2" font-weight="normal" text-anchor="end" fill="#000">panicle</text>
<text x="0" y="0" transform="translate(42.60,469.30) rotate(-90)" font-size="9.2" font-weight="normal" text-anchor="end" fill="#000">1st</text>
<text x="0" y="0" transform="translate(54.00,469.30) rotate(-90)" font-size="9.2" font-weight="normal" text-anchor="end" fill="#000">2nd</text>
<text x="0" y="0" transform="translate(64.30,469.30) rotate(-90)" font-size="9.2" font-weight="normal" text-anchor="end" fill="#000">3rd</text>
<text x="0" y="0" transform="translate(74.90,469.30) rotate(-90)" font-size="9.2" font-weight="normal" text-anchor="end" fill="#000">4th</text>
<text x="0" y="0" transform="translate(84.40,469.30) rotate(-90)" font-size="9.2" font-weight="normal" text-anchor="end" fill="#000">panicle</text>
<text x="0" y="0" transform="translate(95.80,469.30) rotate(-90)" font-size="9.2" font-weight="normal" text-anchor="end" fill="#000">1st</text>
<text x="0" y="0" transform="translate(107.80,469.30) rotate(-90)" font-size="9.2" font-weight="normal" text-anchor="end" fill="#000">2nd</text>
<text x="0" y="0" transform="translate(117.80,469.30) rotate(-90)" font-size="9.2" font-weight="normal" text-anchor="end" fill="#000">3rd</text>
<text x="0" y="0" transform="translate(128.00,469.30) rotate(-90)" font-size="9.2" font-weight="normal" text-anchor="end" fill="#000">4th</text>
<text x="0" y="0" transform="translate(140.80,469.30) rotate(-90)" font-size="9.2" font-weight="normal" text-anchor="end" fill="#000">panicle</text>
<text x="0" y="0" transform="translate(151.40,469.30) rotate(-90)" font-size="9.2" font-weight="normal" text-anchor="end" fill="#000">1st</text>
<text x="0" y="0" transform="translate(161.10,469.30) rotate(-90)" font-size="9.2" font-weight="normal" text-anchor="end" fill="#000">2nd</text>
<text x="0" y="0" transform="translate(171.80,469.30) rotate(-90)" font-size="9.2" font-weight="normal" text-anchor="end" fill="#000">3rd</text>
<text x="0" y="0" transform="translate(181.10,469.30) rotate(-90)" font-size="9.2" font-weight="normal" text-anchor="end" fill="#000">4th</text>
<line x1="24.30" y1="501.40" x2="74.40" y2="501.40" stroke="#8a8a8a" stroke-width="1" stroke-linecap="butt"/>
<line x1="78.10" y1="501.40" x2="128.10" y2="501.40" stroke="#8a8a8a" stroke-width="1" stroke-linecap="butt"/>
<line x1="133.60" y1="501.40" x2="183.60" y2="501.40" stroke="#8a8a8a" stroke-width="1" stroke-linecap="butt"/>
<text x="51.00" y="515.40" font-size="16.5" font-weight="normal" text-anchor="middle" fill="#000">NPB</text>
<text x="104.40" y="515.40" font-size="16.5" font-weight="normal" text-anchor="middle" fill="#000">20-8</text>
<text x="158.20" y="515.40" font-size="16.5" font-weight="normal" text-anchor="middle" fill="#000">33-3</text>
</svg>
</body></html>
